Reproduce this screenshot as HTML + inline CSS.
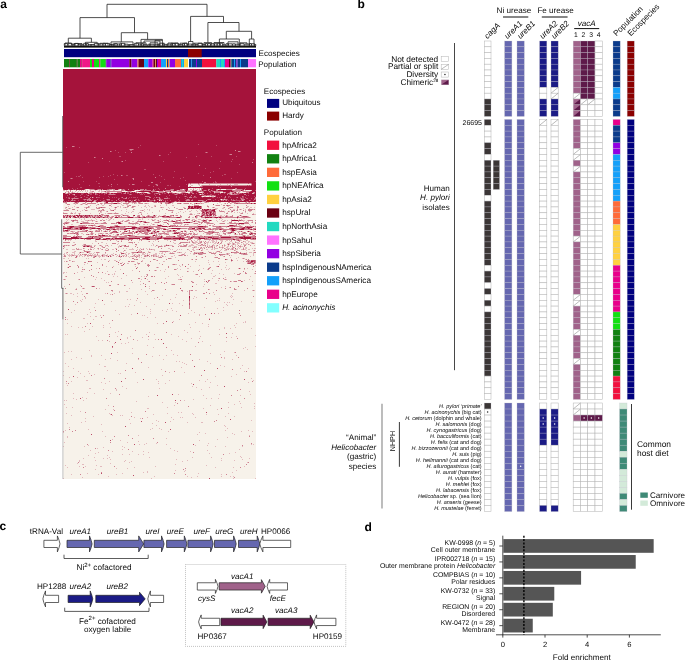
<!DOCTYPE html>
<html><head><meta charset="utf-8"><style>
html,body{margin:0;padding:0;background:#fff;}
svg{display:block;font-family:"Liberation Sans", sans-serif;will-change:transform;text-rendering:geometricPrecision;}
</style></head><body>
<svg width="685" height="661" viewBox="0 0 685 661">
<text x="0.3" y="8.2" font-size="12" text-anchor="start" font-style="normal" font-weight="bold" fill="#000" >a</text>
<rect x="63.30" y="69.00" width="192.70" height="410.00" fill="#f7f2ea" />
<g transform="translate(63.3,69.0)" shape-rendering="crispEdges" fill="none" stroke-width="1">
<path d="M125 115.5h1m1 0h1m7 0h2m9 0h1m10 0h1m6 0h1m2 0h1m3 0h4M128 116.5h2m6 0h1m1 0h1m14 0h1M126 117.5h1M130 119.5h1m1 0h1m3 0h1M22 120.5h1m3 0h1m22 0h1m6 0h1m62 0h1m7 0h2m5 0h1m1 0h1m17 0h1m1 0h1m12 0h1m2 0h1M0 121.5h2m1 0h1m12 0h1m3 0h1m1 0h1m1 0h1m2 0h1m4 0h1m3 0h1m1 0h1m4 0h4m3 0h2m9 0h1m15 0h1m36 0h2m9 0h2m4 0h1m4 0h1m45 0h1m5 0h1M3 122.5h2m4 0h1m2 0h1m2 0h1m1 0h1m1 0h1m2 0h1m1 0h1m2 0h2m6 0h2m1 0h3m2 0h1m20 0h1m3 0h1m24 0h1m6 0h1m9 0h2m1 0h2m9 0h1m26 0h1m23 0h1m1 0h1m1 0h1M6 123.5h1m1 0h1m1 0h2m2 0h1m8 0h1m2 0h4m1 0h1m6 0h1m3 0h2m2 0h1m31 0h1m2 0h1m3 0h1m18 0h1m1 0h1m2 0h1m8 0h1m3 0h1m16 0h1m11 0h1m9 0h1m5 0h2m4 0h1m2 0h1M3 124.5h1m21 0h1m59 0h2m29 0h1m50 0h2m20 0h2M11 125.5h1m84 0h1m71 0h1M141 127.5h2m3 0h1m1 0h3M29 128.5h1M161 130.5h1M71 131.5h1m19 0h1m6 0h1m80 0h1M31 132.5h1M11 133.5h1m11 0h1m9 0h1m7 0h1m6 0h2m4 0h2m2 0h1m3 0h2m3 0h2m4 0h1m3 0h1m12 0h1m5 0h1m2 0h3m8 0h1m26 0h1m3 0h1m2 0h2m10 0h2m10 0h1m4 0h4m5 0h1m2 0h1M2 134.5h1m7 0h1m1 0h1m6 0h1m2 0h1m16 0h1m17 0h1m11 0h1m2 0h2m1 0h1m5 0h1m2 0h2m11 0h1m9 0h1m1 0h1m8 0h1m1 0h1m7 0h1m8 0h1m1 0h2m13 0h1m6 0h1m6 0h1M12 135.5h1m4 0h1m1 0h1m2 0h1m1 0h1m9 0h1m3 0h1m2 0h1m6 0h1m9 0h1m4 0h2m38 0h1m25 0h1m1 0h1m26 0h1M27 136.5h1m5 0h1m5 0h2m18 0h2m3 0h2m9 0h1m6 0h1m2 0h1m5 0h2m4 0h1m5 0h1m5 0h2m15 0h1m17 0h1m7 0h1m14 0h1m3 0h1M5 137.5h1m5 0h1m14 0h1m21 0h1m5 0h2m1 0h1m14 0h1m8 0h2m3 0h1m4 0h1m72 0h2m9 0h1m8 0h2M2 138.5h1m6 0h1m3 0h1m7 0h2m3 0h1m8 0h1m6 0h1m8 0h1m5 0h1m2 0h2m1 0h2m3 0h1m1 0h1m7 0h1m4 0h1m4 0h2m7 0h1m1 0h2m4 0h1m14 0h2m23 0h1m3 0h1m1 0h1m8 0h1m5 0h1m17 0h1m2 0h2m2 0h1M2 139.5h1m2 0h1m1 0h1m25 0h1m12 0h1m5 0h1m53 0h1m6 0h2m9 0h1m27 0h3m4 0h2m5 0h1m7 0h1m5 0h1m5 0h1M3 140.5h2m16 0h1m6 0h4m15 0h1m3 0h2m10 0h1m7 0h1m9 0h1m2 0h1m1 0h1m12 0h1m4 0h1m10 0h1m20 0h1m11 0h1m4 0h1m8 0h1m7 0h2m4 0h1m1 0h1m3 0h1m7 0h1M0 141.5h1m18 0h1m4 0h1m10 0h1m1 0h1m1 0h1m1 0h1m5 0h1m10 0h1m18 0h2m1 0h1m5 0h1m9 0h1m13 0h1m17 0h1m4 0h1m3 0h1m20 0h1m9 0h2m3 0h1m8 0h1M17 142.5h1m17 0h1m2 0h1m4 0h1m19 0h1m5 0h2m10 0h1m14 0h1m12 0h1m7 0h1m4 0h1m3 0h2m6 0h1m21 0h1m4 0h1m4 0h1m19 0h2M0 143.5h1m7 0h1m3 0h1m24 0h2m13 0h1m12 0h1m2 0h1m7 0h1m1 0h1m10 0h1m18 0h1m6 0h1m4 0h1m21 0h1m6 0h1m11 0h1m2 0h1m3 0h1m2 0h1m2 0h1m1 0h1m2 0h1m2 0h1M4 144.5h1m2 0h1m3 0h2m2 0h1m1 0h1m9 0h1m14 0h1m1 0h1m4 0h2m4 0h1m6 0h1m12 0h1m2 0h1m5 0h1m17 0h1m10 0h1m13 0h2m5 0h2m2 0h1m38 0h1m6 0h1m5 0h1M40 145.5h1m17 0h2m66 0h1m2 0h1m1 0h1m6 0h1m3 0h1m2 0h1m45 0h2M1 146.5h1m6 0h1m1 0h1m19 0h1m4 0h1m2 0h1m1 0h1m10 0h1m5 0h1m1 0h1m5 0h1m8 0h1m4 0h1m4 0h1m1 0h1m5 0h2m2 0h1m3 0h1m11 0h1m23 0h1m14 0h1m1 0h1m3 0h2m2 0h1m2 0h1m11 0h1m1 0h1M2 147.5h1m2 0h1m3 0h1m6 0h1m3 0h1m7 0h1m1 0h1m2 0h1m2 0h1m2 0h1m1 0h1m1 0h1m2 0h1m1 0h1m3 0h1m17 0h1m8 0h1m16 0h1m11 0h1m1 0h1m23 0h1m1 0h1m4 0h1m1 0h1m1 0h1m1 0h6m2 0h2m1 0h3m4 0h2m11 0h1m6 0h1M2 148.5h1m2 0h1m3 0h1m6 0h1m9 0h1m1 0h1m3 0h1m12 0h2m4 0h1m19 0h1m20 0h4m3 0h1m18 0h1m10 0h2m3 0h1m52 0h1M16 149.5h1m4 0h1m10 0h1m12 0h1m1 0h1m31 0h1m53 0h1m8 0h1m10 0h1m3 0h2m15 0h1m5 0h2M3 150.5h1m1 0h1m6 0h1m5 0h1m2 0h1m6 0h1m4 0h1m5 0h1m3 0h1m2 0h2m2 0h1m14 0h1m9 0h3m1 0h1m5 0h1m2 0h2m1 0h2m4 0h1m5 0h1m2 0h1m5 0h1m4 0h1m11 0h3m3 0h3m2 0h1m2 0h2m11 0h1m2 0h1m8 0h1m2 0h1m4 0h1m1 0h1M4 151.5h1m17 0h3m1 0h3m1 0h2m13 0h2m12 0h2m2 0h1m2 0h1m8 0h1m15 0h1m2 0h1m5 0h1m7 0h1m10 0h1m1 0h1m1 0h1m4 0h1m2 0h1m1 0h1m4 0h1m6 0h1m7 0h1m4 0h1m2 0h2m1 0h1m15 0h2m2 0h1M3 152.5h1m10 0h1m3 0h3m3 0h1m4 0h1m2 0h1m1 0h1m20 0h1m1 0h2m2 0h1m2 0h1m4 0h2m24 0h2m2 0h1m6 0h2m6 0h1m2 0h1m11 0h1m2 0h3m1 0h1m2 0h1m6 0h1m7 0h1m4 0h1m1 0h1m18 0h1m2 0h1m1 0h1m3 0h1M1 153.5h1m4 0h1m6 0h1m1 0h1m3 0h1m5 0h1m14 0h1m24 0h1m6 0h1m1 0h1m2 0h1m2 0h1m5 0h1m4 0h1m4 0h1m3 0h1m18 0h1m9 0h1m5 0h1m1 0h1m8 0h1m24 0h2m8 0h1m3 0h1m2 0h1M5 154.5h1m21 0h1m7 0h3m14 0h1m6 0h1m5 0h1m9 0h1m12 0h1m16 0h1m13 0h1m10 0h1m12 0h1m6 0h1m5 0h1m7 0h3M8 155.5h2m21 0h1m37 0h2m1 0h1m7 0h2m2 0h1m4 0h1m1 0h1m2 0h1m2 0h1m2 0h1m10 0h1m6 0h1m2 0h1m1 0h1m1 0h1m9 0h1m1 0h1m6 0h1m31 0h1m1 0h3m5 0h1M15 156.5h1m6 0h1m9 0h1m3 0h1m3 0h1m10 0h1m35 0h1m11 0h1m17 0h1m3 0h1m12 0h1m7 0h1m6 0h2m25 0h2m9 0h1M29 157.5h1m2 0h1m39 0h1m3 0h1m72 0h1m29 0h1m11 0h1M3 158.5h1m28 0h1m4 0h1m24 0h1m5 0h1m21 0h1m1 0h1m4 0h1m6 0h1m24 0h2m12 0h2m13 0h1m4 0h1m4 0h2m6 0h1m15 0h1M10 159.5h1m32 0h1m9 0h1m2 0h1m45 0h1m2 0h1m18 0h1m8 0h1m11 0h1m3 0h1m10 0h1m26 0h2M19 160.5h1m6 0h1m1 0h1m12 0h2m4 0h1m8 0h1m15 0h2m14 0h1m1 0h1m7 0h1m6 0h1m34 0h1m10 0h1m3 0h1M19 161.5h3m10 0h1m1 0h2m6 0h1m1 0h1m1 0h1m4 0h2m2 0h1m5 0h2m1 0h2m8 0h1m1 0h1m13 0h2m12 0h2m2 0h2m11 0h2m8 0h1m1 0h1m1 0h2m12 0h1m2 0h1m10 0h1m3 0h1m5 0h1m16 0h1M2 162.5h1m2 0h1m1 0h1m2 0h2m2 0h1m1 0h1m8 0h1m12 0h1m1 0h1m3 0h1m4 0h1m14 0h1m7 0h1m10 0h1m3 0h1m1 0h1m2 0h2m2 0h1m4 0h3m4 0h2m7 0h1m5 0h1m4 0h1m4 0h1m5 0h1m1 0h1m9 0h1m5 0h1m16 0h2m1 0h1m1 0h1m7 0h1m3 0h1M9 163.5h2m4 0h1m8 0h1m4 0h1m17 0h1m7 0h1m3 0h1m1 0h1m3 0h1m3 0h1m6 0h1m8 0h1m4 0h1m3 0h2m4 0h1m3 0h2m11 0h1m1 0h1m3 0h1m6 0h1m10 0h1m18 0h1m2 0h2m6 0h1m7 0h1m9 0h1M6 164.5h1m8 0h1m2 0h2m7 0h1m2 0h1m4 0h2m2 0h2m1 0h1m3 0h1m11 0h1m16 0h2m1 0h1m11 0h1m1 0h2m1 0h1m8 0h2m3 0h1m7 0h1m5 0h1m1 0h1m4 0h1m3 0h1m5 0h1m2 0h1m10 0h1m1 0h1m7 0h1m6 0h1m6 0h1M20 165.5h1m5 0h2m7 0h1m9 0h1m4 0h1m2 0h1m6 0h1m8 0h1m4 0h2m9 0h1m5 0h1m3 0h2m1 0h1m2 0h2m15 0h1m9 0h1m5 0h1m8 0h3m1 0h1m4 0h2m1 0h2m4 0h1m9 0h1m1 0h2m2 0h1m13 0h1M11 166.5h1m40 0h2m1 0h1m5 0h1m8 0h2m17 0h1m4 0h1m1 0h1m1 0h1m7 0h1m10 0h1m11 0h1m1 0h1m5 0h2m10 0h1m5 0h1m10 0h1m12 0h1m2 0h1m1 0h2m3 0h1M12 167.5h1m41 0h2m32 0h1m5 0h1m17 0h1m1 0h1m8 0h1m4 0h1m11 0h1M3 168.5h1m14 0h1m4 0h1m6 0h1m18 0h1m6 0h1M131 169.5h1m14 0h1m24 0h2M12 170.5h1m10 0h1m50 0h1m59 0h1m41 0h2m2 0h1m3 0h1m2 0h1M5 171.5h1m1 0h1m24 0h1m11 0h1m8 0h1m4 0h1m17 0h1m15 0h1m11 0h1m5 0h1m20 0h1m2 0h1m1 0h1m9 0h1m1 0h3m2 0h1m3 0h3m3 0h2m1 0h1m4 0h1m1 0h1m3 0h2m4 0h2M32 172.5h2m20 0h1m30 0h1m4 0h1m35 0h1m1 0h1m3 0h2m2 0h2m2 0h1m4 0h1m3 0h3m1 0h1m4 0h2m2 0h1m4 0h2m3 0h1m8 0h2m2 0h2M10 173.5h2m26 0h2m25 0h1m9 0h1m34 0h1m14 0h1m5 0h4m1 0h1m6 0h3m1 0h1m1 0h2m1 0h2m12 0h1m2 0h1m3 0h3m3 0h1m2 0h1m2 0h1m1 0h3M29 174.5h1m13 0h1m11 0h1m13 0h1m19 0h1m21 0h2m17 0h3m3 0h2m3 0h1m2 0h1m6 0h2m2 0h1m2 0h1m5 0h4m1 0h1m1 0h1m2 0h3m3 0h1m2 0h2m3 0h1m2 0h1M11 175.5h1m8 0h1m33 0h1m35 0h1m12 0h1m11 0h1m4 0h1m3 0h1m3 0h2m3 0h2m6 0h1m2 0h1m5 0h1m5 0h1m4 0h1m2 0h1m1 0h1m2 0h1m1 0h2m1 0h1m3 0h1m1 0h4m2 0h1M0 176.5h1m1 0h1m1 0h1m1 0h1m4 0h1m7 0h2m6 0h2m2 0h2m3 0h1m1 0h1m3 0h2m4 0h1m7 0h1m1 0h3m4 0h1m7 0h1m14 0h1m1 0h1m3 0h1m3 0h1m2 0h2m3 0h4m6 0h3m1 0h1m5 0h5m4 0h2m1 0h2m1 0h1m2 0h1m1 0h1m3 0h2m1 0h1m8 0h1m2 0h1m2 0h2m2 0h1m4 0h1m13 0h1M1 177.5h1m36 0h1m3 0h1m2 0h1m9 0h2m35 0h1m6 0h1m2 0h1m20 0h1m1 0h3m3 0h3m8 0h1m3 0h2m3 0h1m1 0h1m2 0h1m2 0h1m1 0h1m2 0h2m6 0h1m1 0h1m3 0h2M1 178.5h1m25 0h1m2 0h1m8 0h1m15 0h1m73 0h2m1 0h2m1 0h1m1 0h1m2 0h2m4 0h3m8 0h2m1 0h1m2 0h2m4 0h1m1 0h1m3 0h1m1 0h1m2 0h1m1 0h2M15 179.5h1m5 0h1m5 0h1m3 0h1m2 0h1m2 0h1m5 0h2m7 0h2m6 0h1m2 0h1m5 0h1m7 0h1m2 0h1m2 0h1m2 0h1m18 0h2m23 0h1m7 0h2m9 0h1m1 0h4m4 0h1m2 0h1m1 0h3m1 0h1m1 0h1m3 0h1m1 0h1m5 0h2m5 0h1m1 0h2M3 180.5h2m4 0h3m1 0h1m2 0h3m11 0h1m4 0h1m2 0h1m3 0h1m6 0h2m15 0h5m3 0h1m1 0h1m2 0h1m4 0h1m2 0h1m1 0h3m15 0h1m1 0h1m4 0h1m1 0h1m1 0h1m6 0h1m3 0h2m2 0h3m3 0h1m3 0h2m3 0h2m1 0h1m6 0h1m3 0h1m1 0h1m2 0h2m1 0h1m1 0h3m3 0h2m1 0h2m2 0h2M20 181.5h1m21 0h1m2 0h1m16 0h1m13 0h2m13 0h1m21 0h1m12 0h1m3 0h2m7 0h1m17 0h1m3 0h3m8 0h1m10 0h1m6 0h1M11 182.5h2m14 0h1m32 0h1m15 0h2m7 0h1m10 0h1m8 0h2m3 0h1m16 0h1m17 0h1m7 0h1m20 0h1M3 183.5h1m5 0h3m4 0h1m1 0h3m2 0h1m2 0h1m4 0h1m4 0h1m20 0h2m4 0h1m4 0h1m10 0h1m5 0h1m1 0h1m11 0h1m2 0h1m4 0h1m1 0h1m4 0h2m1 0h2m3 0h1m9 0h5m3 0h1m7 0h1m1 0h1m1 0h2m2 0h2m25 0h1m2 0h3m1 0h1M1 184.5h1m1 0h1m7 0h1m4 0h1m9 0h3m1 0h1m3 0h1m7 0h1m7 0h1m10 0h2m2 0h2m2 0h2m8 0h2m1 0h1m1 0h1m7 0h2m2 0h1m1 0h2m6 0h1m4 0h1m9 0h1m5 0h1m2 0h1m3 0h1m28 0h1m1 0h2m4 0h3m16 0h1M0 185.5h2m2 0h1m1 0h1m1 0h2m1 0h1m3 0h1m4 0h1m4 0h1m1 0h1m1 0h1m1 0h2m6 0h3m2 0h1m3 0h2m3 0h1m2 0h1m1 0h1m3 0h2m1 0h1m3 0h1m1 0h2m2 0h2m2 0h3m2 0h1m1 0h1m3 0h4m24 0h1m2 0h1m8 0h2m3 0h1m3 0h1m11 0h1m10 0h2m1 0h1m12 0h2m4 0h1m5 0h1M2 186.5h1m2 0h4m2 0h4m1 0h3m2 0h1m3 0h1m3 0h8m1 0h1m1 0h3m1 0h1m1 0h1m2 0h1m4 0h1m4 0h3m8 0h1m2 0h3m2 0h1m2 0h1m1 0h1m5 0h1m1 0h3m1 0h1m2 0h2m11 0h1m3 0h1m3 0h1m4 0h1m27 0h1m5 0h2m8 0h1m21 0h1M0 187.5h1m5 0h1m1 0h1m5 0h1m1 0h1m2 0h1m1 0h1m2 0h2m2 0h1m1 0h1m2 0h1m1 0h3m2 0h2m1 0h2m3 0h1m4 0h1m1 0h1m1 0h1m4 0h2m1 0h1m1 0h2m1 0h2m1 0h1m1 0h2m6 0h2m3 0h1m2 0h2m1 0h2m1 0h1m2 0h1m1 0h1m5 0h2m50 0h1m26 0h1M36 188.5h1m20 0h1m8 0h1m9 0h1m1 0h1m16 0h1m16 0h1m25 0h1m12 0h1m15 0h1m7 0h1M0 189.5h2m3 0h1m17 0h1m1 0h1m54 0h2m26 0h1m64 0h1m5 0h1m1 0h1M38 190.5h1m2 0h2m14 0h1m14 0h1m19 0h1m35 0h1m3 0h1m31 0h1m17 0h1M7 191.5h1m38 0h1m4 0h2m3 0h1m22 0h1m13 0h1m51 0h1m28 0h1m12 0h1M1 192.5h1m2 0h1m5 0h2m42 0h1m16 0h1m7 0h1m20 0h2m30 0h1m17 0h1m4 0h1m12 0h1m11 0h1M34 193.5h1m24 0h1m14 0h1m70 0h1m16 0h1m21 0h1m5 0h1M24 194.5h1m39 0h2m8 0h1m7 0h1m13 0h1m91 0h1m3 0h1M21 195.5h1m33 0h1m15 0h1m3 0h1m8 0h1m24 0h1m2 0h2m32 0h1m9 0h1M116 196.5h1m2 0h1m16 0h1m26 0h1m28 0h1M43 197.5h1m6 0h1m21 0h1m44 0h1m9 0h1m25 0h1M4 198.5h1m14 0h1m73 0h1m1 0h1m50 0h1m15 0h1M33 199.5h1m80 0h1m9 0h2m14 0h1m25 0h1m8 0h1m1 0h1m6 0h1M20 200.5h1m36 0h1m44 0h1m10 0h1m3 0h1m18 0h1m7 0h1m13 0h1m4 0h1m1 0h1m15 0h1m7 0h1M69 201.5h1m21 0h1m1 0h1m3 0h1m51 0h1M18 202.5h2m24 0h1m7 0h1m48 0h1m23 0h1m4 0h1M0 203.5h2m1 0h1m10 0h1M0 204.5h1m41 0h1m8 0h1m96 0h1m7 0h1m14 0h1m4 0h1m14 0h1M46 205.5h1m2 0h1m1 0h1m31 0h1m30 0h1m17 0h1m27 0h1M63 206.5h1m51 0h1m36 0h1M2 207.5h1m47 0h1m3 0h1m23 0h1m2 0h1m23 0h1m13 0h1m16 0h1m13 0h2m35 0h1M21 208.5h1m11 0h1m83 0h1m44 0h1M38 209.5h1m19 0h1m22 0h1m20 0h1m46 0h1m5 0h1M0 210.5h1m1 0h1m12 0h1m16 0h1m45 0h1m5 0h1m30 0h2m24 0h1m19 0h1m1 0h1m22 0h1M41 211.5h1m113 0h1m25 0h1M77 212.5h1m7 0h1m32 0h1m10 0h1m11 0h1m26 0h1m1 0h1m18 0h1M43 213.5h1m1 0h1m23 0h1M152 214.5h2M54 215.5h1m22 0h1m30 0h1m24 0h1m7 0h1M17 216.5h1m44 0h1m126 0h1M1 217.5h1m26 0h1m57 0h1m53 0h1m21 0h1M158 218.5h1m7 0h1M13 219.5h1m5 0h1m1 0h1m14 0h1m29 0h1m19 0h1M12 220.5h1m65 0h1m67 0h1m26 0h1M91 221.5h1m35 0h1m4 0h2m47 0h1m7 0h1m1 0h1M18 222.5h1m30 0h1m6 0h1m6 0h2m17 0h1m5 0h1m30 0h1m4 0h1M56 223.5h1m93 0h1M2 224.5h1m1 0h1m2 0h2m5 0h1m27 0h1m8 0h1m117 0h1M10 225.5h1m8 0h1m27 0h1m26 0h1m9 0h1m28 0h1m37 0h1M99 226.5h1m26 0h1m41 0h1M14 227.5h1m116 0h1m35 0h1m1 0h1M22 228.5h1m89 0h1m20 0h1m34 0h1M22 229.5h1m68 0h1m38 0h1m25 0h1M19 230.5h1m15 0h1m28 0h1m2 0h1m28 0h1m10 0h1m62 0h1M17 231.5h1m55 0h1m46 0h1m33 0h1m1 0h1M2 232.5h1m15 0h1m29 0h1m103 0h1m25 0h1M77 233.5h1m83 0h1m2 0h1m1 0h1m21 0h1M32 234.5h1m76 0h1m6 0h1M12 235.5h1m28 0h1m24 0h1m24 0h1m71 0h1m5 0h1M71 236.5h1m47 0h1m44 0h1M62 237.5h1m2 0h1m17 0h1M31 238.5h1m109 0h1m18 0h1M108 239.5h1m45 0h1M26 240.5h1m60 0h1m16 0h1M11 241.5h1m40 0h1m46 0h1m9 0h1m18 0h1m31 0h1M87 242.5h1m15 0h1m9 0h1m76 0h1M8 243.5h1m18 0h1m103 0h1M87 244.5h1m37 0h1m29 0h1M24 245.5h1m31 0h1m11 0h1m67 0h1M37 246.5h1m41 0h1m1 0h1m54 0h1M27 247.5h1m4 0h2M84 248.5h1m7 0h1M20 249.5h2m124 0h1M4 250.5h1m25 0h1m85 0h1M110 252.5h1m71 0h1M132 253.5h1m47 0h1m1 0h1M4 254.5h1m19 0h1m21 0h1m47 0h1m44 0h1m33 0h1M126 255.5h1m18 0h1M40 256.5h1m130 0h1M8 257.5h1m20 0h1m115 0h1M15 258.5h1m3 0h1m20 0h1m6 0h1m79 0h1m33 0h1m10 0h1M161 259.5h1m5 0h1m20 0h1M26 260.5h1m129 0h1M121 261.5h1M21 262.5h1m33 0h1m80 0h1M52 263.5h1m33 0h1m37 0h1M169 264.5h1M2 265.5h1m1 0h1m78 0h1m7 0h1m16 0h1m47 0h1M192 266.5h1M33 267.5h1m20 0h1m12 0h1m47 0h1m21 0h1m35 0h1M64 268.5h1m14 0h1m88 0h1M64 269.5h1m63 0h1m7 0h1M85 270.5h1m6 0h1m26 0h1M35 271.5h1m3 0h1m34 0h1M46 272.5h1m76 0h1m15 0h1m23 0h1M65 273.5h1M51 274.5h1m6 0h1m3 0h1M84 276.5h1m62 0h1M132 277.5h1m59 0h1M90 278.5h1m91 0h1M69 279.5h1m110 0h1M184 280.5h1M26 281.5h1m81 0h1M5 282.5h1m2 0h1m152 0h1M1 283.5h1m52 0h1m116 0h1M69 284.5h1m77 0h1M110 285.5h1m46 0h1M28 286.5h1m9 0h1m57 0h1m6 0h1m10 0h1m58 0h1M28 287.5h1m60 0h1M13 288.5h1m147 0h1M18 289.5h1m28 0h1m113 0h1M8 290.5h1m33 0h1m32 0h1m24 0h1m35 0h1m32 0h1M54 291.5h1M113 292.5h1m2 0h1m27 0h1M119 293.5h1M2 294.5h1m60 0h1m57 0h1m25 0h1M36 295.5h1m86 0h1M157 296.5h1m21 0h1M5 297.5h1m35 0h2m118 0h1M85 298.5h1m32 0h1M10 299.5h1m166 0h1m7 0h1M98 300.5h1M44 301.5h1M0 302.5h1m14 0h1m9 0h1m155 0h1M72 303.5h1m33 0h1m14 0h1M17 304.5h1m8 0h1m28 0h1m1 0h1M31 305.5h1m141 0h1M0 306.5h1m98 0h1M21 307.5h1m130 0h1m15 0h1M6 308.5h1m7 0h1M188 309.5h1M93 310.5h1m50 0h1M23 311.5h2m81 0h1m29 0h1m53 0h1M8 312.5h1m37 0h1m48 0h1m46 0h1M38 313.5h1m35 0h1m72 0h1m37 0h1M3 314.5h1m38 0h1m52 0h1m6 0h1m25 0h1M4 316.5h1m149 0h1M59 317.5h1m69 0h1M133 318.5h1m12 0h1M26 319.5h2m35 0h1m32 0h1M40 320.5h1m12 0h1m84 0h1M53 321.5h1M186 322.5h1M24 323.5h1M10 324.5h1m20 0h1m15 0h1M115 325.5h1m40 0h1m30 0h1M140 326.5h1m36 0h1M85 327.5h1M19 328.5h1M10 329.5h1m12 0h1m119 0h1m4 0h1m6 0h1M13 330.5h1m116 0h1M1 331.5h1m1 0h1m16 0h1m100 0h1M73 332.5h1m102 0h1M99 333.5h1m12 0h1m52 0h1M177 334.5h1m13 0h1M1 335.5h1m169 0h1M45 336.5h1m65 0h1m35 0h1M191 337.5h1M3 338.5h1m5 0h1m94 0h1m60 0h1m12 0h1M84 339.5h2m54 0h1m50 0h1M42 340.5h1m7 0h1m103 0h1M17 342.5h1M68 343.5h1m46 0h1m2 0h1M3 344.5h1m42 0h1m57 0h1m24 0h1m35 0h1M47 345.5h1m42 0h1m39 0h1m12 0h1m11 0h1M8 346.5h1m40 0h1m7 0h1m1 0h1M30 347.5h1m131 0h1m8 0h1M71 348.5h1m12 0h1m23 0h1m8 0h1m1 0h1m12 0h1M22 349.5h1m54 0h1M66 350.5h1m43 0h1M93 351.5h1m94 0h1M22 352.5h1m72 0h1m11 0h1M18 353.5h1m105 0h1m13 0h2M4 354.5h1m62 0h1m21 0h1M38 355.5h1M93 356.5h1m67 0h1M162 357.5h1M6 358.5h1M89 359.5h1m6 0h1m67 0h1M25 360.5h1m61 0h1m10 0h1M2 361.5h1m159 0h1m22 0h1M39 362.5h1m65 0h1m72 0h1m10 0h1M0 363.5h1m135 0h1M142 364.5h1m26 0h1M134 365.5h1m36 0h1M75 366.5h1m110 0h1M4 367.5h1m37 0h1M4 368.5h1m159 0h1M103 369.5h1M49 370.5h1m104 0h1M57 371.5h1m78 0h1M75 372.5h1M1 373.5h1m62 0h1M83 374.5h1m9 0h1m51 0h1M76 375.5h1m4 0h1m21 0h1m84 0h1m1 0h1M25 376.5h1m106 0h1m11 0h1M0 377.5h1m20 0h1m37 0h1m92 0h1m9 0h1m16 0h1M40 378.5h1m20 0h1M34 379.5h1m72 0h1M59 380.5h1m116 0h1M27 381.5h1m83 0h1m32 0h1M49 382.5h1m19 0h1m10 0h1m33 0h1m12 0h1M35 383.5h1m49 0h1m86 0h1M32 384.5h1m113 0h1m19 0h1M59 385.5h1m6 0h1m8 0h1m4 0h1M25 386.5h1m18 0h1M177 387.5h1M31 388.5h1m14 0h1m39 0h1m42 0h1m18 0h1m29 0h1M20 389.5h1m19 0h1m3 0h1m113 0h1m27 0h1M47 390.5h1m65 0h1m65 0h1M16 391.5h1m15 0h1m29 0h1m61 0h1m33 0h1m12 0h1M16 392.5h1m44 0h1m6 0h1m50 0h1M66 393.5h1m117 0h1M14 394.5h1m32 0h1M19 395.5h2m91 0h1M2 396.5h1m30 0h1m109 0h1M16 397.5h1m5 0h1m14 0h2m53 0h1m88 0h1M4 398.5h1m66 0h1m80 0h1m17 0h1M53 399.5h1m10 0h1M32 400.5h1M112 401.5h1m9 0h1m50 0h1M84 402.5h1m36 0h1M80 403.5h1m3 0h1m84 0h1M24 404.5h1m34 0h1m75 0h1M8 405.5h1m26 0h1m17 0h1m104 0h1M45 407.5h1m45 0h1m32 0h1m9 0h1m23 0h1m8 0h1m2 0h1M19 408.5h1m108 0h1M0 409.5h1m87 0h1m81 0h1m21 0h1" stroke="#e2babe"/>
<path d="M9 77.5h2M67 80.5h3M172 81.5h1M47 82.5h1m127 0h2M68 83.5h1m74 0h1M167 85.5h2M96 86.5h1M31 88.5h1M39 89.5h1M59 92.5h1M189 93.5h1M136 96.5h1M58 106.5h1M92 108.5h1m54 0h1M8 109.5h1m61 0h1M70 110.5h1M5 112.5h1M88 113.5h2m51 0h2M126 114.5h1m1 0h7m1 0h3m1 0h45m1 0h2M48 115.5h1m20 0h2m22 0h1m94 0h1M94 116.5h1m44 0h14m1 0h12m1 0h17m1 0h1m1 0h1M127 117.5h1m9 0h2m29 0h1M102 119.5h1m35 0h2m32 0h2M5 120.5h1m21 0h4m4 0h3m1 0h1m6 0h3m1 0h2m3 0h1m2 0h1m1 0h1m4 0h1m11 0h4m1 0h1m7 0h1m17 0h3m6 0h2m2 0h1m8 0h1m7 0h1m6 0h2m6 0h1m3 0h1m5 0h6m4 0h6m2 0h1M7 121.5h1m5 0h1m4 0h1m39 0h3m10 0h1m6 0h2m1 0h7m2 0h1m9 0h1m2 0h7m6 0h6m7 0h2m1 0h2m3 0h2m2 0h2m2 0h1m2 0h1m4 0h2m14 0h9m2 0h1M5 122.5h1m1 0h1m21 0h2m10 0h1m2 0h15m6 0h3m5 0h2m13 0h5m3 0h4m2 0h5m8 0h8m2 0h4m5 0h3m1 0h2m6 0h1m3 0h1m1 0h8m11 0h4m1 0h1m3 0h7M2 123.5h1m2 0h1m3 0h1m34 0h2m8 0h4m4 0h1m4 0h1m4 0h2m5 0h2m14 0h5m7 0h2m10 0h3m6 0h1m6 0h1m4 0h1m11 0h5m3 0h1m1 0h1m6 0h2m4 0h1m7 0h3m4 0h2M2 124.5h1m1 0h1m21 0h1m5 0h1m10 0h1m3 0h1m13 0h2m21 0h1m8 0h2m10 0h1m8 0h2m1 0h1m7 0h2m2 0h2m8 0h1m17 0h1m7 0h2m4 0h1m2 0h1m1 0h1M6 125.5h1m3 0h1m21 0h1m13 0h6m15 0h1m44 0h2m22 0h1m1 0h3m23 0h1m2 0h1m1 0h5m7 0h2M25 126.5h1m102 0h1m12 0h2m1 0h4m1 0h2M82 127.5h4m36 0h1m8 0h1m6 0h1m13 0h1m9 0h1m16 0h1M18 128.5h1m8 0h1m5 0h1m25 0h1m3 0h1m22 0h2m5 0h1m2 0h1m29 0h3m33 0h1m11 0h1m17 0h1M6 129.5h1m2 0h6m11 0h1m35 0h2m32 0h1m4 0h4m73 0h1m13 0h1M0 130.5h1m8 0h1m11 0h2m1 0h4m16 0h3m8 0h1m29 0h2m7 0h1m1 0h2m26 0h2m19 0h3m9 0h1m1 0h2m1 0h2m4 0h1m9 0h4m9 0h1M0 131.5h1m7 0h2m1 0h1m12 0h1m1 0h3m2 0h2m20 0h1m12 0h2m4 0h1m24 0h1m25 0h4m1 0h2m5 0h5m3 0h1m14 0h1m1 0h1m2 0h1m6 0h2m8 0h1m5 0h1M30 132.5h1m1 0h1m6 0h2m17 0h4m6 0h1m33 0h1m9 0h1m26 0h4M0 133.5h4m10 0h2m6 0h1m5 0h1m5 0h1m7 0h1m22 0h2m2 0h4m2 0h2m14 0h3m1 0h1m1 0h2m3 0h3m4 0h1m32 0h2m21 0h2m2 0h4m10 0h1m2 0h1M3 134.5h1m7 0h1m1 0h2m5 0h2m2 0h9m4 0h2m2 0h9m4 0h3m3 0h6m5 0h1m4 0h4m2 0h2m18 0h3m1 0h1m7 0h3m4 0h5m1 0h1m3 0h2m1 0h3m1 0h1m23 0h1m1 0h1m2 0h1m3 0h2m2 0h9m1 0h3m1 0h2M4 135.5h3m11 0h1m4 0h1m11 0h1M46 136.5h2m18 0h2m63 0h5m17 0h4m3 0h2m1 0h1m1 0h2m16 0h1M25 137.5h1m38 0h2m3 0h3m20 0h1m37 0h1m7 0h1m5 0h2m28 0h1M3 138.5h1m10 0h2m7 0h3m7 0h1m2 0h2m1 0h3m11 0h1m8 0h1m6 0h1m28 0h1m12 0h1m15 0h1m2 0h1m7 0h1m11 0h1m10 0h1m5 0h3m4 0h2m7 0h1M6 139.5h1m16 0h1m10 0h3m84 0h2m13 0h1m1 0h1m26 0h1M9 140.5h3m27 0h2m29 0h1m32 0h1m12 0h4m4 0h1m15 0h1m5 0h1m2 0h1m2 0h1m14 0h1m6 0h1m2 0h1m7 0h5m1 0h1M1 141.5h5m8 0h1m7 0h2m12 0h1m1 0h1m1 0h1m7 0h2m29 0h1m25 0h5m28 0h1m6 0h3m8 0h1m13 0h2m2 0h1m5 0h1m4 0h4M37 142.5h1m6 0h1m93 0h1m2 0h1m2 0h2m3 0h1m2 0h1m4 0h4m4 0h1m2 0h1m13 0h1M77 143.5h1m31 0h1m36 0h1m4 0h2M0 144.5h4m4 0h2m6 0h1m19 0h1m8 0h4m2 0h4m81 0h1m3 0h1m1 0h1m1 0h1m1 0h1m1 0h1m2 0h2m10 0h2m13 0h2M16 145.5h1m21 0h2m38 0h1m48 0h2m10 0h1m9 0h1m2 0h1m36 0h2M3 146.5h1m1 0h2m2 0h1m2 0h1m2 0h1m3 0h1m1 0h1m5 0h1m1 0h1m1 0h1m1 0h1m5 0h1m1 0h2m9 0h5m4 0h4m10 0h2m8 0h1m4 0h1m10 0h2m4 0h3m3 0h2m2 0h1m15 0h3m2 0h1m2 0h2m20 0h1m5 0h1M3 147.5h1m4 0h1m3 0h1m12 0h1m1 0h1m3 0h2m1 0h1m7 0h1m2 0h1m3 0h2m2 0h1m1 0h2m1 0h1m5 0h3m7 0h3m3 0h2m1 0h2m1 0h7m2 0h1m1 0h2m3 0h1m3 0h2m9 0h2m7 0h1m6 0h1m3 0h1m1 0h1m2 0h1m1 0h1m1 0h1m10 0h1m4 0h1m1 0h1m2 0h3m4 0h2m3 0h1m4 0h1M4 148.5h1m1 0h1m3 0h1m3 0h1m4 0h1m1 0h2m2 0h1m3 0h1m3 0h1m3 0h3m2 0h2m3 0h3m5 0h10m5 0h1m1 0h3m3 0h2m3 0h6m2 0h1m8 0h6m1 0h6m4 0h1m7 0h2m5 0h2m4 0h4m7 0h2m4 0h1m2 0h16m1 0h12M48 149.5h1M122 150.5h1m1 0h3M8 151.5h2m1 0h4m10 0h1m3 0h1m7 0h2m1 0h2m22 0h2m23 0h2m4 0h1m5 0h3m1 0h1m3 0h1m3 0h3m1 0h1m2 0h1m3 0h1m4 0h1m2 0h1m6 0h1m3 0h1m4 0h1m19 0h1m6 0h1m2 0h2m5 0h5m2 0h1M9 152.5h2m22 0h1m25 0h1m2 0h2m10 0h3m2 0h4m14 0h1m7 0h1m2 0h1m3 0h2m16 0h1m4 0h1m5 0h3m16 0h1m7 0h1m6 0h1M2 153.5h4m8 0h1m5 0h5m16 0h2m10 0h1m3 0h1m8 0h1m6 0h1m10 0h2m6 0h3m6 0h3m8 0h7m1 0h1m6 0h2m7 0h1m1 0h2m1 0h5m20 0h3m13 0h3m4 0h1m2 0h1M0 154.5h3m1 0h1m14 0h8m1 0h3m1 0h3m3 0h6m4 0h4m1 0h1m4 0h1m7 0h9m35 0h9m12 0h4m3 0h1m5 0h6m7 0h5m5 0h9m5 0h5m6 0h1M1 155.5h1m74 0h1m13 0h1m14 0h1m16 0h1m1 0h1m11 0h1m14 0h1m21 0h1m1 0h1M16 156.5h6m1 0h1m1 0h3m2 0h2m5 0h3m12 0h3m39 0h1m12 0h6m1 0h1m31 0h2m23 0h3M1 157.5h1m2 0h2m5 0h8m1 0h3m10 0h2m2 0h6m4 0h5m5 0h4m1 0h3m1 0h6m5 0h9m1 0h12m5 0h2m2 0h1m1 0h3m1 0h21m8 0h2m5 0h6m2 0h6m2 0h5m1 0h7m4 0h1m1 0h5m2 0h1M0 158.5h3m1 0h2m4 0h6m9 0h2m1 0h4m6 0h6m8 0h10m12 0h7m4 0h5m3 0h4m29 0h3m2 0h12m10 0h5m19 0h3m2 0h1m6 0h1M8 159.5h2m1 0h1m3 0h2m7 0h4m9 0h6m3 0h6m2 0h2m1 0h5m10 0h3m3 0h2m2 0h3m4 0h2m3 0h8m4 0h2m10 0h6m1 0h4m5 0h1m3 0h1m7 0h2m2 0h10m6 0h1m6 0h5m4 0h3m5 0h3M0 160.5h1m3 0h13m3 0h2m5 0h1m7 0h3m2 0h1m7 0h2m3 0h3m1 0h4m2 0h1m5 0h3m2 0h9m2 0h2m4 0h6m6 0h2m9 0h3m8 0h9m1 0h2m1 0h1m4 0h4m1 0h3m1 0h3m4 0h9m3 0h5m5 0h6m2 0h2M1 161.5h1m3 0h2m15 0h1m10 0h1m2 0h1m1 0h1m8 0h1m27 0h1m1 0h7m8 0h1m13 0h1m5 0h2m18 0h1m6 0h1m20 0h3m5 0h1m3 0h1M0 162.5h2m1 0h2m3 0h2m5 0h1m1 0h6m3 0h1m1 0h2m2 0h5m4 0h1m1 0h1m2 0h1m10 0h1m8 0h1m2 0h1m5 0h1m2 0h1m2 0h2m1 0h1m1 0h1m3 0h1m8 0h2m3 0h4m2 0h3m8 0h1m7 0h1m7 0h2m1 0h1m4 0h1m1 0h4m8 0h2m1 0h1m5 0h3m5 0h1m7 0h1m1 0h1m5 0h1M12 163.5h3m13 0h1m19 0h1m1 0h3m7 0h1m5 0h3m2 0h2m1 0h1m2 0h2m2 0h4m3 0h2m1 0h1m1 0h1m7 0h1m9 0h2m1 0h1m1 0h1m25 0h7m2 0h5m9 0h2m2 0h2m4 0h1m4 0h1m1 0h1m4 0h2M4 164.5h2m1 0h4m1 0h2m14 0h2m7 0h2m4 0h2m2 0h2m10 0h11m1 0h1m7 0h6m1 0h2m3 0h1m4 0h8m6 0h1m4 0h2m1 0h5m3 0h3m2 0h1m12 0h6m10 0h3m2 0h3m8 0h1m2 0h5m2 0h2m2 0h1M13 165.5h3m7 0h2m3 0h2m2 0h1m6 0h1m17 0h2m23 0h3m8 0h1m3 0h1m5 0h3m10 0h2m4 0h4m1 0h1m2 0h4m12 0h1m7 0h1m7 0h1m9 0h1m3 0h1m1 0h2m6 0h1m1 0h2m2 0h1M0 166.5h4m10 0h1m20 0h1m2 0h1m3 0h3m1 0h2m6 0h1m7 0h3m3 0h2m22 0h2m20 0h3m1 0h4m34 0h3m21 0h2m8 0h2M0 167.5h8m2 0h2m2 0h1m1 0h3m6 0h2m1 0h1m2 0h1m2 0h3m1 0h16m2 0h8m2 0h6m2 0h14m1 0h2m1 0h2m1 0h3m1 0h1m3 0h7m5 0h6m4 0h2m2 0h1m1 0h9m2 0h14m1 0h15m2 0h6m2 0h10M0 168.5h3m12 0h3m6 0h5m2 0h9m10 0h4m3 0h25m5 0h10m2 0h17m2 0h10m2 0h5m2 0h8m4 0h1m1 0h7m10 0h8m12 0h5M16 169.5h1m14 0h5m4 0h3m4 0h2m1 0h2m10 0h3m21 0h8m5 0h1m21 0h1m3 0h2m2 0h1m2 0h4m6 0h1m1 0h2m1 0h2m7 0h15m2 0h4m11 0h1M0 170.5h1m2 0h6m12 0h1m2 0h4m4 0h1m4 0h2m5 0h4m1 0h1m1 0h7m2 0h6m1 0h3m6 0h7m4 0h7m1 0h1m5 0h15m1 0h2m1 0h1m1 0h6m7 0h3m3 0h7m1 0h7m1 0h13m2 0h4m5 0h1m6 0h5M2 171.5h1m44 0h1m17 0h1m2 0h1m9 0h1m32 0h2m11 0h1m3 0h1m39 0h1m5 0h1m1 0h1M55 172.5h1m2 0h1m27 0h1m8 0h1m11 0h1m21 0h1m8 0h1m3 0h1m33 0h1m3 0h1M0 173.5h7m59 0h4m1 0h1m45 0h8m1 0h1m2 0h2m6 0h2m2 0h1m16 0h1m13 0h1m5 0h1M35 174.5h1m13 0h4m63 0h2m17 0h1m6 0h1m11 0h1m2 0h1m12 0h1m18 0h2M12 175.5h1m8 0h2m49 0h2m49 0h1m14 0h2m30 0h1m14 0h1M1 176.5h1m1 0h1m1 0h1m3 0h2m10 0h6m10 0h1m6 0h1m16 0h1m31 0h1m10 0h1m16 0h3m13 0h1m2 0h1m1 0h1m6 0h1m4 0h1m4 0h1m1 0h1m13 0h1m5 0h2m4 0h1M22 177.5h2m2 0h3m2 0h1m7 0h1m18 0h1m2 0h5m6 0h1m22 0h4m2 0h1m7 0h2m4 0h1m1 0h6m21 0h1m3 0h2m17 0h1m1 0h1m6 0h2m3 0h1M28 178.5h2m10 0h2m32 0h1m20 0h1m35 0h1m6 0h1m4 0h1m1 0h1m3 0h1m1 0h1m4 0h1m2 0h1m10 0h1M0 179.5h1m12 0h1m6 0h1m14 0h1m62 0h1m38 0h1m3 0h1m19 0h1m7 0h1m10 0h1M14 180.5h2m9 0h1m1 0h2m10 0h1m5 0h1m32 0h1m1 0h1m5 0h1m1 0h1m35 0h1m38 0h1m1 0h1m3 0h1m10 0h1M21 181.5h1m21 0h2m10 0h1m5 0h1m11 0h1m64 0h1m32 0h1m19 0h1M21 182.5h6m26 0h1m21 0h1m2 0h1m18 0h8m6 0h2m15 0h1m25 0h3m16 0h1M4 183.5h1m20 0h1m7 0h3m6 0h1m26 0h5m1 0h4m1 0h2m4 0h1m29 0h1m14 0h1m5 0h2m7 0h2m10 0h1m10 0h7m1 0h1m13 0h2M107 184.5h4m20 0h2m3 0h7m5 0h5m11 0h1m11 0h1m1 0h3m1 0h2M17 185.5h1m1 0h1m1 0h3m10 0h1m17 0h1m48 0h1m17 0h2m15 0h3m18 0h5m2 0h1m15 0h4M1 186.5h1m7 0h2m11 0h1m1 0h1m1 0h3m14 0h1m3 0h1m2 0h1m5 0h1m6 0h1m7 0h1m4 0h1m5 0h1m2 0h1m2 0h1m1 0h1m25 0h3m2 0h2m34 0h1m8 0h1M1 187.5h2m28 0h1m7 0h1m20 0h1m8 0h1m2 0h1m1 0h1m6 0h2m3 0h1m3 0h1m2 0h1m5 0h1m33 0h1m8 0h1m18 0h1M12 188.5h2m16 0h2m41 0h1m22 0h3m40 0h1m12 0h3M69 189.5h2m34 0h3m47 0h2m23 0h1M71 190.5h1m1 0h2m15 0h2m11 0h1m25 0h1m3 0h1m29 0h1m4 0h1m14 0h1m1 0h1M6 191.5h1m87 0h1m20 0h1m53 0h1m14 0h3m5 0h1M3 192.5h1m5 0h1m16 0h3m16 0h1m7 0h1m11 0h2m1 0h3m7 0h1m8 0h1m95 0h2m1 0h2m4 0h1M21 193.5h2m162 0h2m2 0h1m2 0h1M57 194.5h2m2 0h1m13 0h2m107 0h1m4 0h1m1 0h1M5 195.5h1m33 0h1m32 0h1m12 0h1m13 0h1m10 0h2m7 0h1m5 0h1m62 0h3M14 196.5h1m24 0h1m18 0h2m24 0h3M6 197.5h2m7 0h1m69 0h1m19 0h1m48 0h1m35 0h1M15 198.5h1m33 0h1m24 0h1m19 0h1m10 0h1m41 0h1M36 199.5h1m108 0h2m34 0h1M19 200.5h1m1 0h1m6 0h1m82 0h2m32 0h1M26 201.5h1m59 0h1m5 0h1m42 0h1M76 202.5h1m47 0h1m55 0h1m11 0h1M35 203.5h1m3 0h1m142 0h1M11 204.5h1m165 0h1m4 0h2m8 0h1M45 205.5h1m38 0h1m48 0h2m39 0h3M28 206.5h1m55 0h1M3 207.5h1m26 0h1m52 0h1m4 0h2m1 0h1M75 209.5h2m79 0h1m3 0h1M1 210.5h1m14 0h1m100 0h2m43 0h1M68 211.5h1m76 0h2m28 0h3M48 212.5h1m37 0h1m41 0h1m16 0h1m21 0h1m3 0h3m5 0h1M98 213.5h1m4 0h1m25 0h2m13 0h1M80 214.5h1m11 0h1m8 0h1M6 215.5h1m48 0h1m26 0h1m26 0h3M46 216.5h2m13 0h1M18 217.5h1m12 0h1m143 0h1M167 218.5h1M2 219.5h1m17 0h1m12 0h1m128 0h1m8 0h1m12 0h1M13 220.5h1m88 0h1m42 0h1m25 0h2M48 221.5h2m39 0h2m27 0h2m6 0h1m1 0h2m23 0h1m36 0h1M126 222.5h1M126 223.5h1m16 0h1M3 224.5h1m19 0h2m19 0h1m81 0h1m13 0h2m4 0h1M49 225.5h1m76 0h1M21 227.5h1m168 0h1M94 228.5h1M74 229.5h1m68 0h1M10 232.5h1m115 0h1M14 233.5h1m111 0h1M126 236.5h1M126 237.5h1M126 238.5h1M126 239.5h1M32 241.5h1m143 0h1M151 244.5h1m24 0h1M142 245.5h1M40 246.5h1m136 0h1M2 248.5h1m35 0h1M2 250.5h1M49 251.5h1M109 253.5h1M100 254.5h1M22 257.5h1M72 261.5h1M103 263.5h1M46 265.5h1m11 0h1M46 267.5h1m38 0h1M163 268.5h1M174 269.5h1M70 270.5h1m24 0h1M44 271.5h1M135 273.5h1M49 278.5h1m53 0h1M172 283.5h1M83 285.5h1m43 0h1M158 288.5h1m16 0h1M75 289.5h1M129 291.5h1M78 293.5h1M169 300.5h1M62 301.5h1M102 302.5h1m8 0h1m71 0h1M28 306.5h1m109 0h1M41 309.5h1m20 0h1M3 312.5h1m185 0h1M5 314.5h1M52 319.5h1M177 320.5h1M174 321.5h1M56 325.5h1M168 326.5h1M43 329.5h1m137 0h1M117 331.5h1M114 334.5h1M50 337.5h1m74 0h1M51 341.5h1M82 342.5h1M22 343.5h1M68 347.5h1M79 349.5h1M153 351.5h1M151 352.5h1M6 360.5h1M12 361.5h1M0 362.5h1m8 0h1M65 366.5h1M51 367.5h1m134 0h1M69 369.5h1m20 0h1M47 373.5h1m46 0h1M188 374.5h1M24 375.5h1M179 376.5h1M32 379.5h1M65 380.5h1M45 381.5h1M130 383.5h1M160 385.5h1M15 393.5h1m169 0h1M183 395.5h1M51 397.5h1M20 398.5h1m156 0h1M122 399.5h1M120 400.5h1M38 403.5h1M111 404.5h1M17 405.5h1m104 0h1m40 0h1M171 408.5h1" stroke="#ce8292"/>
<path d="M135 75.5h1M77 76.5h1m75 0h1M11 77.5h1M3 78.5h1m12 0h1m58 0h1M66 80.5h1m3 0h1M52 81.5h1m14 0h2M48 82.5h1m128 0h1M55 83.5h1m6 0h1m44 0h1m34 0h1m1 0h1M105 85.5h1m60 0h1M97 86.5h1M56 87.5h2m75 0h1m14 0h1m24 0h1M32 88.5h1m90 0h1M169 90.5h1m20 0h1M62 91.5h1M46 92.5h1m11 0h1m41 0h1m56 0h1m10 0h1M25 93.5h1M6 94.5h1M176 95.5h1M142 99.5h1m13 0h1M81 100.5h2M111 102.5h1m38 0h1M1 103.5h1m145 0h1m26 0h1M135 104.5h1M50 105.5h1m39 0h1m70 0h2M17 106.5h1m29 0h1m6 0h1m4 0h1m3 0h2m31 0h1m43 0h1m18 0h1M13 107.5h1m1 0h2m23 0h1m4 0h1m52 0h1M19 108.5h1m16 0h1m73 0h1m9 0h1M7 109.5h1m1 0h1m59 0h1m47 0h1m50 0h1M51 110.5h1m49 0h1M122 111.5h1M20 112.5h1m12 0h1m44 0h1m60 0h1m12 0h1m39 0h1M97 113.5h1m52 0h1m1 0h2M35 114.5h2m88 0h1m1 0h1m7 0h1m3 0h1m45 0h1m2 0h1M16 115.5h1m37 0h1m11 0h1m4 0h1m20 0h1m1 0h1m28 0h1M26 116.5h1m18 0h1m39 0h2m6 0h1m10 0h2m1 0h1m58 0h1m17 0h1m1 0h1m1 0h1M36 117.5h1m11 0h1m41 0h1m25 0h1m22 0h1m15 0h1M17 118.5h2m138 0h1M9 119.5h1m4 0h1m80 0h1m53 0h1m32 0h1M0 120.5h1m5 0h1m3 0h1m1 0h1m8 0h1m9 0h1m2 0h1m9 0h2m13 0h1m1 0h1m8 0h1m3 0h1m8 0h1m8 0h1m3 0h1m10 0h1m14 0h1m56 0h1M62 121.5h1m17 0h1m8 0h1m1 0h1m10 0h1m7 0h1m2 0h1m10 0h1m15 0h1m2 0h1m5 0h1m29 0h1m12 0h1M42 122.5h1m32 0h1m53 0h1m3 0h1m3 0h1m2 0h1m6 0h1m1 0h1m17 0h1m2 0h1m16 0h1M58 123.5h1m5 0h2m2 0h1m1 0h1m15 0h1m2 0h1m10 0h2m1 0h1m23 0h1m1 0h1m17 0h1m18 0h1m4 0h1M5 124.5h4m9 0h3m6 0h2m1 0h1m2 0h1m2 0h1m1 0h2m1 0h2m3 0h1m3 0h1m7 0h1m1 0h1m3 0h2m8 0h1m1 0h1m1 0h1m1 0h1m6 0h1m3 0h2m2 0h2m2 0h1m1 0h2m6 0h3m1 0h1m4 0h2m13 0h1m7 0h1m2 0h1m6 0h1m9 0h1m2 0h1m4 0h1m2 0h2m1 0h1m1 0h2m1 0h1m4 0h1m5 0h1M9 125.5h1m8 0h2m3 0h1m3 0h2m4 0h2m6 0h1m3 0h1m6 0h1m13 0h1m1 0h1m8 0h3m1 0h1m9 0h1m5 0h1m13 0h1m2 0h1m4 0h1m1 0h1m1 0h1m23 0h2m6 0h1m10 0h1m7 0h2M4 126.5h1m6 0h1m5 0h1m6 0h1m11 0h1m55 0h1m13 0h1m32 0h2m2 0h1m4 0h1m2 0h2m30 0h1m1 0h1M12 127.5h2m7 0h1m23 0h1m40 0h1m16 0h1m9 0h1m7 0h1m1 0h1m3 0h1m4 0h1m25 0h1m6 0h2m13 0h1m10 0h1M3 128.5h1m1 0h2m4 0h1m5 0h1m5 0h2m5 0h1m3 0h3m9 0h1m2 0h1m1 0h1m1 0h1m4 0h1m7 0h1m1 0h1m1 0h3m1 0h1m16 0h1m2 0h2m8 0h1m8 0h1m2 0h1m7 0h1m5 0h4m5 0h1m9 0h2m3 0h1m1 0h1m4 0h1m3 0h1m1 0h1m5 0h1m3 0h1m1 0h2m1 0h1M5 129.5h1m2 0h1m6 0h1m9 0h1m14 0h1m14 0h2m3 0h2m3 0h1m16 0h1m7 0h1m6 0h1m7 0h2m15 0h1m38 0h1m15 0h1m1 0h2m2 0h2m3 0h1m2 0h1M20 130.5h1m2 0h1m5 0h1m4 0h1m8 0h1m28 0h2m1 0h1m6 0h1m1 0h1m6 0h1m3 0h1m2 0h2m15 0h1m7 0h1m2 0h1m2 0h1m14 0h1m7 0h1m11 0h1m5 0h1m2 0h1m18 0h1M5 131.5h1m4 0h1m1 0h1m2 0h1m5 0h1m3 0h1m7 0h1m3 0h1m2 0h2m2 0h3m1 0h2m6 0h2m1 0h1m9 0h1m5 0h2m9 0h5m1 0h1m7 0h1m1 0h1m1 0h1m2 0h1m8 0h1m5 0h1m17 0h1m9 0h1m4 0h1m3 0h1m2 0h1m2 0h1m2 0h2m2 0h7m8 0h1m2 0h1M1 132.5h1m1 0h1m3 0h1m14 0h1m15 0h1m2 0h2m8 0h1m5 0h1m6 0h1m4 0h1m3 0h1m5 0h1m3 0h1m2 0h3m2 0h1m19 0h1m1 0h1m1 0h2m6 0h1m24 0h1m27 0h1m6 0h2m7 0h1M12 133.5h2m91 0h1m2 0h1M50 134.5h1m47 0h1m6 0h1m11 0h1m55 0h2m9 0h1m7 0h1M150 135.5h1M164 136.5h1M127 137.5h2M38 138.5h1m13 0h1m72 0h1m7 0h1m3 0h1M126 139.5h2m3 0h3m1 0h1M142 140.5h2m3 0h1m2 0h1M50 141.5h1m88 0h3m2 0h1m3 0h1M139 142.5h2m1 0h2m2 0h3m1 0h1m18 0h1M139 143.5h1m1 0h1m3 0h1m2 0h1m1 0h1M139 144.5h1m1 0h1m3 0h1m3 0h2M140 145.5h2m1 0h2m1 0h1m3 0h2M0 146.5h1m1 0h1m4 0h1m3 0h1m5 0h2m1 0h1m2 0h3m2 0h1m3 0h1m1 0h1m2 0h1m5 0h3m14 0h1m9 0h1m39 0h1m29 0h1m2 0h1m1 0h2m1 0h1m1 0h1m1 0h1m24 0h1M0 147.5h2m2 0h1m2 0h1m6 0h1m2 0h1m1 0h1m1 0h4m1 0h1m2 0h1m5 0h1m1 0h2m5 0h1m40 0h1m15 0h1m1 0h1m59 0h1m16 0h4M0 148.5h2m9 0h1m1 0h1m1 0h1m1 0h2m1 0h1m3 0h1m2 0h1m2 0h1m3 0h2m5 0h1m2 0h1m30 0h1m1 0h1m2 0h1m1 0h1m7 0h1m15 0h1m6 0h1m32 0h1m4 0h1M123 150.5h1M10 151.5h1m93 0h1m11 0h1m23 0h1m1 0h1m3 0h1m29 0h2M77 152.5h1m31 0h1m30 0h1M54 153.5h1m26 0h1m1 0h1m11 0h1m26 0h1M3 154.5h1m13 0h1m37 0h1m48 0h1M28 156.5h2m68 0h1m67 0h1m3 0h1M0 157.5h1m5 0h1m12 0h1m32 0h1m3 0h1m4 0h1m3 0h1m20 0h1m20 0h1m1 0h1m3 0h1m26 0h3m13 0h2m6 0h1m6 0h1m10 0h1m1 0h1m5 0h1M6 158.5h1m2 0h1m6 0h1m10 0h1m21 0h3m128 0h1m2 0h1M12 159.5h1m15 0h1m3 0h2m28 0h1m12 0h1m1 0h1m2 0h2m3 0h1m2 0h1m19 0h1m8 0h1m17 0h1m3 0h1m1 0h1m25 0h1m4 0h1m5 0h1m2 0h1m4 0h1M43 160.5h1m2 0h1m5 0h1m30 0h1m16 0h1m33 0h1m2 0h1m3 0h2m4 0h1m8 0h1m1 0h1m9 0h1m7 0h1m10 0h1m3 0h1M0 161.5h1m22 0h2m41 0h1m19 0h2m19 0h1M23 162.5h1m3 0h1m14 0h1m7 0h4m7 0h2m7 0h1m2 0h2m2 0h1m1 0h2m4 0h1m32 0h2m2 0h1m4 0h1m8 0h1m9 0h1m14 0h1m16 0h1M49 163.5h1m3 0h2m37 0h1m20 0h1m1 0h1m33 0h2m16 0h1m13 0h1M11 164.5h1m2 0h1m74 0h1m23 0h1m75 0h1m1 0h2M25 165.5h1m28 0h2m65 0h1M37 166.5h1m29 0h1m54 0h1M13 167.5h1m1 0h1m11 0h1m1 0h2m1 0h2m3 0h1m34 0h2m36 0h1m13 0h1m5 0h1m10 0h1m30 0h2m6 0h1m11 0h1M14 168.5h1m82 0h1m18 0h1m12 0h1m5 0h1m14 0h1m29 0h1M17 169.5h1m2 0h2m8 0h1m6 0h1m23 0h1m3 0h1m13 0h1m5 0h1m12 0h1m1 0h1m7 0h2m17 0h2m14 0h1m11 0h1m21 0h1m11 0h1m1 0h1M2 170.5h1m33 0h1m2 0h1m3 0h1m4 0h1m1 0h1m7 0h2m6 0h1m16 0h1m10 0h1m26 0h1m34 0h1m25 0h1M175 171.5h1M155 173.5h1M165 175.5h1M62 176.5h1m40 0h1m1 0h1M0 177.5h1m19 0h1m36 0h1M172 179.5h1M53 180.5h1M17 183.5h1m121 0h1m28 0h1M58 184.5h3m72 0h1m1 0h1m41 0h1m3 0h1M156 185.5h1M39 186.5h1m44 0h1M13 187.5h1m18 0h1m14 0h1m8 0h1m1 0h1M162 190.5h1M168 191.5h1m19 0h4M25 192.5h1m159 0h1m4 0h2M55 193.5h1m131 0h2m2 0h1M185 194.5h3m2 0h1M60 195.5h1M28 196.5h1M122 197.5h1m32 0h1M5 198.5h1M73 199.5h1m102 0h1M60 204.5h1m77 0h1M82 209.5h1M143 212.5h1m34 0h1M29 217.5h2m51 0h1m46 0h1M117 219.5h1M126 229.5h1M126 230.5h1M39 231.5h1m86 0h1M106 234.5h1m19 0h1M126 235.5h1M5 240.5h1M74 244.5h1m73 0h1M117 246.5h1M146 250.5h1M103 252.5h1M27 254.5h1M163 264.5h1M57 270.5h1m40 0h1M52 273.5h1M100 274.5h1M49 277.5h1M48 284.5h1M131 297.5h1M69 299.5h1m84 0h1M141 301.5h1M10 307.5h1M80 310.5h1m100 0h1M58 312.5h1M130 315.5h1M161 317.5h1M109 325.5h1M94 326.5h1M17 329.5h1M112 331.5h1M158 339.5h1M143 343.5h1M48 345.5h1M167 350.5h1M78 352.5h1M102 353.5h1M62 357.5h1M107 360.5h1M28 365.5h1M47 371.5h1M71 375.5h1m58 0h1M38 404.5h1M70 406.5h1M146 409.5h1" stroke="#ba4b67"/>
<path d="M0 0.5h193M0 1.5h193M0 2.5h193M0 3.5h193M0 4.5h193M0 5.5h193M0 6.5h193M0 7.5h193M0 8.5h193M0 9.5h193M0 10.5h193M0 11.5h193M0 12.5h193M0 13.5h193M0 14.5h193M0 15.5h193M0 16.5h193M0 17.5h193M0 18.5h193M0 19.5h193M0 20.5h193M0 21.5h193M0 22.5h193M0 23.5h193M0 24.5h193M0 25.5h193M0 26.5h193M0 27.5h193M0 28.5h193M0 29.5h193M0 30.5h193M0 31.5h193M0 32.5h193M0 33.5h193M0 34.5h193M0 35.5h193M0 36.5h193M0 37.5h193M0 38.5h193M0 39.5h193M0 40.5h193M0 41.5h193M0 42.5h193M0 43.5h193M0 44.5h193M0 45.5h193M0 46.5h193M0 47.5h193M0 48.5h193M0 49.5h193M0 50.5h193M0 51.5h193M0 52.5h193M0 53.5h193M0 54.5h193M0 55.5h193M0 56.5h193M0 57.5h193M0 58.5h193M0 59.5h193M0 60.5h193M0 61.5h193M0 62.5h193M0 63.5h193M0 64.5h193M0 65.5h193M0 66.5h193M0 67.5h193M0 68.5h193M0 69.5h193M0 70.5h193M0 71.5h193M0 72.5h193M0 73.5h193M0 74.5h193M0 75.5h135m1 0h57M0 76.5h77m1 0h75m1 0h39M0 77.5h9m3 0h181M0 78.5h3m1 0h12m1 0h58m1 0h117M0 79.5h193M0 80.5h66m5 0h122M0 81.5h52m1 0h14m2 0h103m1 0h20M0 82.5h47m2 0h126m3 0h15M0 83.5h55m1 0h6m1 0h5m1 0h38m1 0h34m3 0h48M0 84.5h193M0 85.5h105m1 0h60m3 0h24M0 86.5h96m2 0h95M0 87.5h56m2 0h75m1 0h14m1 0h24m1 0h19M0 88.5h31m2 0h90m1 0h69M0 89.5h39m1 0h153M0 90.5h169m1 0h20m1 0h2M0 91.5h62m1 0h130M0 92.5h46m1 0h11m2 0h40m1 0h56m1 0h10m1 0h24M0 93.5h25m1 0h163m1 0h3M0 94.5h6m1 0h186M0 95.5h176m1 0h16M0 96.5h136m1 0h56M0 97.5h193M0 98.5h193M0 99.5h142m1 0h13m1 0h36M0 100.5h81m2 0h110M0 101.5h193M0 102.5h111m1 0h38m1 0h42M0 103.5h1m1 0h145m1 0h26m1 0h18M0 104.5h135m1 0h57M0 105.5h50m1 0h39m1 0h70m2 0h30M0 106.5h17m1 0h29m1 0h6m1 0h3m2 0h3m2 0h31m1 0h43m1 0h18m1 0h33M0 107.5h13m1 0h1m2 0h23m1 0h4m1 0h52m1 0h94M0 108.5h19m1 0h16m1 0h55m1 0h17m1 0h9m1 0h26m1 0h45M0 109.5h7m3 0h59m2 0h46m1 0h50m1 0h24M0 110.5h51m1 0h18m1 0h30m1 0h91M0 111.5h122m1 0h70M0 112.5h5m1 0h14m1 0h12m1 0h44m1 0h60m1 0h12m1 0h39M0 113.5h88m2 0h7m1 0h43m2 0h7m1 0h1m2 0h39M0 114.5h35m2 0h88m64 0h4M0 115.5h16m1 0h31m1 0h5m1 0h11m1 0h2m3 0h20m3 0h28m1 0h1m64 0h4M0 116.5h26m1 0h18m1 0h39m2 0h6m2 0h9m2 0h1m1 0h17m64 0h4M0 117.5h36m1 0h11m1 0h41m1 0h25m1 0h8m15 0h15m1 0h12m1 0h24M0 118.5h17m2 0h138m1 0h35M0 119.5h9m1 0h4m1 0h80m1 0h6m1 0h22m15 0h9m1 0h22m2 0h8m1 0h10M1 120.5h4m2 0h3m1 0h1m1 0h8m11 0h2m4 0h1m1 0h4m8 0h3m7 0h3m1 0h4m1 0h3m1 0h2m4 0h1m2 0h6m1 0h1m1 0h3m1 0h10m4 0h6m6 0h2m14 0h6m2 0h6m27 0h1m1 0h11M63 121.5h8m17 0h1m3 0h8m1 0h1m9 0h2m9 0h2m15 0h1m4 0h1m1 0h2m2 0h3m2 0h14m9 0h1m10 0h3M76 122.5h12m19 0h1m15 0h1m6 0h3m8 0h5m2 0h1m11 0h7m1 0h2m18 0h5M59 123.5h3m1 0h1m2 0h1m2 0h1m1 0h1m15 0h2m1 0h5m7 0h1m27 0h5m6 0h6m1 0h3m12 0h3m6 0h1m13 0h4m2 0h1M0 124.5h2m7 0h9m3 0h4m4 0h1m1 0h1m2 0h2m1 0h1m2 0h1m3 0h2m2 0h2m1 0h7m1 0h1m3 0h1m2 0h8m1 0h1m1 0h1m1 0h1m1 0h3m4 0h3m6 0h2m1 0h1m2 0h2m1 0h3m3 0h1m7 0h5m2 0h2m2 0h2m1 0h5m1 0h1m1 0h2m1 0h6m1 0h5m1 0h3m1 0h2m6 0h1m8 0h1m1 0h4m1 0h3m3 0h1M0 125.5h6m1 0h2m3 0h6m2 0h3m1 0h3m2 0h3m3 0h6m1 0h3m8 0h13m3 0h8m3 0h1m1 0h9m1 0h4m2 0h13m4 0h4m1 0h1m1 0h1m1 0h12m5 0h6m2 0h6m1 0h8m1 0h1m10 0h5m2 0h10M0 126.5h4m1 0h6m1 0h5m1 0h6m2 0h10m1 0h55m1 0h13m1 0h21m1 0h10m14 0h30m1 0h1m1 0h7M0 127.5h12m2 0h7m1 0h23m1 0h36m5 0h16m1 0h9m1 0h7m3 0h3m1 0h3m2 0h5m15 0h5m1 0h3m1 0h2m2 0h12m2 0h10m1 0h1M0 128.5h3m1 0h1m2 0h4m1 0h5m2 0h4m2 0h2m1 0h1m2 0h2m4 0h9m1 0h2m1 0h1m1 0h1m1 0h4m2 0h3m1 0h2m1 0h1m1 0h1m3 0h1m1 0h11m2 0h3m1 0h1m4 0h7m1 0h8m1 0h2m1 0h7m1 0h1m3 0h1m4 0h5m1 0h9m2 0h3m1 0h1m1 0h4m2 0h2m1 0h1m1 0h5m2 0h2m1 0h1m2 0h1m1 0h9M0 129.5h5m2 0h1m8 0h9m2 0h13m1 0h14m2 0h3m4 0h1m1 0h16m1 0h7m1 0h5m2 0h3m6 0h15m1 0h38m1 0h15m4 0h2m2 0h3m1 0h2M1 130.5h8m1 0h10m8 0h1m1 0h4m1 0h8m4 0h8m1 0h16m2 0h1m1 0h6m1 0h1m3 0h4m1 0h2m6 0h15m1 0h7m4 0h2m1 0h14m4 0h4m1 0h4m8 0h3m1 0h1m1 0h2m1 0h4m4 0h9M1 131.5h4m1 0h2m5 0h2m1 0h5m1 0h2m5 0h2m3 0h3m1 0h2m2 0h2m3 0h1m2 0h3m1 0h2m2 0h1m1 0h6m2 0h1m1 0h1m2 0h2m2 0h9m7 0h3m3 0h1m1 0h1m1 0h1m1 0h2m1 0h8m1 0h5m5 0h1m2 0h5m6 0h2m1 0h6m1 0h4m1 0h2m3 0h1m2 0h1m1 0h2m13 0h5m2 0h2m1 0h2M0 132.5h1m1 0h1m1 0h3m1 0h14m1 0h7m3 0h5m5 0h8m1 0h5m5 0h2m1 0h3m2 0h3m1 0h5m1 0h3m1 0h2m3 0h2m1 0h10m1 0h8m3 0h1m2 0h6m1 0h15m4 0h5m1 0h27m1 0h6m2 0h7M43 133.5h2m61 0h2M51 134.5h3m79 0h1m54 0h1m2 0h1M125 137.5h2m2 0h1m1 0h7M126 138.5h1m1 0h2m1 0h2m1 0h3M125 139.5h1m2 0h3m3 0h1m2 0h1M139 140.5h1m1 0h1m2 0h2m5 0h1M142 141.5h2m5 0h3M151 142.5h1M140 143.5h1m2 0h2m2 0h1M143 144.5h1m3 0h1M147 145.5h2M4 146.5h1m8 0h2m1 0h1m5 0h1m3 0h1m9 0h1m34 0h1m19 0h1m47 0h1m4 0h1m2 0h1M6 147.5h1m3 0h2m3 0h1m2 0h1m80 0h2m3 0h2m26 0h1m5 0h1M3 148.5h1m3 0h1m4 0h1m10 0h1m7 0h1m4 0h1m3 0h1m11 0h3m10 0h5m6 0h1m4 0h1m7 0h1m24 0h3m25 0h4m1 0h2m3 0h3m1 0h2m16 0h1M141 151.5h1m5 0h1m21 0h6M78 152.5h1m31 0h2m19 0h1M55 153.5h2m25 0h1m38 0h1m1 0h4M18 154.5h1m37 0h2m118 0h5M95 156.5h3m69 0h3M7 157.5h4m24 0h2m16 0h3m43 0h5m2 0h1m28 0h5m25 0h1M7 158.5h2m8 0h8m19 0h5m20 0h5m7 0h4m96 0h1m2 0h5M0 159.5h8m5 0h2m2 0h7m5 0h3m2 0h3m26 0h9m4 0h1m9 0h2m21 0h8m12 0h3m4 0h2m2 0h1m27 0h4m7 0h2m4 0h1M17 160.5h2m25 0h2m4 0h2m9 0h2m21 0h1m16 0h2m54 0h1m11 0h2m6 0h4m7 0h1m3 0h1M2 161.5h3m79 0h2m24 0h2m57 0h3M63 162.5h1m12 0h1m14 0h1m2 0h2m89 0h1M73 163.5h1m94 0h1M88 164.5h1m22 0h2m1 0h1m57 0h1m15 0h1M187 165.5h1M36 166.5h1m2 0h3m23 0h2m23 0h2M98 167.5h1m12 0h1m69 0h1M8 168.5h6m15 0h1m52 0h5m11 0h1m18 0h1m10 0h1m7 0h1m8 0h4m9 0h10m8 0h4m1 0h7M0 169.5h16m2 0h2m2 0h8m6 0h1m6 0h4m2 0h1m2 0h9m5 0h11m3 0h5m9 0h4m3 0h7m2 0h11m15 0h6m7 0h6m23 0h10m2 0h1m1 0h1M33 170.5h3m4 0h3m41 0h3m29 0h1m2 0h1m50 0h2M21 177.5h1m2 0h2M136 180.5h1M24 183.5h1m49 0h1M45 187.5h1M188 192.5h2M126 227.5h1M126 228.5h1" stroke="#a5133b"/>
</g>
<path d="M107 4.3L207 4.3M107 4.3L107 17.6M80 17.6L134.5 17.6M80 17.6L80 38.2M68.3 38.2L91.4 38.2M68.3 38.2L68.3 43M65 43L71.5 43M91.4 38.2L91.4 42.3M85.5 42.3L97.2 42.3M134.5 17.6L134.5 32.7M121.3 32.7L147.6 32.7M121.3 32.7L121.3 41.9M111 41.9L133 41.9M147.6 32.7L147.6 39.4M141 39.4L162.4 39.4M207 4.3L207 16.4M190.6 16.4L223.5 16.4M190.6 16.4L190.6 41.5M188.5 41.5L193 41.5M223.5 16.4L223.5 22.5M207.9 22.5L239 22.5M207.9 22.5L207.9 42.6M204 42.6L211.7 42.6M239 22.5L239 31.3M226.3 31.3L251.6 31.3M226.3 31.3L226.3 39M219.4 39L239.3 39M251.6 31.3L251.6 39M249.3 39L254 39M155 40.3L162.4 40.3M144 41L160 41M65 43L65 45.5M71.5 43L71.5 45.5M85.5 42.3L85.5 45.5M97.2 42.3L97.2 45.5M111 41.9L111 45.5M133 41.9L133 45.5M141 39.4L141 45.5M162.4 39.4L162.4 45.5M188.5 41.5L188.5 45.5M193 41.5L193 45.5M204 42.6L204 45.5M211.7 42.6L211.7 45.5M219.4 39L219.4 45.5M239.3 39L239.3 45.5M249.3 39L249.3 45.5M254 39L254 45.5M155 40.3L155 45.5M144 41L144 45.5M160 41L160 45.5M136 42.8L146 42.8M136 42.8L136 45.5M146 42.8L146 45.5M214 42.5L224 42.5M214 42.5L214 45.5M224 42.5L224 45.5M228 41.8L238 41.8M228 41.8L228 45.5M238 41.8L238 45.5M240 42.8L247 42.8M240 42.8L240 45.5M247 42.8L247 45.5M168 43L178 43M168 43L168 45.5M178 43L178 45.5M180 43.2L187 43.2M180 43.2L180 45.5M187 43.2L187 45.5M100 43.3L108 43.3M100 43.3L100 45.5M108 43.3L108 45.5M74 43.5L82 43.5M74 43.5L74 45.5M82 43.5L82 45.5M194 43.2L202 43.2M194 43.2L194 45.5M202 43.2L202 45.5M150 42.8L158 42.8M150 42.8L150 45.5M158 42.8L158 45.5M64.3 45.6V43.6H67.7V45.6M68.1 45.6V43.6H72.4V45.6M73.1 45.6V44.1H74.7V45.6M75.0 45.6V43.4H78.4V45.6M77.9 45.6V44.4H80.8V45.6M80.9 45.6V44.8H84.1V45.6M83.7 45.6V43.3H86.1V45.6M86.3 45.6V43.5H88.3V45.6M88.0 45.6V44.6H91.4V45.6M90.7 45.6V44.5H94.8V45.6M94.3 45.6V43.4H98.8V45.6M98.4 45.6V43.9H102.8V45.6M103.1 45.6V43.3H105.2V45.6M105.4 45.6V43.4H109.8V45.6M109.4 45.6V44.5H112.0V45.6M111.6 45.6V44.3H113.3V45.6M113.4 45.6V43.7H114.9V45.6M114.8 45.6V43.5H117.2V45.6M117.2 45.6V44.0H119.7V45.6M119.9 45.6V43.2H121.5V45.6M121.2 45.6V43.4H125.0V45.6M124.3 45.6V44.2H128.1V45.6M128.2 45.6V44.7H129.8V45.6M129.6 45.6V44.5H133.9V45.6M134.4 45.6V43.3H138.7V45.6M138.4 45.6V44.0H141.0V45.6M141.3 45.6V43.6H143.1V45.6M143.3 45.6V44.7H147.4V45.6M148.1 45.6V44.3H149.9V45.6M150.0 45.6V44.3H154.2V45.6M154.9 45.6V44.3H158.1V45.6M157.8 45.6V44.7H159.9V45.6M159.6 45.6V43.2H163.1V45.6M162.7 45.6V43.2H164.3V45.6M164.3 45.6V44.4H167.1V45.6M167.2 45.6V44.1H171.1V45.6M171.0 45.6V43.3H172.7V45.6M172.4 45.6V43.5H175.3V45.6M174.9 45.6V43.3H178.6V45.6M178.8 45.6V44.6H182.7V45.6M182.6 45.6V43.4H184.5V45.6M184.3 45.6V43.2H187.2V45.6M187.6 45.6V44.1H192.0V45.6M192.0 45.6V44.0H195.7V45.6M195.4 45.6V44.6H198.1V45.6M198.0 45.6V43.3H202.4V45.6M202.7 45.6V44.3H205.7V45.6M205.2 45.6V43.5H207.5V45.6M207.8 45.6V43.5H210.4V45.6M210.7 45.6V43.7H214.3V45.6M214.6 45.6V43.7H217.2V45.6M217.0 45.6V43.6H220.0V45.6M220.2 45.6V43.3H222.6V45.6M222.7 45.6V44.8H226.0V45.6M226.0 45.6V43.7H228.3V45.6M228.2 45.6V43.8H232.2V45.6M232.7 45.6V43.8H235.2V45.6M235.4 45.6V44.2H239.4V45.6M240.0 45.6V43.7H244.1V45.6M244.9 45.6V44.0H249.2V45.6M249.3 45.6V43.5H251.3V45.6M251.6 45.6V43.7H254.6V45.6M254.8 45.6V44.5H255.8V45.6" stroke="#222" stroke-width="0.8" fill="none"/>
<rect x="64.00" y="45.50" width="192.00" height="2.10" fill="#111" />
<rect x="64.00" y="49.00" width="192.00" height="8.20" fill="#00007f" />
<rect x="188.00" y="49.00" width="13.70" height="8.20" fill="#8b0000" />
<rect x="64.00" y="59.00" width="5.35" height="8.30" fill="#118111" />
<rect x="69.30" y="59.00" width="0.65" height="8.30" fill="#6b0012" />
<rect x="69.90" y="59.00" width="6.95" height="8.30" fill="#118111" />
<rect x="76.80" y="59.00" width="0.65" height="8.30" fill="#6b0012" />
<rect x="77.40" y="59.00" width="2.65" height="8.30" fill="#118111" />
<rect x="80.00" y="59.00" width="1.65" height="8.30" fill="#e9008b" />
<rect x="81.60" y="59.00" width="0.55" height="8.30" fill="#6b0012" />
<rect x="82.10" y="59.00" width="7.95" height="8.30" fill="#f01888" />
<rect x="90.00" y="59.00" width="2.05" height="8.30" fill="#12e012" />
<rect x="92.00" y="59.00" width="2.05" height="8.30" fill="#e9008b" />
<rect x="94.00" y="59.00" width="5.25" height="8.30" fill="#12e012" />
<rect x="99.20" y="59.00" width="1.15" height="8.30" fill="#e9008b" />
<rect x="100.30" y="59.00" width="5.25" height="8.30" fill="#12e012" />
<rect x="105.50" y="59.00" width="0.75" height="8.30" fill="#118111" />
<rect x="106.20" y="59.00" width="4.35" height="8.30" fill="#9200e2" />
<rect x="110.50" y="59.00" width="0.85" height="8.30" fill="#0b3b8b" />
<rect x="111.30" y="59.00" width="18.05" height="8.30" fill="#9200e2" />
<rect x="129.30" y="59.00" width="2.25" height="8.30" fill="#6b0012" />
<rect x="131.50" y="59.00" width="6.05" height="8.30" fill="#9200e2" />
<rect x="137.50" y="59.00" width="1.05" height="8.30" fill="#ff6b3a" />
<rect x="138.50" y="59.00" width="5.55" height="8.30" fill="#6b0012" />
<rect x="144.00" y="59.00" width="4.35" height="8.30" fill="#14a0fa" />
<rect x="148.30" y="59.00" width="4.25" height="8.30" fill="#9200e2" />
<rect x="152.50" y="59.00" width="1.05" height="8.30" fill="#e9008b" />
<rect x="153.50" y="59.00" width="1.55" height="8.30" fill="#6b0012" />
<rect x="155.00" y="59.00" width="0.75" height="8.30" fill="#ffd140" />
<rect x="155.70" y="59.00" width="1.35" height="8.30" fill="#6b0012" />
<rect x="157.00" y="59.00" width="1.05" height="8.30" fill="#9200e2" />
<rect x="158.00" y="59.00" width="3.05" height="8.30" fill="#e9008b" />
<rect x="161.00" y="59.00" width="5.05" height="8.30" fill="#14a0fa" />
<rect x="166.00" y="59.00" width="1.05" height="8.30" fill="#ffd140" />
<rect x="167.00" y="59.00" width="1.05" height="8.30" fill="#0b3b8b" />
<rect x="168.00" y="59.00" width="1.55" height="8.30" fill="#ff6b3a" />
<rect x="169.50" y="59.00" width="0.55" height="8.30" fill="#14a0fa" />
<rect x="170.00" y="59.00" width="5.05" height="8.30" fill="#9200e2" />
<rect x="175.00" y="59.00" width="6.05" height="8.30" fill="#ff6b3a" />
<rect x="181.00" y="59.00" width="1.05" height="8.30" fill="#14a0fa" />
<rect x="182.00" y="59.00" width="1.05" height="8.30" fill="#22d9c0" />
<rect x="183.00" y="59.00" width="1.05" height="8.30" fill="#14a0fa" />
<rect x="184.00" y="59.00" width="4.05" height="8.30" fill="#ffd140" />
<rect x="188.00" y="59.00" width="1.05" height="8.30" fill="#fff" />
<rect x="189.00" y="59.00" width="2.05" height="8.30" fill="#0b3b8b" />
<rect x="191.00" y="59.00" width="0.85" height="8.30" fill="#14a0fa" />
<rect x="191.80" y="59.00" width="4.25" height="8.30" fill="#0b3b8b" />
<rect x="196.00" y="59.00" width="1.05" height="8.30" fill="#9200e2" />
<rect x="197.00" y="59.00" width="5.05" height="8.30" fill="#0b3b8b" />
<rect x="202.00" y="59.00" width="14.35" height="8.30" fill="#f2103e" />
<rect x="216.30" y="59.00" width="3.75" height="8.30" fill="#22d9c0" />
<rect x="220.00" y="59.00" width="1.05" height="8.30" fill="#14a0fa" />
<rect x="221.00" y="59.00" width="3.05" height="8.30" fill="#22d9c0" />
<rect x="224.00" y="59.00" width="1.05" height="8.30" fill="#14a0fa" />
<rect x="225.00" y="59.00" width="4.05" height="8.30" fill="#e9008b" />
<rect x="229.00" y="59.00" width="1.05" height="8.30" fill="#6b0012" />
<rect x="230.00" y="59.00" width="0.75" height="8.30" fill="#e9008b" />
<rect x="230.70" y="59.00" width="0.85" height="8.30" fill="#118111" />
<rect x="231.50" y="59.00" width="2.55" height="8.30" fill="#0b3b8b" />
<rect x="234.00" y="59.00" width="1.05" height="8.30" fill="#14a0fa" />
<rect x="235.00" y="59.00" width="1.55" height="8.30" fill="#0b3b8b" />
<rect x="236.50" y="59.00" width="1.05" height="8.30" fill="#9200e2" />
<rect x="237.50" y="59.00" width="2.55" height="8.30" fill="#0b3b8b" />
<rect x="240.00" y="59.00" width="1.05" height="8.30" fill="#14a0fa" />
<rect x="241.00" y="59.00" width="7.05" height="8.30" fill="#0b3b8b" />
<rect x="248.00" y="59.00" width="8.05" height="8.30" fill="#ff72ff" />
<text x="258.5" y="56.2" font-size="8.1" text-anchor="start" font-style="normal" font-weight="normal" fill="#0a0a0a" >Ecospecies</text>
<text x="258.2" y="67.2" font-size="8.1" text-anchor="start" font-style="normal" font-weight="normal" fill="#0a0a0a" >Population</text>
<line x1="20.3" y1="152.3" x2="20.3" y2="254" stroke="#444" stroke-width="0.8" />
<line x1="20.3" y1="152.3" x2="62.7" y2="152.3" stroke="#444" stroke-width="0.8" />
<line x1="20.3" y1="254" x2="61.7" y2="254" stroke="#444" stroke-width="0.8" />
<line x1="62.7" y1="116" x2="62.7" y2="187.3" stroke="#444" stroke-width="0.8" />
<line x1="61.7" y1="219.3" x2="61.7" y2="288.3" stroke="#444" stroke-width="0.8" />
<line x1="61.7" y1="288.3" x2="63.3" y2="288.3" stroke="#444" stroke-width="0.8" />
<line x1="62.9" y1="288" x2="62.9" y2="319.5" stroke="#444" stroke-width="0.8" />
<line x1="62.9" y1="319.5" x2="62.9" y2="479" stroke="#b0b0b0" stroke-width="0.8" />
<text x="263.8" y="93.6" font-size="8.1" text-anchor="start" font-style="normal" font-weight="normal" fill="#0a0a0a" >Ecospecies</text>
<rect x="267.00" y="98.90" width="12.20" height="9.00" fill="#00007f" />
<text x="282.2" y="105.4" font-size="8.1" text-anchor="start" font-style="normal" font-weight="normal" fill="#0a0a0a" >Ubiquitous</text>
<rect x="267.00" y="111.60" width="12.20" height="9.00" fill="#8b0000" />
<text x="282.2" y="118.4" font-size="8.1" text-anchor="start" font-style="normal" font-weight="normal" fill="#0a0a0a" >Hardy</text>
<text x="263.8" y="135.4" font-size="8.1" text-anchor="start" font-style="normal" font-weight="normal" fill="#0a0a0a" >Population</text>
<rect x="267.00" y="140.60" width="12.20" height="9.30" fill="#f2103e" />
<text x="282.2" y="147.7" font-size="8.2" text-anchor="start" font-style="normal" font-weight="normal" fill="#0a0a0a" >hpAfrica2</text>
<rect x="267.00" y="154.15" width="12.20" height="9.30" fill="#118111" />
<text x="282.2" y="161.25" font-size="8.2" text-anchor="start" font-style="normal" font-weight="normal" fill="#0a0a0a" >hpAfrica1</text>
<rect x="267.00" y="167.70" width="12.20" height="9.30" fill="#ff6b3a" />
<text x="282.2" y="174.79999999999998" font-size="8.2" text-anchor="start" font-style="normal" font-weight="normal" fill="#0a0a0a" >hspEAsia</text>
<rect x="267.00" y="181.25" width="12.20" height="9.30" fill="#12e012" />
<text x="282.2" y="188.35" font-size="8.2" text-anchor="start" font-style="normal" font-weight="normal" fill="#0a0a0a" >hpNEAfrica</text>
<rect x="267.00" y="194.80" width="12.20" height="9.30" fill="#ffd140" />
<text x="282.2" y="201.9" font-size="8.2" text-anchor="start" font-style="normal" font-weight="normal" fill="#0a0a0a" >hpAsia2</text>
<rect x="267.00" y="208.35" width="12.20" height="9.30" fill="#6b0012" />
<text x="282.2" y="215.45" font-size="8.2" text-anchor="start" font-style="normal" font-weight="normal" fill="#0a0a0a" >hspUral</text>
<rect x="267.00" y="221.90" width="12.20" height="9.30" fill="#22d9c0" />
<text x="282.2" y="229.0" font-size="8.2" text-anchor="start" font-style="normal" font-weight="normal" fill="#0a0a0a" >hpNorthAsia</text>
<rect x="267.00" y="235.45" width="12.20" height="9.30" fill="#ff72ff" />
<text x="282.2" y="242.54999999999998" font-size="8.2" text-anchor="start" font-style="normal" font-weight="normal" fill="#0a0a0a" >hpSahul</text>
<rect x="267.00" y="249.00" width="12.20" height="9.30" fill="#9200e2" />
<text x="282.2" y="256.1" font-size="8.2" text-anchor="start" font-style="normal" font-weight="normal" fill="#0a0a0a" >hspSiberia</text>
<rect x="267.00" y="262.55" width="12.20" height="9.30" fill="#0b3b8b" />
<text x="282.2" y="269.65000000000003" font-size="8.2" text-anchor="start" font-style="normal" font-weight="normal" fill="#0a0a0a" >hspIndigenousNAmerica</text>
<rect x="267.00" y="276.10" width="12.20" height="9.30" fill="#14a0fa" />
<text x="282.2" y="283.20000000000005" font-size="8.2" text-anchor="start" font-style="normal" font-weight="normal" fill="#0a0a0a" >hspIndigenousSAmerica</text>
<rect x="267.00" y="289.65" width="12.20" height="9.30" fill="#e9008b" />
<text x="282.2" y="296.75" font-size="8.2" text-anchor="start" font-style="normal" font-weight="normal" fill="#0a0a0a" >hpEurope</text>
<rect x="267.00" y="303.20" width="12.20" height="9.30" fill="#82ffff" />
<text x="282.2" y="310.30000000000007" font-size="8.2" text-anchor="start" font-style="normal" font-weight="normal" fill="#0a0a0a" ><tspan font-style="italic">H. acinonychis</tspan></text>
<text x="357.5" y="8.2" font-size="12" text-anchor="start" font-style="normal" font-weight="bold" fill="#000" >b</text>
<text x="496.6" y="12.6" font-size="8.1" text-anchor="start" font-style="normal" font-weight="normal" fill="#0a0a0a" >Ni urease</text>
<line x1="503" y1="17" x2="528.3" y2="17" stroke="#000" stroke-width="0.95" />
<text x="537.4" y="12.6" font-size="8.1" text-anchor="start" font-style="normal" font-weight="normal" fill="#0a0a0a" >Fe urease</text>
<line x1="541.8" y1="17" x2="567.6" y2="17" stroke="#000" stroke-width="0.95" />
<text x="577.7" y="25.5" font-size="8.1" text-anchor="start" font-style="italic" font-weight="normal" fill="#0a0a0a" >vacA</text>
<line x1="574.2" y1="28.6" x2="599.2" y2="28.6" stroke="#000" stroke-width="0.95" />
<text x="575.9" y="37" font-size="6.8" text-anchor="middle" font-style="normal" font-weight="normal" fill="#0a0a0a" >1</text>
<text x="583.5" y="37" font-size="6.8" text-anchor="middle" font-style="normal" font-weight="normal" fill="#0a0a0a" >2</text>
<text x="591.1" y="37" font-size="6.8" text-anchor="middle" font-style="normal" font-weight="normal" fill="#0a0a0a" >3</text>
<text x="598.7" y="37" font-size="6.8" text-anchor="middle" font-style="normal" font-weight="normal" fill="#0a0a0a" >4</text>
<text x="0" y="0" font-size="8.1" font-style="italic" fill="#0a0a0a" transform="translate(487.5,39.3) rotate(-45)">cagA</text>
<text x="0" y="0" font-size="8.1" font-style="italic" fill="#0a0a0a" transform="translate(507.6,39.3) rotate(-45)">ureA1</text>
<text x="0" y="0" font-size="8.1" font-style="italic" fill="#0a0a0a" transform="translate(520.4,39.3) rotate(-45)">ureB1</text>
<text x="0" y="0" font-size="8.1" font-style="italic" fill="#0a0a0a" transform="translate(542.8,39.3) rotate(-45)">ureA2</text>
<text x="0" y="0" font-size="8.1" font-style="italic" fill="#0a0a0a" transform="translate(554.5,39.3) rotate(-45)">ureB2</text>
<text x="0" y="0" font-size="8.1" font-style="normal" fill="#0a0a0a" transform="translate(616.5,36.5) rotate(-45)">Population</text>
<text x="0" y="0" font-size="8.1" font-style="normal" fill="#0a0a0a" transform="translate(630.7,36.5) rotate(-45)">Ecospecies</text>
<text x="438.2" y="61.7" font-size="8.3" text-anchor="end" font-style="normal" font-weight="normal" fill="#0a0a0a" >Not detected</text>
<text x="438.2" y="69.1" font-size="8.3" text-anchor="end" font-style="normal" font-weight="normal" fill="#0a0a0a" >Partial or split</text>
<text x="438.2" y="76.7" font-size="8.3" text-anchor="end" font-style="normal" font-weight="normal" fill="#0a0a0a" >Diversity</text>
<text x="438.2" y="84.5" font-size="8.3" text-anchor="end" font-style="normal" font-weight="normal" fill="#0a0a0a" >Chimeric<tspan font-size="4.5" dy="-3">28</tspan></text>
<rect x="441.20" y="56.50" width="7.50" height="5.20" fill="#fff" stroke="#b8b8b8" stroke-width="0.55"/>
<rect x="441.20" y="64.30" width="7.50" height="5.00" fill="#fff" stroke="#b8b8b8" stroke-width="0.55"/>
<line x1="441.20" y1="69.30" x2="448.70" y2="64.30" stroke="#777" stroke-width="0.5"/>
<rect x="441.20" y="72.00" width="7.50" height="5.10" fill="#fff" stroke="#b8b8b8" stroke-width="0.55"/>
<circle cx="444.95" cy="74.55" r="0.75" fill="#222"/>
<rect x="441.20" y="79.80" width="7.50" height="5.00" fill="#a0628a"/>
<path d="M441.20 84.80L448.70 79.80L448.70 84.80Z" fill="#5e1a4a"/>
<rect x="441.20" y="79.80" width="7.50" height="5.00" fill="none" stroke="rgba(200,200,200,0.6)" stroke-width="0.5"/>
<line x1="454.5" y1="43" x2="454.5" y2="370.2" stroke="#333" stroke-width="0.9" />
<text x="449.8" y="190.7" font-size="8.1" text-anchor="end" font-style="normal" font-weight="normal" fill="#0a0a0a" >Human</text>
<text x="449.8" y="200.3" font-size="8.1" text-anchor="end" font-style="italic" font-weight="normal" fill="#0a0a0a" >H. pylori</text>
<text x="449.8" y="209.9" font-size="8.1" text-anchor="end" font-style="normal" font-weight="normal" fill="#0a0a0a" >isolates</text>
<text x="482" y="124.8" font-size="7.0" text-anchor="end" font-style="normal" font-weight="normal" fill="#0a0a0a" >26695</text>
<rect x="484.30" y="41.00" width="6.70" height="5.80" fill="#fff" stroke="#b8b8b8" stroke-width="0.55"/>
<rect x="484.30" y="46.80" width="6.70" height="5.80" fill="#fff" stroke="#b8b8b8" stroke-width="0.55"/>
<rect x="484.30" y="52.60" width="6.70" height="5.80" fill="#fff" stroke="#b8b8b8" stroke-width="0.55"/>
<rect x="484.30" y="58.40" width="6.70" height="5.80" fill="#fff" stroke="#b8b8b8" stroke-width="0.55"/>
<rect x="484.30" y="64.20" width="6.70" height="5.80" fill="#fff" stroke="#b8b8b8" stroke-width="0.55"/>
<rect x="484.30" y="70.00" width="6.70" height="5.80" fill="#fff" stroke="#b8b8b8" stroke-width="0.55"/>
<rect x="484.30" y="75.80" width="6.70" height="5.80" fill="#fff" stroke="#b8b8b8" stroke-width="0.55"/>
<rect x="484.30" y="81.60" width="6.70" height="5.80" fill="#fff" stroke="#b8b8b8" stroke-width="0.55"/>
<rect x="484.30" y="87.40" width="6.70" height="5.80" fill="#fff" stroke="#b8b8b8" stroke-width="0.55"/>
<rect x="484.30" y="93.20" width="6.70" height="5.80" fill="#fff" stroke="#b8b8b8" stroke-width="0.55"/>
<rect x="484.30" y="99.00" width="6.70" height="5.80" fill="#3b3636" stroke="rgba(190,190,200,0.55)" stroke-width="0.5"/>
<rect x="484.30" y="104.80" width="6.70" height="5.80" fill="#3b3636" stroke="rgba(190,190,200,0.55)" stroke-width="0.5"/>
<rect x="484.30" y="110.60" width="6.70" height="5.80" fill="#3b3636" stroke="rgba(190,190,200,0.55)" stroke-width="0.5"/>
<rect x="504.60" y="41.00" width="7.30" height="5.80" fill="#6567b0" stroke="rgba(190,190,200,0.55)" stroke-width="0.5"/>
<rect x="504.60" y="46.80" width="7.30" height="5.80" fill="#6567b0" stroke="rgba(190,190,200,0.55)" stroke-width="0.5"/>
<rect x="504.60" y="52.60" width="7.30" height="5.80" fill="#6567b0" stroke="rgba(190,190,200,0.55)" stroke-width="0.5"/>
<rect x="504.60" y="58.40" width="7.30" height="5.80" fill="#6567b0" stroke="rgba(190,190,200,0.55)" stroke-width="0.5"/>
<rect x="504.60" y="64.20" width="7.30" height="5.80" fill="#6567b0" stroke="rgba(190,190,200,0.55)" stroke-width="0.5"/>
<rect x="504.60" y="70.00" width="7.30" height="5.80" fill="#6567b0" stroke="rgba(190,190,200,0.55)" stroke-width="0.5"/>
<rect x="504.60" y="75.80" width="7.30" height="5.80" fill="#6567b0" stroke="rgba(190,190,200,0.55)" stroke-width="0.5"/>
<rect x="504.60" y="81.60" width="7.30" height="5.80" fill="#6567b0" stroke="rgba(190,190,200,0.55)" stroke-width="0.5"/>
<rect x="504.60" y="87.40" width="7.30" height="5.80" fill="#6567b0" stroke="rgba(190,190,200,0.55)" stroke-width="0.5"/>
<rect x="504.60" y="93.20" width="7.30" height="5.80" fill="#6567b0" stroke="rgba(190,190,200,0.55)" stroke-width="0.5"/>
<rect x="504.60" y="99.00" width="7.30" height="5.80" fill="#6567b0" stroke="rgba(190,190,200,0.55)" stroke-width="0.5"/>
<rect x="504.60" y="104.80" width="7.30" height="5.80" fill="#6567b0" stroke="rgba(190,190,200,0.55)" stroke-width="0.5"/>
<rect x="504.60" y="110.60" width="7.30" height="5.80" fill="#6567b0" stroke="rgba(190,190,200,0.55)" stroke-width="0.5"/>
<rect x="517.00" y="41.00" width="7.30" height="5.80" fill="#6567b0" stroke="rgba(190,190,200,0.55)" stroke-width="0.5"/>
<rect x="517.00" y="46.80" width="7.30" height="5.80" fill="#6567b0" stroke="rgba(190,190,200,0.55)" stroke-width="0.5"/>
<rect x="517.00" y="52.60" width="7.30" height="5.80" fill="#6567b0" stroke="rgba(190,190,200,0.55)" stroke-width="0.5"/>
<rect x="517.00" y="58.40" width="7.30" height="5.80" fill="#6567b0" stroke="rgba(190,190,200,0.55)" stroke-width="0.5"/>
<rect x="517.00" y="64.20" width="7.30" height="5.80" fill="#6567b0" stroke="rgba(190,190,200,0.55)" stroke-width="0.5"/>
<rect x="517.00" y="70.00" width="7.30" height="5.80" fill="#6567b0" stroke="rgba(190,190,200,0.55)" stroke-width="0.5"/>
<rect x="517.00" y="75.80" width="7.30" height="5.80" fill="#6567b0" stroke="rgba(190,190,200,0.55)" stroke-width="0.5"/>
<rect x="517.00" y="81.60" width="7.30" height="5.80" fill="#6567b0" stroke="rgba(190,190,200,0.55)" stroke-width="0.5"/>
<rect x="517.00" y="87.40" width="7.30" height="5.80" fill="#6567b0" stroke="rgba(190,190,200,0.55)" stroke-width="0.5"/>
<rect x="517.00" y="93.20" width="7.30" height="5.80" fill="#6567b0" stroke="rgba(190,190,200,0.55)" stroke-width="0.5"/>
<rect x="517.00" y="99.00" width="7.30" height="5.80" fill="#6567b0" stroke="rgba(190,190,200,0.55)" stroke-width="0.5"/>
<rect x="517.00" y="104.80" width="7.30" height="5.80" fill="#6567b0" stroke="rgba(190,190,200,0.55)" stroke-width="0.5"/>
<rect x="517.00" y="110.60" width="7.30" height="5.80" fill="#6567b0" stroke="rgba(190,190,200,0.55)" stroke-width="0.5"/>
<rect x="539.60" y="41.00" width="7.20" height="5.80" fill="#1b1b86" stroke="rgba(190,190,200,0.55)" stroke-width="0.5"/>
<rect x="539.60" y="46.80" width="7.20" height="5.80" fill="#1b1b86" stroke="rgba(190,190,200,0.55)" stroke-width="0.5"/>
<rect x="539.60" y="52.60" width="7.20" height="5.80" fill="#1b1b86" stroke="rgba(190,190,200,0.55)" stroke-width="0.5"/>
<rect x="539.60" y="58.40" width="7.20" height="5.80" fill="#1b1b86" stroke="rgba(190,190,200,0.55)" stroke-width="0.5"/>
<rect x="539.60" y="64.20" width="7.20" height="5.80" fill="#1b1b86" stroke="rgba(190,190,200,0.55)" stroke-width="0.5"/>
<rect x="539.60" y="70.00" width="7.20" height="5.80" fill="#1b1b86" stroke="rgba(190,190,200,0.55)" stroke-width="0.5"/>
<rect x="539.60" y="75.80" width="7.20" height="5.80" fill="#1b1b86" stroke="rgba(190,190,200,0.55)" stroke-width="0.5"/>
<rect x="539.60" y="81.60" width="7.20" height="5.80" fill="#1b1b86" stroke="rgba(190,190,200,0.55)" stroke-width="0.5"/>
<rect x="539.60" y="87.40" width="7.20" height="5.80" fill="#fff" stroke="#b8b8b8" stroke-width="0.55"/>
<rect x="539.60" y="93.20" width="7.20" height="5.80" fill="#fff" stroke="#b8b8b8" stroke-width="0.55"/>
<rect x="539.60" y="99.00" width="7.20" height="5.80" fill="#1b1b86" stroke="rgba(190,190,200,0.55)" stroke-width="0.5"/>
<rect x="539.60" y="104.80" width="7.20" height="5.80" fill="#1b1b86" stroke="rgba(190,190,200,0.55)" stroke-width="0.5"/>
<rect x="539.60" y="110.60" width="7.20" height="5.80" fill="#1b1b86" stroke="rgba(190,190,200,0.55)" stroke-width="0.5"/>
<rect x="551.00" y="41.00" width="7.20" height="5.80" fill="#1b1b86" stroke="rgba(190,190,200,0.55)" stroke-width="0.5"/>
<rect x="551.00" y="46.80" width="7.20" height="5.80" fill="#1b1b86" stroke="rgba(190,190,200,0.55)" stroke-width="0.5"/>
<rect x="551.00" y="52.60" width="7.20" height="5.80" fill="#1b1b86" stroke="rgba(190,190,200,0.55)" stroke-width="0.5"/>
<rect x="551.00" y="58.40" width="7.20" height="5.80" fill="#1b1b86" stroke="rgba(190,190,200,0.55)" stroke-width="0.5"/>
<rect x="551.00" y="64.20" width="7.20" height="5.80" fill="#1b1b86" stroke="rgba(190,190,200,0.55)" stroke-width="0.5"/>
<rect x="551.00" y="70.00" width="7.20" height="5.80" fill="#1b1b86" stroke="rgba(190,190,200,0.55)" stroke-width="0.5"/>
<rect x="551.00" y="75.80" width="7.20" height="5.80" fill="#1b1b86" stroke="rgba(190,190,200,0.55)" stroke-width="0.5"/>
<rect x="551.00" y="81.60" width="7.20" height="5.80" fill="#1b1b86" stroke="rgba(190,190,200,0.55)" stroke-width="0.5"/>
<rect x="551.00" y="87.40" width="7.20" height="5.80" fill="#fff" stroke="#b8b8b8" stroke-width="0.55"/>
<line x1="551.00" y1="93.20" x2="558.20" y2="87.40" stroke="#777" stroke-width="0.5"/>
<rect x="551.00" y="93.20" width="7.20" height="5.80" fill="#fff" stroke="#b8b8b8" stroke-width="0.55"/>
<line x1="551.00" y1="99.00" x2="558.20" y2="93.20" stroke="#777" stroke-width="0.5"/>
<rect x="551.00" y="99.00" width="7.20" height="5.80" fill="#1b1b86" stroke="rgba(190,190,200,0.55)" stroke-width="0.5"/>
<rect x="551.00" y="104.80" width="7.20" height="5.80" fill="#1b1b86" stroke="rgba(190,190,200,0.55)" stroke-width="0.5"/>
<rect x="551.00" y="110.60" width="7.20" height="5.80" fill="#1b1b86" stroke="rgba(190,190,200,0.55)" stroke-width="0.5"/>
<rect x="573.20" y="41.00" width="7.30" height="5.80" fill="#a0628a" stroke="rgba(190,190,200,0.55)" stroke-width="0.5"/>
<rect x="573.20" y="46.80" width="7.30" height="5.80" fill="#a0628a" stroke="rgba(190,190,200,0.55)" stroke-width="0.5"/>
<rect x="573.20" y="52.60" width="7.30" height="5.80" fill="#a0628a" stroke="rgba(190,190,200,0.55)" stroke-width="0.5"/>
<rect x="573.20" y="58.40" width="7.30" height="5.80" fill="#a0628a" stroke="rgba(190,190,200,0.55)" stroke-width="0.5"/>
<rect x="573.20" y="64.20" width="7.30" height="5.80" fill="#a0628a" stroke="rgba(190,190,200,0.55)" stroke-width="0.5"/>
<rect x="573.20" y="70.00" width="7.30" height="5.80" fill="#a0628a" stroke="rgba(190,190,200,0.55)" stroke-width="0.5"/>
<rect x="573.20" y="75.80" width="7.30" height="5.80" fill="#a0628a" stroke="rgba(190,190,200,0.55)" stroke-width="0.5"/>
<rect x="573.20" y="81.60" width="7.30" height="5.80" fill="#a0628a" stroke="rgba(190,190,200,0.55)" stroke-width="0.5"/>
<rect x="573.20" y="87.40" width="7.30" height="5.80" fill="#a0628a" stroke="rgba(190,190,200,0.55)" stroke-width="0.5"/>
<rect x="573.20" y="93.20" width="7.30" height="5.80" fill="#fff" stroke="#b8b8b8" stroke-width="0.55"/>
<line x1="573.20" y1="99.00" x2="580.50" y2="93.20" stroke="#777" stroke-width="0.5"/>
<rect x="573.20" y="99.00" width="7.30" height="5.80" fill="#a0628a"/>
<path d="M573.20 104.80L580.50 99.00L580.50 104.80Z" fill="#5e1a4a"/>
<rect x="573.20" y="99.00" width="7.30" height="5.80" fill="none" stroke="rgba(200,200,200,0.6)" stroke-width="0.5"/>
<rect x="573.20" y="104.80" width="7.30" height="5.80" fill="#a0628a"/>
<path d="M573.20 110.60L580.50 104.80L580.50 110.60Z" fill="#5e1a4a"/>
<rect x="573.20" y="104.80" width="7.30" height="5.80" fill="none" stroke="rgba(200,200,200,0.6)" stroke-width="0.5"/>
<rect x="573.20" y="110.60" width="7.30" height="5.80" fill="#a0628a"/>
<path d="M573.20 116.40L580.50 110.60L580.50 116.40Z" fill="#5e1a4a"/>
<rect x="573.20" y="110.60" width="7.30" height="5.80" fill="none" stroke="rgba(200,200,200,0.6)" stroke-width="0.5"/>
<rect x="580.50" y="41.00" width="7.20" height="5.80" fill="#5e1a4a" stroke="rgba(190,190,200,0.55)" stroke-width="0.5"/>
<rect x="580.50" y="46.80" width="7.20" height="5.80" fill="#5e1a4a" stroke="rgba(190,190,200,0.55)" stroke-width="0.5"/>
<rect x="580.50" y="52.60" width="7.20" height="5.80" fill="#5e1a4a" stroke="rgba(190,190,200,0.55)" stroke-width="0.5"/>
<rect x="580.50" y="58.40" width="7.20" height="5.80" fill="#5e1a4a" stroke="rgba(190,190,200,0.55)" stroke-width="0.5"/>
<rect x="580.50" y="64.20" width="7.20" height="5.80" fill="#5e1a4a" stroke="rgba(190,190,200,0.55)" stroke-width="0.5"/>
<rect x="580.50" y="70.00" width="7.20" height="5.80" fill="#5e1a4a" stroke="rgba(190,190,200,0.55)" stroke-width="0.5"/>
<rect x="580.50" y="75.80" width="7.20" height="5.80" fill="#5e1a4a" stroke="rgba(190,190,200,0.55)" stroke-width="0.5"/>
<rect x="580.50" y="81.60" width="7.20" height="5.80" fill="#5e1a4a" stroke="rgba(190,190,200,0.55)" stroke-width="0.5"/>
<rect x="580.50" y="87.40" width="7.20" height="5.80" fill="#5e1a4a" stroke="rgba(190,190,200,0.55)" stroke-width="0.5"/>
<rect x="580.50" y="93.20" width="7.20" height="5.80" fill="#5e1a4a" stroke="rgba(190,190,200,0.55)" stroke-width="0.5"/>
<rect x="580.50" y="99.00" width="7.20" height="5.80" fill="#fff" stroke="#b8b8b8" stroke-width="0.55"/>
<line x1="580.50" y1="104.80" x2="587.70" y2="99.00" stroke="#777" stroke-width="0.5"/>
<rect x="580.50" y="104.80" width="7.20" height="5.80" fill="#fff" stroke="#b8b8b8" stroke-width="0.55"/>
<rect x="580.50" y="110.60" width="7.20" height="5.80" fill="#fff" stroke="#b8b8b8" stroke-width="0.55"/>
<rect x="587.70" y="41.00" width="7.30" height="5.80" fill="#5e1a4a" stroke="rgba(190,190,200,0.55)" stroke-width="0.5"/>
<rect x="587.70" y="46.80" width="7.30" height="5.80" fill="#5e1a4a" stroke="rgba(190,190,200,0.55)" stroke-width="0.5"/>
<rect x="587.70" y="52.60" width="7.30" height="5.80" fill="#5e1a4a" stroke="rgba(190,190,200,0.55)" stroke-width="0.5"/>
<rect x="587.70" y="58.40" width="7.30" height="5.80" fill="#5e1a4a" stroke="rgba(190,190,200,0.55)" stroke-width="0.5"/>
<rect x="587.70" y="64.20" width="7.30" height="5.80" fill="#5e1a4a" stroke="rgba(190,190,200,0.55)" stroke-width="0.5"/>
<rect x="587.70" y="70.00" width="7.30" height="5.80" fill="#5e1a4a" stroke="rgba(190,190,200,0.55)" stroke-width="0.5"/>
<rect x="587.70" y="75.80" width="7.30" height="5.80" fill="#5e1a4a" stroke="rgba(190,190,200,0.55)" stroke-width="0.5"/>
<rect x="587.70" y="81.60" width="7.30" height="5.80" fill="#5e1a4a" stroke="rgba(190,190,200,0.55)" stroke-width="0.5"/>
<rect x="587.70" y="87.40" width="7.30" height="5.80" fill="#5e1a4a" stroke="rgba(190,190,200,0.55)" stroke-width="0.5"/>
<rect x="587.70" y="93.20" width="7.30" height="5.80" fill="#5e1a4a" stroke="rgba(190,190,200,0.55)" stroke-width="0.5"/>
<rect x="587.70" y="99.00" width="7.30" height="5.80" fill="#fff" stroke="#b8b8b8" stroke-width="0.55"/>
<line x1="587.70" y1="104.80" x2="595.00" y2="99.00" stroke="#777" stroke-width="0.5"/>
<rect x="587.70" y="104.80" width="7.30" height="5.80" fill="#fff" stroke="#b8b8b8" stroke-width="0.55"/>
<rect x="587.70" y="110.60" width="7.30" height="5.80" fill="#fff" stroke="#b8b8b8" stroke-width="0.55"/>
<rect x="595.00" y="41.00" width="7.40" height="5.80" fill="#fff" stroke="#b8b8b8" stroke-width="0.55"/>
<rect x="595.00" y="46.80" width="7.40" height="5.80" fill="#fff" stroke="#b8b8b8" stroke-width="0.55"/>
<rect x="595.00" y="52.60" width="7.40" height="5.80" fill="#fff" stroke="#b8b8b8" stroke-width="0.55"/>
<rect x="595.00" y="58.40" width="7.40" height="5.80" fill="#fff" stroke="#b8b8b8" stroke-width="0.55"/>
<rect x="595.00" y="64.20" width="7.40" height="5.80" fill="#fff" stroke="#b8b8b8" stroke-width="0.55"/>
<rect x="595.00" y="70.00" width="7.40" height="5.80" fill="#fff" stroke="#b8b8b8" stroke-width="0.55"/>
<rect x="595.00" y="75.80" width="7.40" height="5.80" fill="#fff" stroke="#b8b8b8" stroke-width="0.55"/>
<rect x="595.00" y="81.60" width="7.40" height="5.80" fill="#fff" stroke="#b8b8b8" stroke-width="0.55"/>
<rect x="595.00" y="87.40" width="7.40" height="5.80" fill="#fff" stroke="#b8b8b8" stroke-width="0.55"/>
<rect x="595.00" y="93.20" width="7.40" height="5.80" fill="#fff" stroke="#b8b8b8" stroke-width="0.55"/>
<rect x="595.00" y="99.00" width="7.40" height="5.80" fill="#fff" stroke="#b8b8b8" stroke-width="0.55"/>
<rect x="595.00" y="104.80" width="7.40" height="5.80" fill="#fff" stroke="#b8b8b8" stroke-width="0.55"/>
<rect x="595.00" y="110.60" width="7.40" height="5.80" fill="#fff" stroke="#b8b8b8" stroke-width="0.55"/>
<rect x="613.00" y="41.00" width="7.20" height="5.80" fill="#0b3b8b" stroke="rgba(190,190,200,0.55)" stroke-width="0.5"/>
<rect x="613.00" y="46.80" width="7.20" height="5.80" fill="#0b3b8b" stroke="rgba(190,190,200,0.55)" stroke-width="0.5"/>
<rect x="613.00" y="52.60" width="7.20" height="5.80" fill="#0b3b8b" stroke="rgba(190,190,200,0.55)" stroke-width="0.5"/>
<rect x="613.00" y="58.40" width="7.20" height="5.80" fill="#0b3b8b" stroke="rgba(190,190,200,0.55)" stroke-width="0.5"/>
<rect x="613.00" y="64.20" width="7.20" height="5.80" fill="#0b3b8b" stroke="rgba(190,190,200,0.55)" stroke-width="0.5"/>
<rect x="613.00" y="70.00" width="7.20" height="5.80" fill="#0b3b8b" stroke="rgba(190,190,200,0.55)" stroke-width="0.5"/>
<rect x="613.00" y="75.80" width="7.20" height="5.80" fill="#0b3b8b" stroke="rgba(190,190,200,0.55)" stroke-width="0.5"/>
<rect x="613.00" y="81.60" width="7.20" height="5.80" fill="#0b3b8b" stroke="rgba(190,190,200,0.55)" stroke-width="0.5"/>
<rect x="613.00" y="87.40" width="7.20" height="5.80" fill="#14a0fa" stroke="rgba(190,190,200,0.55)" stroke-width="0.5"/>
<rect x="613.00" y="93.20" width="7.20" height="5.80" fill="#14a0fa" stroke="rgba(190,190,200,0.55)" stroke-width="0.5"/>
<rect x="613.00" y="99.00" width="7.20" height="5.80" fill="#0b3b8b" stroke="rgba(190,190,200,0.55)" stroke-width="0.5"/>
<rect x="613.00" y="104.80" width="7.20" height="5.80" fill="#0b3b8b" stroke="rgba(190,190,200,0.55)" stroke-width="0.5"/>
<rect x="613.00" y="110.60" width="7.20" height="5.80" fill="#0b3b8b" stroke="rgba(190,190,200,0.55)" stroke-width="0.5"/>
<rect x="627.20" y="41.00" width="7.10" height="5.80" fill="#8b0000" stroke="rgba(190,190,200,0.55)" stroke-width="0.5"/>
<rect x="627.20" y="46.80" width="7.10" height="5.80" fill="#8b0000" stroke="rgba(190,190,200,0.55)" stroke-width="0.5"/>
<rect x="627.20" y="52.60" width="7.10" height="5.80" fill="#8b0000" stroke="rgba(190,190,200,0.55)" stroke-width="0.5"/>
<rect x="627.20" y="58.40" width="7.10" height="5.80" fill="#8b0000" stroke="rgba(190,190,200,0.55)" stroke-width="0.5"/>
<rect x="627.20" y="64.20" width="7.10" height="5.80" fill="#8b0000" stroke="rgba(190,190,200,0.55)" stroke-width="0.5"/>
<rect x="627.20" y="70.00" width="7.10" height="5.80" fill="#8b0000" stroke="rgba(190,190,200,0.55)" stroke-width="0.5"/>
<rect x="627.20" y="75.80" width="7.10" height="5.80" fill="#8b0000" stroke="rgba(190,190,200,0.55)" stroke-width="0.5"/>
<rect x="627.20" y="81.60" width="7.10" height="5.80" fill="#8b0000" stroke="rgba(190,190,200,0.55)" stroke-width="0.5"/>
<rect x="627.20" y="87.40" width="7.10" height="5.80" fill="#8b0000" stroke="rgba(190,190,200,0.55)" stroke-width="0.5"/>
<rect x="627.20" y="93.20" width="7.10" height="5.80" fill="#8b0000" stroke="rgba(190,190,200,0.55)" stroke-width="0.5"/>
<rect x="627.20" y="99.00" width="7.10" height="5.80" fill="#8b0000" stroke="rgba(190,190,200,0.55)" stroke-width="0.5"/>
<rect x="627.20" y="104.80" width="7.10" height="5.80" fill="#8b0000" stroke="rgba(190,190,200,0.55)" stroke-width="0.5"/>
<rect x="627.20" y="110.60" width="7.10" height="5.80" fill="#8b0000" stroke="rgba(190,190,200,0.55)" stroke-width="0.5"/>
<rect x="484.30" y="119.45" width="6.70" height="5.83" fill="#3b3636" stroke="rgba(190,190,200,0.55)" stroke-width="0.5"/>
<rect x="484.30" y="125.28" width="6.70" height="5.83" fill="#fff" stroke="#b8b8b8" stroke-width="0.55"/>
<rect x="484.30" y="131.12" width="6.70" height="5.83" fill="#fff" stroke="#b8b8b8" stroke-width="0.55"/>
<rect x="484.30" y="136.95" width="6.70" height="5.83" fill="#fff" stroke="#b8b8b8" stroke-width="0.55"/>
<rect x="484.30" y="142.78" width="6.70" height="5.83" fill="#3b3636" stroke="rgba(190,190,200,0.55)" stroke-width="0.5"/>
<rect x="484.30" y="148.62" width="6.70" height="5.83" fill="#3b3636" stroke="rgba(190,190,200,0.55)" stroke-width="0.5"/>
<rect x="484.30" y="154.45" width="6.70" height="5.83" fill="#fff" stroke="#b8b8b8" stroke-width="0.55"/>
<rect x="484.30" y="160.28" width="6.70" height="5.83" fill="#3b3636" stroke="rgba(190,190,200,0.55)" stroke-width="0.5"/>
<rect x="484.30" y="166.11" width="6.70" height="5.83" fill="#3b3636" stroke="rgba(190,190,200,0.55)" stroke-width="0.5"/>
<rect x="484.30" y="171.95" width="6.70" height="5.83" fill="#3b3636" stroke="rgba(190,190,200,0.55)" stroke-width="0.5"/>
<rect x="484.30" y="177.78" width="6.70" height="5.83" fill="#3b3636" stroke="rgba(190,190,200,0.55)" stroke-width="0.5"/>
<rect x="484.30" y="183.61" width="6.70" height="5.83" fill="#3b3636" stroke="rgba(190,190,200,0.55)" stroke-width="0.5"/>
<rect x="484.30" y="189.45" width="6.70" height="5.83" fill="#3b3636" stroke="rgba(190,190,200,0.55)" stroke-width="0.5"/>
<rect x="484.30" y="195.28" width="6.70" height="5.83" fill="#fff" stroke="#b8b8b8" stroke-width="0.55"/>
<rect x="484.30" y="201.11" width="6.70" height="5.83" fill="#3b3636" stroke="rgba(190,190,200,0.55)" stroke-width="0.5"/>
<rect x="484.30" y="206.94" width="6.70" height="5.83" fill="#3b3636" stroke="rgba(190,190,200,0.55)" stroke-width="0.5"/>
<rect x="484.30" y="212.78" width="6.70" height="5.83" fill="#3b3636" stroke="rgba(190,190,200,0.55)" stroke-width="0.5"/>
<rect x="484.30" y="218.61" width="6.70" height="5.83" fill="#3b3636" stroke="rgba(190,190,200,0.55)" stroke-width="0.5"/>
<rect x="484.30" y="224.44" width="6.70" height="5.83" fill="#3b3636" stroke="rgba(190,190,200,0.55)" stroke-width="0.5"/>
<rect x="484.30" y="230.28" width="6.70" height="5.83" fill="#3b3636" stroke="rgba(190,190,200,0.55)" stroke-width="0.5"/>
<rect x="484.30" y="236.11" width="6.70" height="5.83" fill="#3b3636" stroke="rgba(190,190,200,0.55)" stroke-width="0.5"/>
<rect x="484.30" y="241.94" width="6.70" height="5.83" fill="#3b3636" stroke="rgba(190,190,200,0.55)" stroke-width="0.5"/>
<rect x="484.30" y="247.78" width="6.70" height="5.83" fill="#3b3636" stroke="rgba(190,190,200,0.55)" stroke-width="0.5"/>
<rect x="484.30" y="253.61" width="6.70" height="5.83" fill="#3b3636" stroke="rgba(190,190,200,0.55)" stroke-width="0.5"/>
<rect x="484.30" y="259.44" width="6.70" height="5.83" fill="#3b3636" stroke="rgba(190,190,200,0.55)" stroke-width="0.5"/>
<rect x="484.30" y="265.28" width="6.70" height="5.83" fill="#fff" stroke="#b8b8b8" stroke-width="0.55"/>
<rect x="484.30" y="271.11" width="6.70" height="5.83" fill="#3b3636" stroke="rgba(190,190,200,0.55)" stroke-width="0.5"/>
<rect x="484.30" y="276.94" width="6.70" height="5.83" fill="#3b3636" stroke="rgba(190,190,200,0.55)" stroke-width="0.5"/>
<rect x="484.30" y="282.77" width="6.70" height="5.83" fill="#fff" stroke="#b8b8b8" stroke-width="0.55"/>
<rect x="484.30" y="288.61" width="6.70" height="5.83" fill="#3b3636" stroke="rgba(190,190,200,0.55)" stroke-width="0.5"/>
<rect x="484.30" y="294.44" width="6.70" height="5.83" fill="#fff" stroke="#b8b8b8" stroke-width="0.55"/>
<rect x="484.30" y="300.27" width="6.70" height="5.83" fill="#3b3636" stroke="rgba(190,190,200,0.55)" stroke-width="0.5"/>
<rect x="484.30" y="306.11" width="6.70" height="5.83" fill="#fff" stroke="#b8b8b8" stroke-width="0.55"/>
<rect x="484.30" y="311.94" width="6.70" height="5.83" fill="#3b3636" stroke="rgba(190,190,200,0.55)" stroke-width="0.5"/>
<rect x="484.30" y="317.77" width="6.70" height="5.83" fill="#3b3636" stroke="rgba(190,190,200,0.55)" stroke-width="0.5"/>
<rect x="484.30" y="323.61" width="6.70" height="5.83" fill="#3b3636" stroke="rgba(190,190,200,0.55)" stroke-width="0.5"/>
<rect x="484.30" y="329.44" width="6.70" height="5.83" fill="#3b3636" stroke="rgba(190,190,200,0.55)" stroke-width="0.5"/>
<rect x="484.30" y="335.27" width="6.70" height="5.83" fill="#3b3636" stroke="rgba(190,190,200,0.55)" stroke-width="0.5"/>
<rect x="484.30" y="341.10" width="6.70" height="5.83" fill="#3b3636" stroke="rgba(190,190,200,0.55)" stroke-width="0.5"/>
<rect x="484.30" y="346.94" width="6.70" height="5.83" fill="#3b3636" stroke="rgba(190,190,200,0.55)" stroke-width="0.5"/>
<rect x="484.30" y="352.77" width="6.70" height="5.83" fill="#3b3636" stroke="rgba(190,190,200,0.55)" stroke-width="0.5"/>
<rect x="484.30" y="358.60" width="6.70" height="5.83" fill="#3b3636" stroke="rgba(190,190,200,0.55)" stroke-width="0.5"/>
<rect x="484.30" y="364.44" width="6.70" height="5.83" fill="#3b3636" stroke="rgba(190,190,200,0.55)" stroke-width="0.5"/>
<rect x="484.30" y="370.27" width="6.70" height="5.83" fill="#3b3636" stroke="rgba(190,190,200,0.55)" stroke-width="0.5"/>
<rect x="484.30" y="376.10" width="6.70" height="5.83" fill="#fff" stroke="#b8b8b8" stroke-width="0.55"/>
<rect x="484.30" y="381.94" width="6.70" height="5.83" fill="#fff" stroke="#b8b8b8" stroke-width="0.55"/>
<rect x="484.30" y="387.77" width="6.70" height="5.83" fill="#fff" stroke="#b8b8b8" stroke-width="0.55"/>
<rect x="484.30" y="393.60" width="6.70" height="5.83" fill="#fff" stroke="#b8b8b8" stroke-width="0.55"/>
<rect x="493.20" y="160.28" width="6.30" height="5.83" fill="#3b3636" stroke="rgba(190,190,200,0.55)" stroke-width="0.5"/>
<rect x="493.20" y="166.11" width="6.30" height="5.83" fill="#3b3636" stroke="rgba(190,190,200,0.55)" stroke-width="0.5"/>
<rect x="493.20" y="171.95" width="6.30" height="5.83" fill="#3b3636" stroke="rgba(190,190,200,0.55)" stroke-width="0.5"/>
<rect x="493.20" y="177.78" width="6.30" height="5.83" fill="#3b3636" stroke="rgba(190,190,200,0.55)" stroke-width="0.5"/>
<rect x="493.20" y="183.61" width="6.30" height="5.83" fill="#3b3636" stroke="rgba(190,190,200,0.55)" stroke-width="0.5"/>
<rect x="504.60" y="119.45" width="7.30" height="5.83" fill="#6567b0" stroke="rgba(190,190,200,0.55)" stroke-width="0.5"/>
<rect x="504.60" y="125.28" width="7.30" height="5.83" fill="#6567b0" stroke="rgba(190,190,200,0.55)" stroke-width="0.5"/>
<rect x="504.60" y="131.12" width="7.30" height="5.83" fill="#6567b0" stroke="rgba(190,190,200,0.55)" stroke-width="0.5"/>
<rect x="504.60" y="136.95" width="7.30" height="5.83" fill="#6567b0" stroke="rgba(190,190,200,0.55)" stroke-width="0.5"/>
<rect x="504.60" y="142.78" width="7.30" height="5.83" fill="#6567b0" stroke="rgba(190,190,200,0.55)" stroke-width="0.5"/>
<rect x="504.60" y="148.62" width="7.30" height="5.83" fill="#6567b0" stroke="rgba(190,190,200,0.55)" stroke-width="0.5"/>
<rect x="504.60" y="154.45" width="7.30" height="5.83" fill="#6567b0" stroke="rgba(190,190,200,0.55)" stroke-width="0.5"/>
<rect x="504.60" y="160.28" width="7.30" height="5.83" fill="#6567b0" stroke="rgba(190,190,200,0.55)" stroke-width="0.5"/>
<rect x="504.60" y="166.11" width="7.30" height="5.83" fill="#6567b0" stroke="rgba(190,190,200,0.55)" stroke-width="0.5"/>
<rect x="504.60" y="171.95" width="7.30" height="5.83" fill="#6567b0" stroke="rgba(190,190,200,0.55)" stroke-width="0.5"/>
<rect x="504.60" y="177.78" width="7.30" height="5.83" fill="#6567b0" stroke="rgba(190,190,200,0.55)" stroke-width="0.5"/>
<rect x="504.60" y="183.61" width="7.30" height="5.83" fill="#6567b0" stroke="rgba(190,190,200,0.55)" stroke-width="0.5"/>
<rect x="504.60" y="189.45" width="7.30" height="5.83" fill="#6567b0" stroke="rgba(190,190,200,0.55)" stroke-width="0.5"/>
<rect x="504.60" y="195.28" width="7.30" height="5.83" fill="#6567b0" stroke="rgba(190,190,200,0.55)" stroke-width="0.5"/>
<rect x="504.60" y="201.11" width="7.30" height="5.83" fill="#6567b0" stroke="rgba(190,190,200,0.55)" stroke-width="0.5"/>
<rect x="504.60" y="206.94" width="7.30" height="5.83" fill="#6567b0" stroke="rgba(190,190,200,0.55)" stroke-width="0.5"/>
<rect x="504.60" y="212.78" width="7.30" height="5.83" fill="#6567b0" stroke="rgba(190,190,200,0.55)" stroke-width="0.5"/>
<rect x="504.60" y="218.61" width="7.30" height="5.83" fill="#6567b0" stroke="rgba(190,190,200,0.55)" stroke-width="0.5"/>
<rect x="504.60" y="224.44" width="7.30" height="5.83" fill="#6567b0" stroke="rgba(190,190,200,0.55)" stroke-width="0.5"/>
<rect x="504.60" y="230.28" width="7.30" height="5.83" fill="#6567b0" stroke="rgba(190,190,200,0.55)" stroke-width="0.5"/>
<rect x="504.60" y="236.11" width="7.30" height="5.83" fill="#6567b0" stroke="rgba(190,190,200,0.55)" stroke-width="0.5"/>
<rect x="504.60" y="241.94" width="7.30" height="5.83" fill="#6567b0" stroke="rgba(190,190,200,0.55)" stroke-width="0.5"/>
<rect x="504.60" y="247.78" width="7.30" height="5.83" fill="#6567b0" stroke="rgba(190,190,200,0.55)" stroke-width="0.5"/>
<rect x="504.60" y="253.61" width="7.30" height="5.83" fill="#6567b0" stroke="rgba(190,190,200,0.55)" stroke-width="0.5"/>
<rect x="504.60" y="259.44" width="7.30" height="5.83" fill="#6567b0" stroke="rgba(190,190,200,0.55)" stroke-width="0.5"/>
<rect x="504.60" y="265.28" width="7.30" height="5.83" fill="#6567b0" stroke="rgba(190,190,200,0.55)" stroke-width="0.5"/>
<rect x="504.60" y="271.11" width="7.30" height="5.83" fill="#6567b0" stroke="rgba(190,190,200,0.55)" stroke-width="0.5"/>
<rect x="504.60" y="276.94" width="7.30" height="5.83" fill="#6567b0" stroke="rgba(190,190,200,0.55)" stroke-width="0.5"/>
<rect x="504.60" y="282.77" width="7.30" height="5.83" fill="#6567b0" stroke="rgba(190,190,200,0.55)" stroke-width="0.5"/>
<rect x="504.60" y="288.61" width="7.30" height="5.83" fill="#6567b0" stroke="rgba(190,190,200,0.55)" stroke-width="0.5"/>
<rect x="504.60" y="294.44" width="7.30" height="5.83" fill="#6567b0" stroke="rgba(190,190,200,0.55)" stroke-width="0.5"/>
<rect x="504.60" y="300.27" width="7.30" height="5.83" fill="#6567b0" stroke="rgba(190,190,200,0.55)" stroke-width="0.5"/>
<rect x="504.60" y="306.11" width="7.30" height="5.83" fill="#6567b0" stroke="rgba(190,190,200,0.55)" stroke-width="0.5"/>
<rect x="504.60" y="311.94" width="7.30" height="5.83" fill="#6567b0" stroke="rgba(190,190,200,0.55)" stroke-width="0.5"/>
<rect x="504.60" y="317.77" width="7.30" height="5.83" fill="#6567b0" stroke="rgba(190,190,200,0.55)" stroke-width="0.5"/>
<rect x="504.60" y="323.61" width="7.30" height="5.83" fill="#6567b0" stroke="rgba(190,190,200,0.55)" stroke-width="0.5"/>
<rect x="504.60" y="329.44" width="7.30" height="5.83" fill="#6567b0" stroke="rgba(190,190,200,0.55)" stroke-width="0.5"/>
<rect x="504.60" y="335.27" width="7.30" height="5.83" fill="#6567b0" stroke="rgba(190,190,200,0.55)" stroke-width="0.5"/>
<rect x="504.60" y="341.10" width="7.30" height="5.83" fill="#6567b0" stroke="rgba(190,190,200,0.55)" stroke-width="0.5"/>
<rect x="504.60" y="346.94" width="7.30" height="5.83" fill="#6567b0" stroke="rgba(190,190,200,0.55)" stroke-width="0.5"/>
<rect x="504.60" y="352.77" width="7.30" height="5.83" fill="#6567b0" stroke="rgba(190,190,200,0.55)" stroke-width="0.5"/>
<rect x="504.60" y="358.60" width="7.30" height="5.83" fill="#6567b0" stroke="rgba(190,190,200,0.55)" stroke-width="0.5"/>
<rect x="504.60" y="364.44" width="7.30" height="5.83" fill="#6567b0" stroke="rgba(190,190,200,0.55)" stroke-width="0.5"/>
<rect x="504.60" y="370.27" width="7.30" height="5.83" fill="#6567b0" stroke="rgba(190,190,200,0.55)" stroke-width="0.5"/>
<rect x="504.60" y="376.10" width="7.30" height="5.83" fill="#6567b0" stroke="rgba(190,190,200,0.55)" stroke-width="0.5"/>
<rect x="504.60" y="381.94" width="7.30" height="5.83" fill="#6567b0" stroke="rgba(190,190,200,0.55)" stroke-width="0.5"/>
<rect x="504.60" y="387.77" width="7.30" height="5.83" fill="#6567b0" stroke="rgba(190,190,200,0.55)" stroke-width="0.5"/>
<rect x="504.60" y="393.60" width="7.30" height="5.83" fill="#6567b0" stroke="rgba(190,190,200,0.55)" stroke-width="0.5"/>
<rect x="517.00" y="119.45" width="7.30" height="5.83" fill="#6567b0" stroke="rgba(190,190,200,0.55)" stroke-width="0.5"/>
<rect x="517.00" y="125.28" width="7.30" height="5.83" fill="#6567b0" stroke="rgba(190,190,200,0.55)" stroke-width="0.5"/>
<rect x="517.00" y="131.12" width="7.30" height="5.83" fill="#6567b0" stroke="rgba(190,190,200,0.55)" stroke-width="0.5"/>
<rect x="517.00" y="136.95" width="7.30" height="5.83" fill="#6567b0" stroke="rgba(190,190,200,0.55)" stroke-width="0.5"/>
<rect x="517.00" y="142.78" width="7.30" height="5.83" fill="#6567b0" stroke="rgba(190,190,200,0.55)" stroke-width="0.5"/>
<rect x="517.00" y="148.62" width="7.30" height="5.83" fill="#6567b0" stroke="rgba(190,190,200,0.55)" stroke-width="0.5"/>
<rect x="517.00" y="154.45" width="7.30" height="5.83" fill="#6567b0" stroke="rgba(190,190,200,0.55)" stroke-width="0.5"/>
<rect x="517.00" y="160.28" width="7.30" height="5.83" fill="#6567b0" stroke="rgba(190,190,200,0.55)" stroke-width="0.5"/>
<rect x="517.00" y="166.11" width="7.30" height="5.83" fill="#6567b0" stroke="rgba(190,190,200,0.55)" stroke-width="0.5"/>
<rect x="517.00" y="171.95" width="7.30" height="5.83" fill="#6567b0" stroke="rgba(190,190,200,0.55)" stroke-width="0.5"/>
<rect x="517.00" y="177.78" width="7.30" height="5.83" fill="#6567b0" stroke="rgba(190,190,200,0.55)" stroke-width="0.5"/>
<rect x="517.00" y="183.61" width="7.30" height="5.83" fill="#6567b0" stroke="rgba(190,190,200,0.55)" stroke-width="0.5"/>
<rect x="517.00" y="189.45" width="7.30" height="5.83" fill="#6567b0" stroke="rgba(190,190,200,0.55)" stroke-width="0.5"/>
<rect x="517.00" y="195.28" width="7.30" height="5.83" fill="#6567b0" stroke="rgba(190,190,200,0.55)" stroke-width="0.5"/>
<rect x="517.00" y="201.11" width="7.30" height="5.83" fill="#6567b0" stroke="rgba(190,190,200,0.55)" stroke-width="0.5"/>
<rect x="517.00" y="206.94" width="7.30" height="5.83" fill="#6567b0" stroke="rgba(190,190,200,0.55)" stroke-width="0.5"/>
<rect x="517.00" y="212.78" width="7.30" height="5.83" fill="#6567b0" stroke="rgba(190,190,200,0.55)" stroke-width="0.5"/>
<rect x="517.00" y="218.61" width="7.30" height="5.83" fill="#6567b0" stroke="rgba(190,190,200,0.55)" stroke-width="0.5"/>
<rect x="517.00" y="224.44" width="7.30" height="5.83" fill="#6567b0" stroke="rgba(190,190,200,0.55)" stroke-width="0.5"/>
<rect x="517.00" y="230.28" width="7.30" height="5.83" fill="#6567b0" stroke="rgba(190,190,200,0.55)" stroke-width="0.5"/>
<rect x="517.00" y="236.11" width="7.30" height="5.83" fill="#6567b0" stroke="rgba(190,190,200,0.55)" stroke-width="0.5"/>
<rect x="517.00" y="241.94" width="7.30" height="5.83" fill="#6567b0" stroke="rgba(190,190,200,0.55)" stroke-width="0.5"/>
<rect x="517.00" y="247.78" width="7.30" height="5.83" fill="#6567b0" stroke="rgba(190,190,200,0.55)" stroke-width="0.5"/>
<rect x="517.00" y="253.61" width="7.30" height="5.83" fill="#6567b0" stroke="rgba(190,190,200,0.55)" stroke-width="0.5"/>
<rect x="517.00" y="259.44" width="7.30" height="5.83" fill="#6567b0" stroke="rgba(190,190,200,0.55)" stroke-width="0.5"/>
<rect x="517.00" y="265.28" width="7.30" height="5.83" fill="#6567b0" stroke="rgba(190,190,200,0.55)" stroke-width="0.5"/>
<rect x="517.00" y="271.11" width="7.30" height="5.83" fill="#6567b0" stroke="rgba(190,190,200,0.55)" stroke-width="0.5"/>
<rect x="517.00" y="276.94" width="7.30" height="5.83" fill="#6567b0" stroke="rgba(190,190,200,0.55)" stroke-width="0.5"/>
<rect x="517.00" y="282.77" width="7.30" height="5.83" fill="#6567b0" stroke="rgba(190,190,200,0.55)" stroke-width="0.5"/>
<rect x="517.00" y="288.61" width="7.30" height="5.83" fill="#6567b0" stroke="rgba(190,190,200,0.55)" stroke-width="0.5"/>
<rect x="517.00" y="294.44" width="7.30" height="5.83" fill="#6567b0" stroke="rgba(190,190,200,0.55)" stroke-width="0.5"/>
<rect x="517.00" y="300.27" width="7.30" height="5.83" fill="#6567b0" stroke="rgba(190,190,200,0.55)" stroke-width="0.5"/>
<rect x="517.00" y="306.11" width="7.30" height="5.83" fill="#6567b0" stroke="rgba(190,190,200,0.55)" stroke-width="0.5"/>
<rect x="517.00" y="311.94" width="7.30" height="5.83" fill="#6567b0" stroke="rgba(190,190,200,0.55)" stroke-width="0.5"/>
<rect x="517.00" y="317.77" width="7.30" height="5.83" fill="#6567b0" stroke="rgba(190,190,200,0.55)" stroke-width="0.5"/>
<rect x="517.00" y="323.61" width="7.30" height="5.83" fill="#6567b0" stroke="rgba(190,190,200,0.55)" stroke-width="0.5"/>
<rect x="517.00" y="329.44" width="7.30" height="5.83" fill="#6567b0" stroke="rgba(190,190,200,0.55)" stroke-width="0.5"/>
<rect x="517.00" y="335.27" width="7.30" height="5.83" fill="#6567b0" stroke="rgba(190,190,200,0.55)" stroke-width="0.5"/>
<rect x="517.00" y="341.10" width="7.30" height="5.83" fill="#6567b0" stroke="rgba(190,190,200,0.55)" stroke-width="0.5"/>
<rect x="517.00" y="346.94" width="7.30" height="5.83" fill="#6567b0" stroke="rgba(190,190,200,0.55)" stroke-width="0.5"/>
<rect x="517.00" y="352.77" width="7.30" height="5.83" fill="#6567b0" stroke="rgba(190,190,200,0.55)" stroke-width="0.5"/>
<rect x="517.00" y="358.60" width="7.30" height="5.83" fill="#6567b0" stroke="rgba(190,190,200,0.55)" stroke-width="0.5"/>
<rect x="517.00" y="364.44" width="7.30" height="5.83" fill="#6567b0" stroke="rgba(190,190,200,0.55)" stroke-width="0.5"/>
<rect x="517.00" y="370.27" width="7.30" height="5.83" fill="#6567b0" stroke="rgba(190,190,200,0.55)" stroke-width="0.5"/>
<rect x="517.00" y="376.10" width="7.30" height="5.83" fill="#6567b0" stroke="rgba(190,190,200,0.55)" stroke-width="0.5"/>
<rect x="517.00" y="381.94" width="7.30" height="5.83" fill="#6567b0" stroke="rgba(190,190,200,0.55)" stroke-width="0.5"/>
<rect x="517.00" y="387.77" width="7.30" height="5.83" fill="#6567b0" stroke="rgba(190,190,200,0.55)" stroke-width="0.5"/>
<rect x="517.00" y="393.60" width="7.30" height="5.83" fill="#6567b0" stroke="rgba(190,190,200,0.55)" stroke-width="0.5"/>
<rect x="539.60" y="119.45" width="7.20" height="5.83" fill="#fff" stroke="#b8b8b8" stroke-width="0.55"/>
<line x1="539.60" y1="125.28" x2="546.80" y2="119.45" stroke="#777" stroke-width="0.5"/>
<rect x="539.60" y="125.28" width="7.20" height="5.83" fill="#fff" stroke="#b8b8b8" stroke-width="0.55"/>
<rect x="539.60" y="131.12" width="7.20" height="5.83" fill="#fff" stroke="#b8b8b8" stroke-width="0.55"/>
<rect x="539.60" y="136.95" width="7.20" height="5.83" fill="#fff" stroke="#b8b8b8" stroke-width="0.55"/>
<rect x="539.60" y="142.78" width="7.20" height="5.83" fill="#fff" stroke="#b8b8b8" stroke-width="0.55"/>
<rect x="539.60" y="148.62" width="7.20" height="5.83" fill="#fff" stroke="#b8b8b8" stroke-width="0.55"/>
<rect x="539.60" y="154.45" width="7.20" height="5.83" fill="#fff" stroke="#b8b8b8" stroke-width="0.55"/>
<rect x="539.60" y="160.28" width="7.20" height="5.83" fill="#fff" stroke="#b8b8b8" stroke-width="0.55"/>
<rect x="539.60" y="166.11" width="7.20" height="5.83" fill="#fff" stroke="#b8b8b8" stroke-width="0.55"/>
<rect x="539.60" y="171.95" width="7.20" height="5.83" fill="#fff" stroke="#b8b8b8" stroke-width="0.55"/>
<rect x="539.60" y="177.78" width="7.20" height="5.83" fill="#fff" stroke="#b8b8b8" stroke-width="0.55"/>
<rect x="539.60" y="183.61" width="7.20" height="5.83" fill="#fff" stroke="#b8b8b8" stroke-width="0.55"/>
<rect x="539.60" y="189.45" width="7.20" height="5.83" fill="#fff" stroke="#b8b8b8" stroke-width="0.55"/>
<rect x="539.60" y="195.28" width="7.20" height="5.83" fill="#fff" stroke="#b8b8b8" stroke-width="0.55"/>
<rect x="539.60" y="201.11" width="7.20" height="5.83" fill="#fff" stroke="#b8b8b8" stroke-width="0.55"/>
<rect x="539.60" y="206.94" width="7.20" height="5.83" fill="#fff" stroke="#b8b8b8" stroke-width="0.55"/>
<rect x="539.60" y="212.78" width="7.20" height="5.83" fill="#fff" stroke="#b8b8b8" stroke-width="0.55"/>
<rect x="539.60" y="218.61" width="7.20" height="5.83" fill="#fff" stroke="#b8b8b8" stroke-width="0.55"/>
<rect x="539.60" y="224.44" width="7.20" height="5.83" fill="#fff" stroke="#b8b8b8" stroke-width="0.55"/>
<rect x="539.60" y="230.28" width="7.20" height="5.83" fill="#fff" stroke="#b8b8b8" stroke-width="0.55"/>
<rect x="539.60" y="236.11" width="7.20" height="5.83" fill="#fff" stroke="#b8b8b8" stroke-width="0.55"/>
<rect x="539.60" y="241.94" width="7.20" height="5.83" fill="#fff" stroke="#b8b8b8" stroke-width="0.55"/>
<rect x="539.60" y="247.78" width="7.20" height="5.83" fill="#fff" stroke="#b8b8b8" stroke-width="0.55"/>
<rect x="539.60" y="253.61" width="7.20" height="5.83" fill="#fff" stroke="#b8b8b8" stroke-width="0.55"/>
<rect x="539.60" y="259.44" width="7.20" height="5.83" fill="#fff" stroke="#b8b8b8" stroke-width="0.55"/>
<rect x="539.60" y="265.28" width="7.20" height="5.83" fill="#fff" stroke="#b8b8b8" stroke-width="0.55"/>
<rect x="539.60" y="271.11" width="7.20" height="5.83" fill="#fff" stroke="#b8b8b8" stroke-width="0.55"/>
<rect x="539.60" y="276.94" width="7.20" height="5.83" fill="#fff" stroke="#b8b8b8" stroke-width="0.55"/>
<rect x="539.60" y="282.77" width="7.20" height="5.83" fill="#fff" stroke="#b8b8b8" stroke-width="0.55"/>
<rect x="539.60" y="288.61" width="7.20" height="5.83" fill="#fff" stroke="#b8b8b8" stroke-width="0.55"/>
<rect x="539.60" y="294.44" width="7.20" height="5.83" fill="#fff" stroke="#b8b8b8" stroke-width="0.55"/>
<rect x="539.60" y="300.27" width="7.20" height="5.83" fill="#fff" stroke="#b8b8b8" stroke-width="0.55"/>
<rect x="539.60" y="306.11" width="7.20" height="5.83" fill="#fff" stroke="#b8b8b8" stroke-width="0.55"/>
<rect x="539.60" y="311.94" width="7.20" height="5.83" fill="#fff" stroke="#b8b8b8" stroke-width="0.55"/>
<rect x="539.60" y="317.77" width="7.20" height="5.83" fill="#fff" stroke="#b8b8b8" stroke-width="0.55"/>
<rect x="539.60" y="323.61" width="7.20" height="5.83" fill="#fff" stroke="#b8b8b8" stroke-width="0.55"/>
<rect x="539.60" y="329.44" width="7.20" height="5.83" fill="#fff" stroke="#b8b8b8" stroke-width="0.55"/>
<rect x="539.60" y="335.27" width="7.20" height="5.83" fill="#fff" stroke="#b8b8b8" stroke-width="0.55"/>
<rect x="539.60" y="341.10" width="7.20" height="5.83" fill="#fff" stroke="#b8b8b8" stroke-width="0.55"/>
<rect x="539.60" y="346.94" width="7.20" height="5.83" fill="#fff" stroke="#b8b8b8" stroke-width="0.55"/>
<rect x="539.60" y="352.77" width="7.20" height="5.83" fill="#fff" stroke="#b8b8b8" stroke-width="0.55"/>
<rect x="539.60" y="358.60" width="7.20" height="5.83" fill="#fff" stroke="#b8b8b8" stroke-width="0.55"/>
<rect x="539.60" y="364.44" width="7.20" height="5.83" fill="#fff" stroke="#b8b8b8" stroke-width="0.55"/>
<rect x="539.60" y="370.27" width="7.20" height="5.83" fill="#fff" stroke="#b8b8b8" stroke-width="0.55"/>
<rect x="539.60" y="376.10" width="7.20" height="5.83" fill="#fff" stroke="#b8b8b8" stroke-width="0.55"/>
<rect x="539.60" y="381.94" width="7.20" height="5.83" fill="#fff" stroke="#b8b8b8" stroke-width="0.55"/>
<rect x="539.60" y="387.77" width="7.20" height="5.83" fill="#fff" stroke="#b8b8b8" stroke-width="0.55"/>
<rect x="539.60" y="393.60" width="7.20" height="5.83" fill="#fff" stroke="#b8b8b8" stroke-width="0.55"/>
<rect x="551.00" y="119.45" width="7.20" height="5.83" fill="#fff" stroke="#b8b8b8" stroke-width="0.55"/>
<line x1="551.00" y1="125.28" x2="558.20" y2="119.45" stroke="#777" stroke-width="0.5"/>
<rect x="551.00" y="125.28" width="7.20" height="5.83" fill="#fff" stroke="#b8b8b8" stroke-width="0.55"/>
<rect x="551.00" y="131.12" width="7.20" height="5.83" fill="#fff" stroke="#b8b8b8" stroke-width="0.55"/>
<rect x="551.00" y="136.95" width="7.20" height="5.83" fill="#fff" stroke="#b8b8b8" stroke-width="0.55"/>
<rect x="551.00" y="142.78" width="7.20" height="5.83" fill="#fff" stroke="#b8b8b8" stroke-width="0.55"/>
<rect x="551.00" y="148.62" width="7.20" height="5.83" fill="#fff" stroke="#b8b8b8" stroke-width="0.55"/>
<rect x="551.00" y="154.45" width="7.20" height="5.83" fill="#fff" stroke="#b8b8b8" stroke-width="0.55"/>
<rect x="551.00" y="160.28" width="7.20" height="5.83" fill="#fff" stroke="#b8b8b8" stroke-width="0.55"/>
<rect x="551.00" y="166.11" width="7.20" height="5.83" fill="#fff" stroke="#b8b8b8" stroke-width="0.55"/>
<rect x="551.00" y="171.95" width="7.20" height="5.83" fill="#fff" stroke="#b8b8b8" stroke-width="0.55"/>
<rect x="551.00" y="177.78" width="7.20" height="5.83" fill="#fff" stroke="#b8b8b8" stroke-width="0.55"/>
<rect x="551.00" y="183.61" width="7.20" height="5.83" fill="#fff" stroke="#b8b8b8" stroke-width="0.55"/>
<rect x="551.00" y="189.45" width="7.20" height="5.83" fill="#fff" stroke="#b8b8b8" stroke-width="0.55"/>
<rect x="551.00" y="195.28" width="7.20" height="5.83" fill="#fff" stroke="#b8b8b8" stroke-width="0.55"/>
<rect x="551.00" y="201.11" width="7.20" height="5.83" fill="#fff" stroke="#b8b8b8" stroke-width="0.55"/>
<rect x="551.00" y="206.94" width="7.20" height="5.83" fill="#fff" stroke="#b8b8b8" stroke-width="0.55"/>
<rect x="551.00" y="212.78" width="7.20" height="5.83" fill="#fff" stroke="#b8b8b8" stroke-width="0.55"/>
<rect x="551.00" y="218.61" width="7.20" height="5.83" fill="#fff" stroke="#b8b8b8" stroke-width="0.55"/>
<rect x="551.00" y="224.44" width="7.20" height="5.83" fill="#fff" stroke="#b8b8b8" stroke-width="0.55"/>
<rect x="551.00" y="230.28" width="7.20" height="5.83" fill="#fff" stroke="#b8b8b8" stroke-width="0.55"/>
<rect x="551.00" y="236.11" width="7.20" height="5.83" fill="#fff" stroke="#b8b8b8" stroke-width="0.55"/>
<rect x="551.00" y="241.94" width="7.20" height="5.83" fill="#fff" stroke="#b8b8b8" stroke-width="0.55"/>
<rect x="551.00" y="247.78" width="7.20" height="5.83" fill="#fff" stroke="#b8b8b8" stroke-width="0.55"/>
<rect x="551.00" y="253.61" width="7.20" height="5.83" fill="#fff" stroke="#b8b8b8" stroke-width="0.55"/>
<rect x="551.00" y="259.44" width="7.20" height="5.83" fill="#fff" stroke="#b8b8b8" stroke-width="0.55"/>
<rect x="551.00" y="265.28" width="7.20" height="5.83" fill="#fff" stroke="#b8b8b8" stroke-width="0.55"/>
<rect x="551.00" y="271.11" width="7.20" height="5.83" fill="#fff" stroke="#b8b8b8" stroke-width="0.55"/>
<rect x="551.00" y="276.94" width="7.20" height="5.83" fill="#fff" stroke="#b8b8b8" stroke-width="0.55"/>
<rect x="551.00" y="282.77" width="7.20" height="5.83" fill="#fff" stroke="#b8b8b8" stroke-width="0.55"/>
<rect x="551.00" y="288.61" width="7.20" height="5.83" fill="#fff" stroke="#b8b8b8" stroke-width="0.55"/>
<rect x="551.00" y="294.44" width="7.20" height="5.83" fill="#fff" stroke="#b8b8b8" stroke-width="0.55"/>
<rect x="551.00" y="300.27" width="7.20" height="5.83" fill="#fff" stroke="#b8b8b8" stroke-width="0.55"/>
<rect x="551.00" y="306.11" width="7.20" height="5.83" fill="#fff" stroke="#b8b8b8" stroke-width="0.55"/>
<rect x="551.00" y="311.94" width="7.20" height="5.83" fill="#fff" stroke="#b8b8b8" stroke-width="0.55"/>
<rect x="551.00" y="317.77" width="7.20" height="5.83" fill="#fff" stroke="#b8b8b8" stroke-width="0.55"/>
<rect x="551.00" y="323.61" width="7.20" height="5.83" fill="#fff" stroke="#b8b8b8" stroke-width="0.55"/>
<rect x="551.00" y="329.44" width="7.20" height="5.83" fill="#fff" stroke="#b8b8b8" stroke-width="0.55"/>
<rect x="551.00" y="335.27" width="7.20" height="5.83" fill="#fff" stroke="#b8b8b8" stroke-width="0.55"/>
<rect x="551.00" y="341.10" width="7.20" height="5.83" fill="#fff" stroke="#b8b8b8" stroke-width="0.55"/>
<rect x="551.00" y="346.94" width="7.20" height="5.83" fill="#fff" stroke="#b8b8b8" stroke-width="0.55"/>
<rect x="551.00" y="352.77" width="7.20" height="5.83" fill="#fff" stroke="#b8b8b8" stroke-width="0.55"/>
<rect x="551.00" y="358.60" width="7.20" height="5.83" fill="#fff" stroke="#b8b8b8" stroke-width="0.55"/>
<rect x="551.00" y="364.44" width="7.20" height="5.83" fill="#fff" stroke="#b8b8b8" stroke-width="0.55"/>
<rect x="551.00" y="370.27" width="7.20" height="5.83" fill="#fff" stroke="#b8b8b8" stroke-width="0.55"/>
<rect x="551.00" y="376.10" width="7.20" height="5.83" fill="#fff" stroke="#b8b8b8" stroke-width="0.55"/>
<rect x="551.00" y="381.94" width="7.20" height="5.83" fill="#fff" stroke="#b8b8b8" stroke-width="0.55"/>
<rect x="551.00" y="387.77" width="7.20" height="5.83" fill="#fff" stroke="#b8b8b8" stroke-width="0.55"/>
<rect x="551.00" y="393.60" width="7.20" height="5.83" fill="#fff" stroke="#b8b8b8" stroke-width="0.55"/>
<rect x="573.20" y="119.45" width="7.30" height="5.83" fill="#a0628a" stroke="rgba(190,190,200,0.55)" stroke-width="0.5"/>
<rect x="573.20" y="125.28" width="7.30" height="5.83" fill="#a0628a" stroke="rgba(190,190,200,0.55)" stroke-width="0.5"/>
<rect x="573.20" y="131.12" width="7.30" height="5.83" fill="#a0628a" stroke="rgba(190,190,200,0.55)" stroke-width="0.5"/>
<rect x="573.20" y="136.95" width="7.30" height="5.83" fill="#a0628a" stroke="rgba(190,190,200,0.55)" stroke-width="0.5"/>
<rect x="573.20" y="142.78" width="7.30" height="5.83" fill="#a0628a" stroke="rgba(190,190,200,0.55)" stroke-width="0.5"/>
<rect x="573.20" y="148.62" width="7.30" height="5.83" fill="#fff" stroke="#b8b8b8" stroke-width="0.55"/>
<line x1="573.20" y1="154.45" x2="580.50" y2="148.62" stroke="#777" stroke-width="0.5"/>
<rect x="573.20" y="154.45" width="7.30" height="5.83" fill="#fff" stroke="#b8b8b8" stroke-width="0.55"/>
<line x1="573.20" y1="160.28" x2="580.50" y2="154.45" stroke="#777" stroke-width="0.5"/>
<rect x="573.20" y="160.28" width="7.30" height="5.83" fill="#a0628a" stroke="rgba(190,190,200,0.55)" stroke-width="0.5"/>
<rect x="573.20" y="166.11" width="7.30" height="5.83" fill="#fff" stroke="#b8b8b8" stroke-width="0.55"/>
<line x1="573.20" y1="171.95" x2="580.50" y2="166.11" stroke="#777" stroke-width="0.5"/>
<rect x="573.20" y="171.95" width="7.30" height="5.83" fill="#a0628a" stroke="rgba(190,190,200,0.55)" stroke-width="0.5"/>
<rect x="573.20" y="177.78" width="7.30" height="5.83" fill="#a0628a" stroke="rgba(190,190,200,0.55)" stroke-width="0.5"/>
<rect x="573.20" y="183.61" width="7.30" height="5.83" fill="#a0628a" stroke="rgba(190,190,200,0.55)" stroke-width="0.5"/>
<rect x="573.20" y="189.45" width="7.30" height="5.83" fill="#a0628a" stroke="rgba(190,190,200,0.55)" stroke-width="0.5"/>
<rect x="573.20" y="195.28" width="7.30" height="5.83" fill="#a0628a" stroke="rgba(190,190,200,0.55)" stroke-width="0.5"/>
<rect x="573.20" y="201.11" width="7.30" height="5.83" fill="#a0628a" stroke="rgba(190,190,200,0.55)" stroke-width="0.5"/>
<rect x="573.20" y="206.94" width="7.30" height="5.83" fill="#a0628a" stroke="rgba(190,190,200,0.55)" stroke-width="0.5"/>
<rect x="573.20" y="212.78" width="7.30" height="5.83" fill="#a0628a" stroke="rgba(190,190,200,0.55)" stroke-width="0.5"/>
<rect x="573.20" y="218.61" width="7.30" height="5.83" fill="#a0628a" stroke="rgba(190,190,200,0.55)" stroke-width="0.5"/>
<rect x="573.20" y="224.44" width="7.30" height="5.83" fill="#a0628a" stroke="rgba(190,190,200,0.55)" stroke-width="0.5"/>
<rect x="573.20" y="230.28" width="7.30" height="5.83" fill="#a0628a" stroke="rgba(190,190,200,0.55)" stroke-width="0.5"/>
<rect x="573.20" y="236.11" width="7.30" height="5.83" fill="#fff" stroke="#b8b8b8" stroke-width="0.55"/>
<line x1="573.20" y1="241.94" x2="580.50" y2="236.11" stroke="#777" stroke-width="0.5"/>
<rect x="573.20" y="241.94" width="7.30" height="5.83" fill="#a0628a" stroke="rgba(190,190,200,0.55)" stroke-width="0.5"/>
<rect x="573.20" y="247.78" width="7.30" height="5.83" fill="#a0628a" stroke="rgba(190,190,200,0.55)" stroke-width="0.5"/>
<rect x="573.20" y="253.61" width="7.30" height="5.83" fill="#a0628a" stroke="rgba(190,190,200,0.55)" stroke-width="0.5"/>
<rect x="573.20" y="259.44" width="7.30" height="5.83" fill="#a0628a" stroke="rgba(190,190,200,0.55)" stroke-width="0.5"/>
<rect x="573.20" y="265.28" width="7.30" height="5.83" fill="#a0628a" stroke="rgba(190,190,200,0.55)" stroke-width="0.5"/>
<rect x="573.20" y="271.11" width="7.30" height="5.83" fill="#a0628a" stroke="rgba(190,190,200,0.55)" stroke-width="0.5"/>
<rect x="573.20" y="276.94" width="7.30" height="5.83" fill="#a0628a" stroke="rgba(190,190,200,0.55)" stroke-width="0.5"/>
<rect x="573.20" y="282.77" width="7.30" height="5.83" fill="#a0628a" stroke="rgba(190,190,200,0.55)" stroke-width="0.5"/>
<rect x="573.20" y="288.61" width="7.30" height="5.83" fill="#a0628a" stroke="rgba(190,190,200,0.55)" stroke-width="0.5"/>
<rect x="573.20" y="294.44" width="7.30" height="5.83" fill="#fff" stroke="#b8b8b8" stroke-width="0.55"/>
<line x1="573.20" y1="300.27" x2="580.50" y2="294.44" stroke="#777" stroke-width="0.5"/>
<rect x="573.20" y="300.27" width="7.30" height="5.83" fill="#fff" stroke="#b8b8b8" stroke-width="0.55"/>
<line x1="573.20" y1="306.11" x2="580.50" y2="300.27" stroke="#777" stroke-width="0.5"/>
<rect x="573.20" y="306.11" width="7.30" height="5.83" fill="#a0628a" stroke="rgba(190,190,200,0.55)" stroke-width="0.5"/>
<rect x="573.20" y="311.94" width="7.30" height="5.83" fill="#a0628a" stroke="rgba(190,190,200,0.55)" stroke-width="0.5"/>
<rect x="573.20" y="317.77" width="7.30" height="5.83" fill="#a0628a" stroke="rgba(190,190,200,0.55)" stroke-width="0.5"/>
<rect x="573.20" y="323.61" width="7.30" height="5.83" fill="#a0628a" stroke="rgba(190,190,200,0.55)" stroke-width="0.5"/>
<rect x="573.20" y="329.44" width="7.30" height="5.83" fill="#fff" stroke="#b8b8b8" stroke-width="0.55"/>
<line x1="573.20" y1="335.27" x2="580.50" y2="329.44" stroke="#777" stroke-width="0.5"/>
<rect x="573.20" y="335.27" width="7.30" height="5.83" fill="#a0628a" stroke="rgba(190,190,200,0.55)" stroke-width="0.5"/>
<rect x="573.20" y="341.10" width="7.30" height="5.83" fill="#a0628a" stroke="rgba(190,190,200,0.55)" stroke-width="0.5"/>
<rect x="573.20" y="346.94" width="7.30" height="5.83" fill="#a0628a" stroke="rgba(190,190,200,0.55)" stroke-width="0.5"/>
<rect x="573.20" y="352.77" width="7.30" height="5.83" fill="#a0628a" stroke="rgba(190,190,200,0.55)" stroke-width="0.5"/>
<rect x="573.20" y="358.60" width="7.30" height="5.83" fill="#fff" stroke="#b8b8b8" stroke-width="0.55"/>
<line x1="573.20" y1="364.44" x2="580.50" y2="358.60" stroke="#777" stroke-width="0.5"/>
<rect x="573.20" y="364.44" width="7.30" height="5.83" fill="#a0628a" stroke="rgba(190,190,200,0.55)" stroke-width="0.5"/>
<rect x="573.20" y="370.27" width="7.30" height="5.83" fill="#a0628a" stroke="rgba(190,190,200,0.55)" stroke-width="0.5"/>
<rect x="573.20" y="376.10" width="7.30" height="5.83" fill="#a0628a" stroke="rgba(190,190,200,0.55)" stroke-width="0.5"/>
<rect x="573.20" y="381.94" width="7.30" height="5.83" fill="#a0628a" stroke="rgba(190,190,200,0.55)" stroke-width="0.5"/>
<rect x="573.20" y="387.77" width="7.30" height="5.83" fill="#a0628a" stroke="rgba(190,190,200,0.55)" stroke-width="0.5"/>
<rect x="573.20" y="393.60" width="7.30" height="5.83" fill="#a0628a" stroke="rgba(190,190,200,0.55)" stroke-width="0.5"/>
<rect x="580.50" y="119.45" width="7.20" height="5.83" fill="#fff" stroke="#b8b8b8" stroke-width="0.55"/>
<rect x="580.50" y="125.28" width="7.20" height="5.83" fill="#fff" stroke="#b8b8b8" stroke-width="0.55"/>
<rect x="580.50" y="131.12" width="7.20" height="5.83" fill="#fff" stroke="#b8b8b8" stroke-width="0.55"/>
<rect x="580.50" y="136.95" width="7.20" height="5.83" fill="#fff" stroke="#b8b8b8" stroke-width="0.55"/>
<rect x="580.50" y="142.78" width="7.20" height="5.83" fill="#fff" stroke="#b8b8b8" stroke-width="0.55"/>
<rect x="580.50" y="148.62" width="7.20" height="5.83" fill="#fff" stroke="#b8b8b8" stroke-width="0.55"/>
<rect x="580.50" y="154.45" width="7.20" height="5.83" fill="#fff" stroke="#b8b8b8" stroke-width="0.55"/>
<rect x="580.50" y="160.28" width="7.20" height="5.83" fill="#fff" stroke="#b8b8b8" stroke-width="0.55"/>
<rect x="580.50" y="166.11" width="7.20" height="5.83" fill="#fff" stroke="#b8b8b8" stroke-width="0.55"/>
<rect x="580.50" y="171.95" width="7.20" height="5.83" fill="#fff" stroke="#b8b8b8" stroke-width="0.55"/>
<rect x="580.50" y="177.78" width="7.20" height="5.83" fill="#fff" stroke="#b8b8b8" stroke-width="0.55"/>
<rect x="580.50" y="183.61" width="7.20" height="5.83" fill="#fff" stroke="#b8b8b8" stroke-width="0.55"/>
<rect x="580.50" y="189.45" width="7.20" height="5.83" fill="#fff" stroke="#b8b8b8" stroke-width="0.55"/>
<rect x="580.50" y="195.28" width="7.20" height="5.83" fill="#fff" stroke="#b8b8b8" stroke-width="0.55"/>
<rect x="580.50" y="201.11" width="7.20" height="5.83" fill="#fff" stroke="#b8b8b8" stroke-width="0.55"/>
<rect x="580.50" y="206.94" width="7.20" height="5.83" fill="#fff" stroke="#b8b8b8" stroke-width="0.55"/>
<rect x="580.50" y="212.78" width="7.20" height="5.83" fill="#fff" stroke="#b8b8b8" stroke-width="0.55"/>
<rect x="580.50" y="218.61" width="7.20" height="5.83" fill="#fff" stroke="#b8b8b8" stroke-width="0.55"/>
<rect x="580.50" y="224.44" width="7.20" height="5.83" fill="#fff" stroke="#b8b8b8" stroke-width="0.55"/>
<rect x="580.50" y="230.28" width="7.20" height="5.83" fill="#fff" stroke="#b8b8b8" stroke-width="0.55"/>
<rect x="580.50" y="236.11" width="7.20" height="5.83" fill="#fff" stroke="#b8b8b8" stroke-width="0.55"/>
<rect x="580.50" y="241.94" width="7.20" height="5.83" fill="#fff" stroke="#b8b8b8" stroke-width="0.55"/>
<rect x="580.50" y="247.78" width="7.20" height="5.83" fill="#fff" stroke="#b8b8b8" stroke-width="0.55"/>
<rect x="580.50" y="253.61" width="7.20" height="5.83" fill="#fff" stroke="#b8b8b8" stroke-width="0.55"/>
<rect x="580.50" y="259.44" width="7.20" height="5.83" fill="#fff" stroke="#b8b8b8" stroke-width="0.55"/>
<rect x="580.50" y="265.28" width="7.20" height="5.83" fill="#fff" stroke="#b8b8b8" stroke-width="0.55"/>
<rect x="580.50" y="271.11" width="7.20" height="5.83" fill="#fff" stroke="#b8b8b8" stroke-width="0.55"/>
<rect x="580.50" y="276.94" width="7.20" height="5.83" fill="#fff" stroke="#b8b8b8" stroke-width="0.55"/>
<rect x="580.50" y="282.77" width="7.20" height="5.83" fill="#fff" stroke="#b8b8b8" stroke-width="0.55"/>
<rect x="580.50" y="288.61" width="7.20" height="5.83" fill="#fff" stroke="#b8b8b8" stroke-width="0.55"/>
<rect x="580.50" y="294.44" width="7.20" height="5.83" fill="#fff" stroke="#b8b8b8" stroke-width="0.55"/>
<rect x="580.50" y="300.27" width="7.20" height="5.83" fill="#fff" stroke="#b8b8b8" stroke-width="0.55"/>
<rect x="580.50" y="306.11" width="7.20" height="5.83" fill="#fff" stroke="#b8b8b8" stroke-width="0.55"/>
<rect x="580.50" y="311.94" width="7.20" height="5.83" fill="#fff" stroke="#b8b8b8" stroke-width="0.55"/>
<rect x="580.50" y="317.77" width="7.20" height="5.83" fill="#fff" stroke="#b8b8b8" stroke-width="0.55"/>
<rect x="580.50" y="323.61" width="7.20" height="5.83" fill="#fff" stroke="#b8b8b8" stroke-width="0.55"/>
<rect x="580.50" y="329.44" width="7.20" height="5.83" fill="#fff" stroke="#b8b8b8" stroke-width="0.55"/>
<rect x="580.50" y="335.27" width="7.20" height="5.83" fill="#fff" stroke="#b8b8b8" stroke-width="0.55"/>
<rect x="580.50" y="341.10" width="7.20" height="5.83" fill="#fff" stroke="#b8b8b8" stroke-width="0.55"/>
<rect x="580.50" y="346.94" width="7.20" height="5.83" fill="#fff" stroke="#b8b8b8" stroke-width="0.55"/>
<rect x="580.50" y="352.77" width="7.20" height="5.83" fill="#fff" stroke="#b8b8b8" stroke-width="0.55"/>
<rect x="580.50" y="358.60" width="7.20" height="5.83" fill="#fff" stroke="#b8b8b8" stroke-width="0.55"/>
<rect x="580.50" y="364.44" width="7.20" height="5.83" fill="#fff" stroke="#b8b8b8" stroke-width="0.55"/>
<rect x="580.50" y="370.27" width="7.20" height="5.83" fill="#fff" stroke="#b8b8b8" stroke-width="0.55"/>
<rect x="580.50" y="376.10" width="7.20" height="5.83" fill="#fff" stroke="#b8b8b8" stroke-width="0.55"/>
<rect x="580.50" y="381.94" width="7.20" height="5.83" fill="#fff" stroke="#b8b8b8" stroke-width="0.55"/>
<rect x="580.50" y="387.77" width="7.20" height="5.83" fill="#fff" stroke="#b8b8b8" stroke-width="0.55"/>
<rect x="580.50" y="393.60" width="7.20" height="5.83" fill="#fff" stroke="#b8b8b8" stroke-width="0.55"/>
<rect x="587.70" y="119.45" width="7.30" height="5.83" fill="#fff" stroke="#b8b8b8" stroke-width="0.55"/>
<rect x="587.70" y="125.28" width="7.30" height="5.83" fill="#fff" stroke="#b8b8b8" stroke-width="0.55"/>
<rect x="587.70" y="131.12" width="7.30" height="5.83" fill="#fff" stroke="#b8b8b8" stroke-width="0.55"/>
<rect x="587.70" y="136.95" width="7.30" height="5.83" fill="#fff" stroke="#b8b8b8" stroke-width="0.55"/>
<rect x="587.70" y="142.78" width="7.30" height="5.83" fill="#fff" stroke="#b8b8b8" stroke-width="0.55"/>
<rect x="587.70" y="148.62" width="7.30" height="5.83" fill="#fff" stroke="#b8b8b8" stroke-width="0.55"/>
<rect x="587.70" y="154.45" width="7.30" height="5.83" fill="#fff" stroke="#b8b8b8" stroke-width="0.55"/>
<rect x="587.70" y="160.28" width="7.30" height="5.83" fill="#fff" stroke="#b8b8b8" stroke-width="0.55"/>
<rect x="587.70" y="166.11" width="7.30" height="5.83" fill="#fff" stroke="#b8b8b8" stroke-width="0.55"/>
<rect x="587.70" y="171.95" width="7.30" height="5.83" fill="#fff" stroke="#b8b8b8" stroke-width="0.55"/>
<rect x="587.70" y="177.78" width="7.30" height="5.83" fill="#fff" stroke="#b8b8b8" stroke-width="0.55"/>
<rect x="587.70" y="183.61" width="7.30" height="5.83" fill="#fff" stroke="#b8b8b8" stroke-width="0.55"/>
<rect x="587.70" y="189.45" width="7.30" height="5.83" fill="#fff" stroke="#b8b8b8" stroke-width="0.55"/>
<rect x="587.70" y="195.28" width="7.30" height="5.83" fill="#fff" stroke="#b8b8b8" stroke-width="0.55"/>
<rect x="587.70" y="201.11" width="7.30" height="5.83" fill="#fff" stroke="#b8b8b8" stroke-width="0.55"/>
<rect x="587.70" y="206.94" width="7.30" height="5.83" fill="#fff" stroke="#b8b8b8" stroke-width="0.55"/>
<rect x="587.70" y="212.78" width="7.30" height="5.83" fill="#fff" stroke="#b8b8b8" stroke-width="0.55"/>
<rect x="587.70" y="218.61" width="7.30" height="5.83" fill="#fff" stroke="#b8b8b8" stroke-width="0.55"/>
<rect x="587.70" y="224.44" width="7.30" height="5.83" fill="#fff" stroke="#b8b8b8" stroke-width="0.55"/>
<rect x="587.70" y="230.28" width="7.30" height="5.83" fill="#fff" stroke="#b8b8b8" stroke-width="0.55"/>
<rect x="587.70" y="236.11" width="7.30" height="5.83" fill="#fff" stroke="#b8b8b8" stroke-width="0.55"/>
<rect x="587.70" y="241.94" width="7.30" height="5.83" fill="#fff" stroke="#b8b8b8" stroke-width="0.55"/>
<rect x="587.70" y="247.78" width="7.30" height="5.83" fill="#fff" stroke="#b8b8b8" stroke-width="0.55"/>
<rect x="587.70" y="253.61" width="7.30" height="5.83" fill="#fff" stroke="#b8b8b8" stroke-width="0.55"/>
<rect x="587.70" y="259.44" width="7.30" height="5.83" fill="#fff" stroke="#b8b8b8" stroke-width="0.55"/>
<rect x="587.70" y="265.28" width="7.30" height="5.83" fill="#fff" stroke="#b8b8b8" stroke-width="0.55"/>
<rect x="587.70" y="271.11" width="7.30" height="5.83" fill="#fff" stroke="#b8b8b8" stroke-width="0.55"/>
<rect x="587.70" y="276.94" width="7.30" height="5.83" fill="#fff" stroke="#b8b8b8" stroke-width="0.55"/>
<rect x="587.70" y="282.77" width="7.30" height="5.83" fill="#fff" stroke="#b8b8b8" stroke-width="0.55"/>
<rect x="587.70" y="288.61" width="7.30" height="5.83" fill="#fff" stroke="#b8b8b8" stroke-width="0.55"/>
<rect x="587.70" y="294.44" width="7.30" height="5.83" fill="#fff" stroke="#b8b8b8" stroke-width="0.55"/>
<rect x="587.70" y="300.27" width="7.30" height="5.83" fill="#fff" stroke="#b8b8b8" stroke-width="0.55"/>
<rect x="587.70" y="306.11" width="7.30" height="5.83" fill="#fff" stroke="#b8b8b8" stroke-width="0.55"/>
<rect x="587.70" y="311.94" width="7.30" height="5.83" fill="#fff" stroke="#b8b8b8" stroke-width="0.55"/>
<rect x="587.70" y="317.77" width="7.30" height="5.83" fill="#fff" stroke="#b8b8b8" stroke-width="0.55"/>
<rect x="587.70" y="323.61" width="7.30" height="5.83" fill="#fff" stroke="#b8b8b8" stroke-width="0.55"/>
<rect x="587.70" y="329.44" width="7.30" height="5.83" fill="#fff" stroke="#b8b8b8" stroke-width="0.55"/>
<rect x="587.70" y="335.27" width="7.30" height="5.83" fill="#fff" stroke="#b8b8b8" stroke-width="0.55"/>
<rect x="587.70" y="341.10" width="7.30" height="5.83" fill="#fff" stroke="#b8b8b8" stroke-width="0.55"/>
<rect x="587.70" y="346.94" width="7.30" height="5.83" fill="#fff" stroke="#b8b8b8" stroke-width="0.55"/>
<rect x="587.70" y="352.77" width="7.30" height="5.83" fill="#fff" stroke="#b8b8b8" stroke-width="0.55"/>
<rect x="587.70" y="358.60" width="7.30" height="5.83" fill="#fff" stroke="#b8b8b8" stroke-width="0.55"/>
<rect x="587.70" y="364.44" width="7.30" height="5.83" fill="#fff" stroke="#b8b8b8" stroke-width="0.55"/>
<rect x="587.70" y="370.27" width="7.30" height="5.83" fill="#fff" stroke="#b8b8b8" stroke-width="0.55"/>
<rect x="587.70" y="376.10" width="7.30" height="5.83" fill="#fff" stroke="#b8b8b8" stroke-width="0.55"/>
<rect x="587.70" y="381.94" width="7.30" height="5.83" fill="#fff" stroke="#b8b8b8" stroke-width="0.55"/>
<rect x="587.70" y="387.77" width="7.30" height="5.83" fill="#fff" stroke="#b8b8b8" stroke-width="0.55"/>
<rect x="587.70" y="393.60" width="7.30" height="5.83" fill="#fff" stroke="#b8b8b8" stroke-width="0.55"/>
<rect x="595.00" y="119.45" width="7.40" height="5.83" fill="#fff" stroke="#b8b8b8" stroke-width="0.55"/>
<rect x="595.00" y="125.28" width="7.40" height="5.83" fill="#fff" stroke="#b8b8b8" stroke-width="0.55"/>
<rect x="595.00" y="131.12" width="7.40" height="5.83" fill="#fff" stroke="#b8b8b8" stroke-width="0.55"/>
<rect x="595.00" y="136.95" width="7.40" height="5.83" fill="#fff" stroke="#b8b8b8" stroke-width="0.55"/>
<rect x="595.00" y="142.78" width="7.40" height="5.83" fill="#fff" stroke="#b8b8b8" stroke-width="0.55"/>
<rect x="595.00" y="148.62" width="7.40" height="5.83" fill="#fff" stroke="#b8b8b8" stroke-width="0.55"/>
<rect x="595.00" y="154.45" width="7.40" height="5.83" fill="#fff" stroke="#b8b8b8" stroke-width="0.55"/>
<rect x="595.00" y="160.28" width="7.40" height="5.83" fill="#fff" stroke="#b8b8b8" stroke-width="0.55"/>
<rect x="595.00" y="166.11" width="7.40" height="5.83" fill="#fff" stroke="#b8b8b8" stroke-width="0.55"/>
<rect x="595.00" y="171.95" width="7.40" height="5.83" fill="#fff" stroke="#b8b8b8" stroke-width="0.55"/>
<rect x="595.00" y="177.78" width="7.40" height="5.83" fill="#fff" stroke="#b8b8b8" stroke-width="0.55"/>
<rect x="595.00" y="183.61" width="7.40" height="5.83" fill="#fff" stroke="#b8b8b8" stroke-width="0.55"/>
<rect x="595.00" y="189.45" width="7.40" height="5.83" fill="#fff" stroke="#b8b8b8" stroke-width="0.55"/>
<rect x="595.00" y="195.28" width="7.40" height="5.83" fill="#fff" stroke="#b8b8b8" stroke-width="0.55"/>
<rect x="595.00" y="201.11" width="7.40" height="5.83" fill="#fff" stroke="#b8b8b8" stroke-width="0.55"/>
<rect x="595.00" y="206.94" width="7.40" height="5.83" fill="#fff" stroke="#b8b8b8" stroke-width="0.55"/>
<rect x="595.00" y="212.78" width="7.40" height="5.83" fill="#fff" stroke="#b8b8b8" stroke-width="0.55"/>
<rect x="595.00" y="218.61" width="7.40" height="5.83" fill="#fff" stroke="#b8b8b8" stroke-width="0.55"/>
<rect x="595.00" y="224.44" width="7.40" height="5.83" fill="#fff" stroke="#b8b8b8" stroke-width="0.55"/>
<rect x="595.00" y="230.28" width="7.40" height="5.83" fill="#fff" stroke="#b8b8b8" stroke-width="0.55"/>
<rect x="595.00" y="236.11" width="7.40" height="5.83" fill="#fff" stroke="#b8b8b8" stroke-width="0.55"/>
<rect x="595.00" y="241.94" width="7.40" height="5.83" fill="#fff" stroke="#b8b8b8" stroke-width="0.55"/>
<rect x="595.00" y="247.78" width="7.40" height="5.83" fill="#fff" stroke="#b8b8b8" stroke-width="0.55"/>
<rect x="595.00" y="253.61" width="7.40" height="5.83" fill="#fff" stroke="#b8b8b8" stroke-width="0.55"/>
<rect x="595.00" y="259.44" width="7.40" height="5.83" fill="#fff" stroke="#b8b8b8" stroke-width="0.55"/>
<rect x="595.00" y="265.28" width="7.40" height="5.83" fill="#fff" stroke="#b8b8b8" stroke-width="0.55"/>
<rect x="595.00" y="271.11" width="7.40" height="5.83" fill="#fff" stroke="#b8b8b8" stroke-width="0.55"/>
<rect x="595.00" y="276.94" width="7.40" height="5.83" fill="#fff" stroke="#b8b8b8" stroke-width="0.55"/>
<rect x="595.00" y="282.77" width="7.40" height="5.83" fill="#fff" stroke="#b8b8b8" stroke-width="0.55"/>
<rect x="595.00" y="288.61" width="7.40" height="5.83" fill="#fff" stroke="#b8b8b8" stroke-width="0.55"/>
<rect x="595.00" y="294.44" width="7.40" height="5.83" fill="#fff" stroke="#b8b8b8" stroke-width="0.55"/>
<rect x="595.00" y="300.27" width="7.40" height="5.83" fill="#fff" stroke="#b8b8b8" stroke-width="0.55"/>
<rect x="595.00" y="306.11" width="7.40" height="5.83" fill="#fff" stroke="#b8b8b8" stroke-width="0.55"/>
<rect x="595.00" y="311.94" width="7.40" height="5.83" fill="#fff" stroke="#b8b8b8" stroke-width="0.55"/>
<rect x="595.00" y="317.77" width="7.40" height="5.83" fill="#fff" stroke="#b8b8b8" stroke-width="0.55"/>
<rect x="595.00" y="323.61" width="7.40" height="5.83" fill="#fff" stroke="#b8b8b8" stroke-width="0.55"/>
<rect x="595.00" y="329.44" width="7.40" height="5.83" fill="#fff" stroke="#b8b8b8" stroke-width="0.55"/>
<rect x="595.00" y="335.27" width="7.40" height="5.83" fill="#fff" stroke="#b8b8b8" stroke-width="0.55"/>
<rect x="595.00" y="341.10" width="7.40" height="5.83" fill="#fff" stroke="#b8b8b8" stroke-width="0.55"/>
<rect x="595.00" y="346.94" width="7.40" height="5.83" fill="#fff" stroke="#b8b8b8" stroke-width="0.55"/>
<rect x="595.00" y="352.77" width="7.40" height="5.83" fill="#fff" stroke="#b8b8b8" stroke-width="0.55"/>
<rect x="595.00" y="358.60" width="7.40" height="5.83" fill="#fff" stroke="#b8b8b8" stroke-width="0.55"/>
<rect x="595.00" y="364.44" width="7.40" height="5.83" fill="#fff" stroke="#b8b8b8" stroke-width="0.55"/>
<rect x="595.00" y="370.27" width="7.40" height="5.83" fill="#fff" stroke="#b8b8b8" stroke-width="0.55"/>
<rect x="595.00" y="376.10" width="7.40" height="5.83" fill="#fff" stroke="#b8b8b8" stroke-width="0.55"/>
<rect x="595.00" y="381.94" width="7.40" height="5.83" fill="#fff" stroke="#b8b8b8" stroke-width="0.55"/>
<rect x="595.00" y="387.77" width="7.40" height="5.83" fill="#fff" stroke="#b8b8b8" stroke-width="0.55"/>
<rect x="595.00" y="393.60" width="7.40" height="5.83" fill="#fff" stroke="#b8b8b8" stroke-width="0.55"/>
<rect x="613.00" y="119.45" width="7.20" height="5.83" fill="#e9008b" stroke="rgba(190,190,200,0.55)" stroke-width="0.5"/>
<rect x="613.00" y="125.28" width="7.20" height="5.83" fill="#0b3b8b" stroke="rgba(190,190,200,0.55)" stroke-width="0.5"/>
<rect x="613.00" y="131.12" width="7.20" height="5.83" fill="#0b3b8b" stroke="rgba(190,190,200,0.55)" stroke-width="0.5"/>
<rect x="613.00" y="136.95" width="7.20" height="5.83" fill="#0b3b8b" stroke="rgba(190,190,200,0.55)" stroke-width="0.5"/>
<rect x="613.00" y="142.78" width="7.20" height="5.83" fill="#9200e2" stroke="rgba(190,190,200,0.55)" stroke-width="0.5"/>
<rect x="613.00" y="148.62" width="7.20" height="5.83" fill="#9200e2" stroke="rgba(190,190,200,0.55)" stroke-width="0.5"/>
<rect x="613.00" y="154.45" width="7.20" height="5.83" fill="#14a0fa" stroke="rgba(190,190,200,0.55)" stroke-width="0.5"/>
<rect x="613.00" y="160.28" width="7.20" height="5.83" fill="#14a0fa" stroke="rgba(190,190,200,0.55)" stroke-width="0.5"/>
<rect x="613.00" y="166.11" width="7.20" height="5.83" fill="#14a0fa" stroke="rgba(190,190,200,0.55)" stroke-width="0.5"/>
<rect x="613.00" y="171.95" width="7.20" height="5.83" fill="#14a0fa" stroke="rgba(190,190,200,0.55)" stroke-width="0.5"/>
<rect x="613.00" y="177.78" width="7.20" height="5.83" fill="#14a0fa" stroke="rgba(190,190,200,0.55)" stroke-width="0.5"/>
<rect x="613.00" y="183.61" width="7.20" height="5.83" fill="#14a0fa" stroke="rgba(190,190,200,0.55)" stroke-width="0.5"/>
<rect x="613.00" y="189.45" width="7.20" height="5.83" fill="#14a0fa" stroke="rgba(190,190,200,0.55)" stroke-width="0.5"/>
<rect x="613.00" y="195.28" width="7.20" height="5.83" fill="#14a0fa" stroke="rgba(190,190,200,0.55)" stroke-width="0.5"/>
<rect x="613.00" y="201.11" width="7.20" height="5.83" fill="#ff6b3a" stroke="rgba(190,190,200,0.55)" stroke-width="0.5"/>
<rect x="613.00" y="206.94" width="7.20" height="5.83" fill="#ff6b3a" stroke="rgba(190,190,200,0.55)" stroke-width="0.5"/>
<rect x="613.00" y="212.78" width="7.20" height="5.83" fill="#ff6b3a" stroke="rgba(190,190,200,0.55)" stroke-width="0.5"/>
<rect x="613.00" y="218.61" width="7.20" height="5.83" fill="#ff6b3a" stroke="rgba(190,190,200,0.55)" stroke-width="0.5"/>
<rect x="613.00" y="224.44" width="7.20" height="5.83" fill="#ffd140" stroke="rgba(190,190,200,0.55)" stroke-width="0.5"/>
<rect x="613.00" y="230.28" width="7.20" height="5.83" fill="#ffd140" stroke="rgba(190,190,200,0.55)" stroke-width="0.5"/>
<rect x="613.00" y="236.11" width="7.20" height="5.83" fill="#ffd140" stroke="rgba(190,190,200,0.55)" stroke-width="0.5"/>
<rect x="613.00" y="241.94" width="7.20" height="5.83" fill="#ffd140" stroke="rgba(190,190,200,0.55)" stroke-width="0.5"/>
<rect x="613.00" y="247.78" width="7.20" height="5.83" fill="#ffd140" stroke="rgba(190,190,200,0.55)" stroke-width="0.5"/>
<rect x="613.00" y="253.61" width="7.20" height="5.83" fill="#ffd140" stroke="rgba(190,190,200,0.55)" stroke-width="0.5"/>
<rect x="613.00" y="259.44" width="7.20" height="5.83" fill="#ffd140" stroke="rgba(190,190,200,0.55)" stroke-width="0.5"/>
<rect x="613.00" y="265.28" width="7.20" height="5.83" fill="#e9008b" stroke="rgba(190,190,200,0.55)" stroke-width="0.5"/>
<rect x="613.00" y="271.11" width="7.20" height="5.83" fill="#e9008b" stroke="rgba(190,190,200,0.55)" stroke-width="0.5"/>
<rect x="613.00" y="276.94" width="7.20" height="5.83" fill="#e9008b" stroke="rgba(190,190,200,0.55)" stroke-width="0.5"/>
<rect x="613.00" y="282.77" width="7.20" height="5.83" fill="#e9008b" stroke="rgba(190,190,200,0.55)" stroke-width="0.5"/>
<rect x="613.00" y="288.61" width="7.20" height="5.83" fill="#e9008b" stroke="rgba(190,190,200,0.55)" stroke-width="0.5"/>
<rect x="613.00" y="294.44" width="7.20" height="5.83" fill="#e9008b" stroke="rgba(190,190,200,0.55)" stroke-width="0.5"/>
<rect x="613.00" y="300.27" width="7.20" height="5.83" fill="#e9008b" stroke="rgba(190,190,200,0.55)" stroke-width="0.5"/>
<rect x="613.00" y="306.11" width="7.20" height="5.83" fill="#e9008b" stroke="rgba(190,190,200,0.55)" stroke-width="0.5"/>
<rect x="613.00" y="311.94" width="7.20" height="5.83" fill="#12e012" stroke="rgba(190,190,200,0.55)" stroke-width="0.5"/>
<rect x="613.00" y="317.77" width="7.20" height="5.83" fill="#12e012" stroke="rgba(190,190,200,0.55)" stroke-width="0.5"/>
<rect x="613.00" y="323.61" width="7.20" height="5.83" fill="#12e012" stroke="rgba(190,190,200,0.55)" stroke-width="0.5"/>
<rect x="613.00" y="329.44" width="7.20" height="5.83" fill="#118111" stroke="rgba(190,190,200,0.55)" stroke-width="0.5"/>
<rect x="613.00" y="335.27" width="7.20" height="5.83" fill="#118111" stroke="rgba(190,190,200,0.55)" stroke-width="0.5"/>
<rect x="613.00" y="341.10" width="7.20" height="5.83" fill="#118111" stroke="rgba(190,190,200,0.55)" stroke-width="0.5"/>
<rect x="613.00" y="346.94" width="7.20" height="5.83" fill="#118111" stroke="rgba(190,190,200,0.55)" stroke-width="0.5"/>
<rect x="613.00" y="352.77" width="7.20" height="5.83" fill="#118111" stroke="rgba(190,190,200,0.55)" stroke-width="0.5"/>
<rect x="613.00" y="358.60" width="7.20" height="5.83" fill="#118111" stroke="rgba(190,190,200,0.55)" stroke-width="0.5"/>
<rect x="613.00" y="364.44" width="7.20" height="5.83" fill="#118111" stroke="rgba(190,190,200,0.55)" stroke-width="0.5"/>
<rect x="613.00" y="370.27" width="7.20" height="5.83" fill="#118111" stroke="rgba(190,190,200,0.55)" stroke-width="0.5"/>
<rect x="613.00" y="376.10" width="7.20" height="5.83" fill="#f2103e" stroke="rgba(190,190,200,0.55)" stroke-width="0.5"/>
<rect x="613.00" y="381.94" width="7.20" height="5.83" fill="#f2103e" stroke="rgba(190,190,200,0.55)" stroke-width="0.5"/>
<rect x="613.00" y="387.77" width="7.20" height="5.83" fill="#f2103e" stroke="rgba(190,190,200,0.55)" stroke-width="0.5"/>
<rect x="613.00" y="393.60" width="7.20" height="5.83" fill="#f2103e" stroke="rgba(190,190,200,0.55)" stroke-width="0.5"/>
<rect x="627.20" y="119.45" width="7.10" height="5.83" fill="#00007f" stroke="rgba(190,190,200,0.55)" stroke-width="0.5"/>
<rect x="627.20" y="125.28" width="7.10" height="5.83" fill="#00007f" stroke="rgba(190,190,200,0.55)" stroke-width="0.5"/>
<rect x="627.20" y="131.12" width="7.10" height="5.83" fill="#00007f" stroke="rgba(190,190,200,0.55)" stroke-width="0.5"/>
<rect x="627.20" y="136.95" width="7.10" height="5.83" fill="#00007f" stroke="rgba(190,190,200,0.55)" stroke-width="0.5"/>
<rect x="627.20" y="142.78" width="7.10" height="5.83" fill="#00007f" stroke="rgba(190,190,200,0.55)" stroke-width="0.5"/>
<rect x="627.20" y="148.62" width="7.10" height="5.83" fill="#00007f" stroke="rgba(190,190,200,0.55)" stroke-width="0.5"/>
<rect x="627.20" y="154.45" width="7.10" height="5.83" fill="#00007f" stroke="rgba(190,190,200,0.55)" stroke-width="0.5"/>
<rect x="627.20" y="160.28" width="7.10" height="5.83" fill="#00007f" stroke="rgba(190,190,200,0.55)" stroke-width="0.5"/>
<rect x="627.20" y="166.11" width="7.10" height="5.83" fill="#00007f" stroke="rgba(190,190,200,0.55)" stroke-width="0.5"/>
<rect x="627.20" y="171.95" width="7.10" height="5.83" fill="#00007f" stroke="rgba(190,190,200,0.55)" stroke-width="0.5"/>
<rect x="627.20" y="177.78" width="7.10" height="5.83" fill="#00007f" stroke="rgba(190,190,200,0.55)" stroke-width="0.5"/>
<rect x="627.20" y="183.61" width="7.10" height="5.83" fill="#00007f" stroke="rgba(190,190,200,0.55)" stroke-width="0.5"/>
<rect x="627.20" y="189.45" width="7.10" height="5.83" fill="#00007f" stroke="rgba(190,190,200,0.55)" stroke-width="0.5"/>
<rect x="627.20" y="195.28" width="7.10" height="5.83" fill="#00007f" stroke="rgba(190,190,200,0.55)" stroke-width="0.5"/>
<rect x="627.20" y="201.11" width="7.10" height="5.83" fill="#00007f" stroke="rgba(190,190,200,0.55)" stroke-width="0.5"/>
<rect x="627.20" y="206.94" width="7.10" height="5.83" fill="#00007f" stroke="rgba(190,190,200,0.55)" stroke-width="0.5"/>
<rect x="627.20" y="212.78" width="7.10" height="5.83" fill="#00007f" stroke="rgba(190,190,200,0.55)" stroke-width="0.5"/>
<rect x="627.20" y="218.61" width="7.10" height="5.83" fill="#00007f" stroke="rgba(190,190,200,0.55)" stroke-width="0.5"/>
<rect x="627.20" y="224.44" width="7.10" height="5.83" fill="#00007f" stroke="rgba(190,190,200,0.55)" stroke-width="0.5"/>
<rect x="627.20" y="230.28" width="7.10" height="5.83" fill="#00007f" stroke="rgba(190,190,200,0.55)" stroke-width="0.5"/>
<rect x="627.20" y="236.11" width="7.10" height="5.83" fill="#00007f" stroke="rgba(190,190,200,0.55)" stroke-width="0.5"/>
<rect x="627.20" y="241.94" width="7.10" height="5.83" fill="#00007f" stroke="rgba(190,190,200,0.55)" stroke-width="0.5"/>
<rect x="627.20" y="247.78" width="7.10" height="5.83" fill="#00007f" stroke="rgba(190,190,200,0.55)" stroke-width="0.5"/>
<rect x="627.20" y="253.61" width="7.10" height="5.83" fill="#00007f" stroke="rgba(190,190,200,0.55)" stroke-width="0.5"/>
<rect x="627.20" y="259.44" width="7.10" height="5.83" fill="#00007f" stroke="rgba(190,190,200,0.55)" stroke-width="0.5"/>
<rect x="627.20" y="265.28" width="7.10" height="5.83" fill="#00007f" stroke="rgba(190,190,200,0.55)" stroke-width="0.5"/>
<rect x="627.20" y="271.11" width="7.10" height="5.83" fill="#00007f" stroke="rgba(190,190,200,0.55)" stroke-width="0.5"/>
<rect x="627.20" y="276.94" width="7.10" height="5.83" fill="#00007f" stroke="rgba(190,190,200,0.55)" stroke-width="0.5"/>
<rect x="627.20" y="282.77" width="7.10" height="5.83" fill="#00007f" stroke="rgba(190,190,200,0.55)" stroke-width="0.5"/>
<rect x="627.20" y="288.61" width="7.10" height="5.83" fill="#00007f" stroke="rgba(190,190,200,0.55)" stroke-width="0.5"/>
<rect x="627.20" y="294.44" width="7.10" height="5.83" fill="#00007f" stroke="rgba(190,190,200,0.55)" stroke-width="0.5"/>
<rect x="627.20" y="300.27" width="7.10" height="5.83" fill="#00007f" stroke="rgba(190,190,200,0.55)" stroke-width="0.5"/>
<rect x="627.20" y="306.11" width="7.10" height="5.83" fill="#00007f" stroke="rgba(190,190,200,0.55)" stroke-width="0.5"/>
<rect x="627.20" y="311.94" width="7.10" height="5.83" fill="#00007f" stroke="rgba(190,190,200,0.55)" stroke-width="0.5"/>
<rect x="627.20" y="317.77" width="7.10" height="5.83" fill="#00007f" stroke="rgba(190,190,200,0.55)" stroke-width="0.5"/>
<rect x="627.20" y="323.61" width="7.10" height="5.83" fill="#00007f" stroke="rgba(190,190,200,0.55)" stroke-width="0.5"/>
<rect x="627.20" y="329.44" width="7.10" height="5.83" fill="#00007f" stroke="rgba(190,190,200,0.55)" stroke-width="0.5"/>
<rect x="627.20" y="335.27" width="7.10" height="5.83" fill="#00007f" stroke="rgba(190,190,200,0.55)" stroke-width="0.5"/>
<rect x="627.20" y="341.10" width="7.10" height="5.83" fill="#00007f" stroke="rgba(190,190,200,0.55)" stroke-width="0.5"/>
<rect x="627.20" y="346.94" width="7.10" height="5.83" fill="#00007f" stroke="rgba(190,190,200,0.55)" stroke-width="0.5"/>
<rect x="627.20" y="352.77" width="7.10" height="5.83" fill="#00007f" stroke="rgba(190,190,200,0.55)" stroke-width="0.5"/>
<rect x="627.20" y="358.60" width="7.10" height="5.83" fill="#00007f" stroke="rgba(190,190,200,0.55)" stroke-width="0.5"/>
<rect x="627.20" y="364.44" width="7.10" height="5.83" fill="#00007f" stroke="rgba(190,190,200,0.55)" stroke-width="0.5"/>
<rect x="627.20" y="370.27" width="7.10" height="5.83" fill="#00007f" stroke="rgba(190,190,200,0.55)" stroke-width="0.5"/>
<rect x="627.20" y="376.10" width="7.10" height="5.83" fill="#00007f" stroke="rgba(190,190,200,0.55)" stroke-width="0.5"/>
<rect x="627.20" y="381.94" width="7.10" height="5.83" fill="#00007f" stroke="rgba(190,190,200,0.55)" stroke-width="0.5"/>
<rect x="627.20" y="387.77" width="7.10" height="5.83" fill="#00007f" stroke="rgba(190,190,200,0.55)" stroke-width="0.5"/>
<rect x="627.20" y="393.60" width="7.10" height="5.83" fill="#00007f" stroke="rgba(190,190,200,0.55)" stroke-width="0.5"/>
<rect x="484.30" y="403.00" width="6.70" height="6.03" fill="#3b3636" stroke="rgba(190,190,200,0.55)" stroke-width="0.5"/>
<rect x="484.30" y="409.03" width="6.70" height="6.03" fill="#fff" stroke="#b8b8b8" stroke-width="0.55"/>
<circle cx="487.65" cy="412.04" r="0.75" fill="#222"/>
<rect x="484.30" y="415.06" width="6.70" height="6.03" fill="#fff" stroke="#b8b8b8" stroke-width="0.55"/>
<rect x="484.30" y="421.09" width="6.70" height="6.03" fill="#fff" stroke="#b8b8b8" stroke-width="0.55"/>
<rect x="484.30" y="427.12" width="6.70" height="6.03" fill="#fff" stroke="#b8b8b8" stroke-width="0.55"/>
<rect x="484.30" y="433.15" width="6.70" height="6.03" fill="#fff" stroke="#b8b8b8" stroke-width="0.55"/>
<rect x="484.30" y="439.18" width="6.70" height="6.03" fill="#fff" stroke="#b8b8b8" stroke-width="0.55"/>
<rect x="484.30" y="445.21" width="6.70" height="6.03" fill="#fff" stroke="#b8b8b8" stroke-width="0.55"/>
<rect x="484.30" y="451.24" width="6.70" height="6.03" fill="#fff" stroke="#b8b8b8" stroke-width="0.55"/>
<rect x="484.30" y="457.27" width="6.70" height="6.03" fill="#fff" stroke="#b8b8b8" stroke-width="0.55"/>
<rect x="484.30" y="463.30" width="6.70" height="6.03" fill="#fff" stroke="#b8b8b8" stroke-width="0.55"/>
<rect x="484.30" y="469.33" width="6.70" height="6.03" fill="#fff" stroke="#b8b8b8" stroke-width="0.55"/>
<rect x="484.30" y="475.36" width="6.70" height="6.03" fill="#fff" stroke="#b8b8b8" stroke-width="0.55"/>
<rect x="484.30" y="481.39" width="6.70" height="6.03" fill="#fff" stroke="#b8b8b8" stroke-width="0.55"/>
<rect x="484.30" y="487.42" width="6.70" height="6.03" fill="#fff" stroke="#b8b8b8" stroke-width="0.55"/>
<rect x="484.30" y="493.45" width="6.70" height="6.03" fill="#fff" stroke="#b8b8b8" stroke-width="0.55"/>
<rect x="484.30" y="499.48" width="6.70" height="6.03" fill="#fff" stroke="#b8b8b8" stroke-width="0.55"/>
<rect x="484.30" y="505.51" width="6.70" height="6.03" fill="#fff" stroke="#b8b8b8" stroke-width="0.55"/>
<rect x="504.60" y="403.00" width="7.30" height="6.03" fill="#6567b0" stroke="rgba(190,190,200,0.55)" stroke-width="0.5"/>
<rect x="504.60" y="409.03" width="7.30" height="6.03" fill="#6567b0" stroke="rgba(190,190,200,0.55)" stroke-width="0.5"/>
<rect x="504.60" y="415.06" width="7.30" height="6.03" fill="#6567b0" stroke="rgba(190,190,200,0.55)" stroke-width="0.5"/>
<rect x="504.60" y="421.09" width="7.30" height="6.03" fill="#6567b0" stroke="rgba(190,190,200,0.55)" stroke-width="0.5"/>
<rect x="504.60" y="427.12" width="7.30" height="6.03" fill="#6567b0" stroke="rgba(190,190,200,0.55)" stroke-width="0.5"/>
<rect x="504.60" y="433.15" width="7.30" height="6.03" fill="#6567b0" stroke="rgba(190,190,200,0.55)" stroke-width="0.5"/>
<rect x="504.60" y="439.18" width="7.30" height="6.03" fill="#6567b0" stroke="rgba(190,190,200,0.55)" stroke-width="0.5"/>
<rect x="504.60" y="445.21" width="7.30" height="6.03" fill="#6567b0" stroke="rgba(190,190,200,0.55)" stroke-width="0.5"/>
<rect x="504.60" y="451.24" width="7.30" height="6.03" fill="#6567b0" stroke="rgba(190,190,200,0.55)" stroke-width="0.5"/>
<rect x="504.60" y="457.27" width="7.30" height="6.03" fill="#6567b0" stroke="rgba(190,190,200,0.55)" stroke-width="0.5"/>
<rect x="504.60" y="463.30" width="7.30" height="6.03" fill="#6567b0" stroke="rgba(190,190,200,0.55)" stroke-width="0.5"/>
<rect x="504.60" y="469.33" width="7.30" height="6.03" fill="#6567b0" stroke="rgba(190,190,200,0.55)" stroke-width="0.5"/>
<rect x="504.60" y="475.36" width="7.30" height="6.03" fill="#6567b0" stroke="rgba(190,190,200,0.55)" stroke-width="0.5"/>
<rect x="504.60" y="481.39" width="7.30" height="6.03" fill="#6567b0" stroke="rgba(190,190,200,0.55)" stroke-width="0.5"/>
<rect x="504.60" y="487.42" width="7.30" height="6.03" fill="#6567b0" stroke="rgba(190,190,200,0.55)" stroke-width="0.5"/>
<rect x="504.60" y="493.45" width="7.30" height="6.03" fill="#6567b0" stroke="rgba(190,190,200,0.55)" stroke-width="0.5"/>
<rect x="504.60" y="499.48" width="7.30" height="6.03" fill="#6567b0" stroke="rgba(190,190,200,0.55)" stroke-width="0.5"/>
<rect x="504.60" y="505.51" width="7.30" height="6.03" fill="#6567b0" stroke="rgba(190,190,200,0.55)" stroke-width="0.5"/>
<rect x="517.00" y="403.00" width="7.30" height="6.03" fill="#6567b0" stroke="rgba(190,190,200,0.55)" stroke-width="0.5"/>
<rect x="517.00" y="409.03" width="7.30" height="6.03" fill="#6567b0" stroke="rgba(190,190,200,0.55)" stroke-width="0.5"/>
<rect x="517.00" y="415.06" width="7.30" height="6.03" fill="#6567b0" stroke="rgba(190,190,200,0.55)" stroke-width="0.5"/>
<rect x="517.00" y="421.09" width="7.30" height="6.03" fill="#6567b0" stroke="rgba(190,190,200,0.55)" stroke-width="0.5"/>
<rect x="517.00" y="427.12" width="7.30" height="6.03" fill="#6567b0" stroke="rgba(190,190,200,0.55)" stroke-width="0.5"/>
<rect x="517.00" y="433.15" width="7.30" height="6.03" fill="#6567b0" stroke="rgba(190,190,200,0.55)" stroke-width="0.5"/>
<rect x="517.00" y="439.18" width="7.30" height="6.03" fill="#6567b0" stroke="rgba(190,190,200,0.55)" stroke-width="0.5"/>
<rect x="517.00" y="445.21" width="7.30" height="6.03" fill="#6567b0" stroke="rgba(190,190,200,0.55)" stroke-width="0.5"/>
<rect x="517.00" y="451.24" width="7.30" height="6.03" fill="#6567b0" stroke="rgba(190,190,200,0.55)" stroke-width="0.5"/>
<rect x="517.00" y="457.27" width="7.30" height="6.03" fill="#6567b0" stroke="rgba(190,190,200,0.55)" stroke-width="0.5"/>
<rect x="517.00" y="463.30" width="7.30" height="6.03" fill="#6567b0" stroke="rgba(190,190,200,0.55)" stroke-width="0.5"/>
<circle cx="520.65" cy="466.31" r="0.75" fill="#fff"/>
<rect x="517.00" y="469.33" width="7.30" height="6.03" fill="#6567b0" stroke="rgba(190,190,200,0.55)" stroke-width="0.5"/>
<rect x="517.00" y="475.36" width="7.30" height="6.03" fill="#6567b0" stroke="rgba(190,190,200,0.55)" stroke-width="0.5"/>
<rect x="517.00" y="481.39" width="7.30" height="6.03" fill="#6567b0" stroke="rgba(190,190,200,0.55)" stroke-width="0.5"/>
<rect x="517.00" y="487.42" width="7.30" height="6.03" fill="#6567b0" stroke="rgba(190,190,200,0.55)" stroke-width="0.5"/>
<rect x="517.00" y="493.45" width="7.30" height="6.03" fill="#6567b0" stroke="rgba(190,190,200,0.55)" stroke-width="0.5"/>
<rect x="517.00" y="499.48" width="7.30" height="6.03" fill="#6567b0" stroke="rgba(190,190,200,0.55)" stroke-width="0.5"/>
<rect x="517.00" y="505.51" width="7.30" height="6.03" fill="#6567b0" stroke="rgba(190,190,200,0.55)" stroke-width="0.5"/>
<rect x="539.60" y="403.00" width="7.20" height="6.03" fill="#fff" stroke="#b8b8b8" stroke-width="0.55"/>
<rect x="539.60" y="409.03" width="7.20" height="6.03" fill="#1b1b86" stroke="rgba(190,190,200,0.55)" stroke-width="0.5"/>
<rect x="539.60" y="415.06" width="7.20" height="6.03" fill="#1b1b86" stroke="rgba(190,190,200,0.55)" stroke-width="0.5"/>
<circle cx="543.20" cy="418.07" r="0.75" fill="#fff"/>
<rect x="539.60" y="421.09" width="7.20" height="6.03" fill="#1b1b86" stroke="rgba(190,190,200,0.55)" stroke-width="0.5"/>
<circle cx="543.20" cy="424.10" r="0.75" fill="#fff"/>
<rect x="539.60" y="427.12" width="7.20" height="6.03" fill="#1b1b86" stroke="rgba(190,190,200,0.55)" stroke-width="0.5"/>
<rect x="539.60" y="433.15" width="7.20" height="6.03" fill="#1b1b86" stroke="rgba(190,190,200,0.55)" stroke-width="0.5"/>
<rect x="539.60" y="439.18" width="7.20" height="6.03" fill="#1b1b86" stroke="rgba(190,190,200,0.55)" stroke-width="0.5"/>
<rect x="539.60" y="445.21" width="7.20" height="6.03" fill="#fff" stroke="#b8b8b8" stroke-width="0.55"/>
<rect x="539.60" y="451.24" width="7.20" height="6.03" fill="#fff" stroke="#b8b8b8" stroke-width="0.55"/>
<rect x="539.60" y="457.27" width="7.20" height="6.03" fill="#fff" stroke="#b8b8b8" stroke-width="0.55"/>
<rect x="539.60" y="463.30" width="7.20" height="6.03" fill="#fff" stroke="#b8b8b8" stroke-width="0.55"/>
<rect x="539.60" y="469.33" width="7.20" height="6.03" fill="#fff" stroke="#b8b8b8" stroke-width="0.55"/>
<rect x="539.60" y="475.36" width="7.20" height="6.03" fill="#fff" stroke="#b8b8b8" stroke-width="0.55"/>
<rect x="539.60" y="481.39" width="7.20" height="6.03" fill="#fff" stroke="#b8b8b8" stroke-width="0.55"/>
<rect x="539.60" y="487.42" width="7.20" height="6.03" fill="#fff" stroke="#b8b8b8" stroke-width="0.55"/>
<rect x="539.60" y="493.45" width="7.20" height="6.03" fill="#fff" stroke="#b8b8b8" stroke-width="0.55"/>
<rect x="539.60" y="499.48" width="7.20" height="6.03" fill="#fff" stroke="#b8b8b8" stroke-width="0.55"/>
<rect x="539.60" y="505.51" width="7.20" height="6.03" fill="#1b1b86" stroke="rgba(190,190,200,0.55)" stroke-width="0.5"/>
<rect x="551.00" y="403.00" width="7.20" height="6.03" fill="#fff" stroke="#b8b8b8" stroke-width="0.55"/>
<rect x="551.00" y="409.03" width="7.20" height="6.03" fill="#1b1b86" stroke="rgba(190,190,200,0.55)" stroke-width="0.5"/>
<rect x="551.00" y="415.06" width="7.20" height="6.03" fill="#1b1b86" stroke="rgba(190,190,200,0.55)" stroke-width="0.5"/>
<circle cx="554.60" cy="418.07" r="0.75" fill="#fff"/>
<rect x="551.00" y="421.09" width="7.20" height="6.03" fill="#1b1b86" stroke="rgba(190,190,200,0.55)" stroke-width="0.5"/>
<circle cx="554.60" cy="424.10" r="0.75" fill="#fff"/>
<rect x="551.00" y="427.12" width="7.20" height="6.03" fill="#1b1b86" stroke="rgba(190,190,200,0.55)" stroke-width="0.5"/>
<rect x="551.00" y="433.15" width="7.20" height="6.03" fill="#1b1b86" stroke="rgba(190,190,200,0.55)" stroke-width="0.5"/>
<rect x="551.00" y="439.18" width="7.20" height="6.03" fill="#1b1b86" stroke="rgba(190,190,200,0.55)" stroke-width="0.5"/>
<rect x="551.00" y="445.21" width="7.20" height="6.03" fill="#fff" stroke="#b8b8b8" stroke-width="0.55"/>
<rect x="551.00" y="451.24" width="7.20" height="6.03" fill="#fff" stroke="#b8b8b8" stroke-width="0.55"/>
<rect x="551.00" y="457.27" width="7.20" height="6.03" fill="#fff" stroke="#b8b8b8" stroke-width="0.55"/>
<rect x="551.00" y="463.30" width="7.20" height="6.03" fill="#fff" stroke="#b8b8b8" stroke-width="0.55"/>
<rect x="551.00" y="469.33" width="7.20" height="6.03" fill="#fff" stroke="#b8b8b8" stroke-width="0.55"/>
<rect x="551.00" y="475.36" width="7.20" height="6.03" fill="#fff" stroke="#b8b8b8" stroke-width="0.55"/>
<rect x="551.00" y="481.39" width="7.20" height="6.03" fill="#fff" stroke="#b8b8b8" stroke-width="0.55"/>
<rect x="551.00" y="487.42" width="7.20" height="6.03" fill="#fff" stroke="#b8b8b8" stroke-width="0.55"/>
<rect x="551.00" y="493.45" width="7.20" height="6.03" fill="#fff" stroke="#b8b8b8" stroke-width="0.55"/>
<rect x="551.00" y="499.48" width="7.20" height="6.03" fill="#fff" stroke="#b8b8b8" stroke-width="0.55"/>
<rect x="551.00" y="505.51" width="7.20" height="6.03" fill="#1b1b86" stroke="rgba(190,190,200,0.55)" stroke-width="0.5"/>
<rect x="573.20" y="403.00" width="7.30" height="6.03" fill="#fff" stroke="#b8b8b8" stroke-width="0.55"/>
<line x1="573.20" y1="409.03" x2="580.50" y2="403.00" stroke="#777" stroke-width="0.5"/>
<rect x="573.20" y="409.03" width="7.30" height="6.03" fill="#fff" stroke="#b8b8b8" stroke-width="0.55"/>
<line x1="573.20" y1="415.06" x2="580.50" y2="409.03" stroke="#777" stroke-width="0.5"/>
<rect x="573.20" y="415.06" width="7.30" height="6.03" fill="#a0628a" stroke="rgba(190,190,200,0.55)" stroke-width="0.5"/>
<rect x="573.20" y="421.09" width="7.30" height="6.03" fill="#fff" stroke="#b8b8b8" stroke-width="0.55"/>
<rect x="573.20" y="427.12" width="7.30" height="6.03" fill="#fff" stroke="#b8b8b8" stroke-width="0.55"/>
<rect x="573.20" y="433.15" width="7.30" height="6.03" fill="#fff" stroke="#b8b8b8" stroke-width="0.55"/>
<rect x="573.20" y="439.18" width="7.30" height="6.03" fill="#fff" stroke="#b8b8b8" stroke-width="0.55"/>
<rect x="573.20" y="445.21" width="7.30" height="6.03" fill="#fff" stroke="#b8b8b8" stroke-width="0.55"/>
<rect x="573.20" y="451.24" width="7.30" height="6.03" fill="#fff" stroke="#b8b8b8" stroke-width="0.55"/>
<rect x="573.20" y="457.27" width="7.30" height="6.03" fill="#fff" stroke="#b8b8b8" stroke-width="0.55"/>
<rect x="573.20" y="463.30" width="7.30" height="6.03" fill="#fff" stroke="#b8b8b8" stroke-width="0.55"/>
<rect x="573.20" y="469.33" width="7.30" height="6.03" fill="#fff" stroke="#b8b8b8" stroke-width="0.55"/>
<rect x="573.20" y="475.36" width="7.30" height="6.03" fill="#fff" stroke="#b8b8b8" stroke-width="0.55"/>
<rect x="573.20" y="481.39" width="7.30" height="6.03" fill="#fff" stroke="#b8b8b8" stroke-width="0.55"/>
<rect x="573.20" y="487.42" width="7.30" height="6.03" fill="#fff" stroke="#b8b8b8" stroke-width="0.55"/>
<rect x="573.20" y="493.45" width="7.30" height="6.03" fill="#fff" stroke="#b8b8b8" stroke-width="0.55"/>
<rect x="573.20" y="499.48" width="7.30" height="6.03" fill="#fff" stroke="#b8b8b8" stroke-width="0.55"/>
<rect x="573.20" y="505.51" width="7.30" height="6.03" fill="#fff" stroke="#b8b8b8" stroke-width="0.55"/>
<rect x="580.50" y="403.00" width="7.20" height="6.03" fill="#fff" stroke="#b8b8b8" stroke-width="0.55"/>
<rect x="580.50" y="409.03" width="7.20" height="6.03" fill="#fff" stroke="#b8b8b8" stroke-width="0.55"/>
<rect x="580.50" y="415.06" width="7.20" height="6.03" fill="#5e1a4a" stroke="rgba(190,190,200,0.55)" stroke-width="0.5"/>
<circle cx="584.10" cy="418.07" r="0.75" fill="#fff"/>
<rect x="580.50" y="421.09" width="7.20" height="6.03" fill="#fff" stroke="#b8b8b8" stroke-width="0.55"/>
<rect x="580.50" y="427.12" width="7.20" height="6.03" fill="#fff" stroke="#b8b8b8" stroke-width="0.55"/>
<rect x="580.50" y="433.15" width="7.20" height="6.03" fill="#fff" stroke="#b8b8b8" stroke-width="0.55"/>
<rect x="580.50" y="439.18" width="7.20" height="6.03" fill="#fff" stroke="#b8b8b8" stroke-width="0.55"/>
<rect x="580.50" y="445.21" width="7.20" height="6.03" fill="#fff" stroke="#b8b8b8" stroke-width="0.55"/>
<rect x="580.50" y="451.24" width="7.20" height="6.03" fill="#fff" stroke="#b8b8b8" stroke-width="0.55"/>
<rect x="580.50" y="457.27" width="7.20" height="6.03" fill="#fff" stroke="#b8b8b8" stroke-width="0.55"/>
<rect x="580.50" y="463.30" width="7.20" height="6.03" fill="#fff" stroke="#b8b8b8" stroke-width="0.55"/>
<rect x="580.50" y="469.33" width="7.20" height="6.03" fill="#fff" stroke="#b8b8b8" stroke-width="0.55"/>
<rect x="580.50" y="475.36" width="7.20" height="6.03" fill="#fff" stroke="#b8b8b8" stroke-width="0.55"/>
<rect x="580.50" y="481.39" width="7.20" height="6.03" fill="#fff" stroke="#b8b8b8" stroke-width="0.55"/>
<rect x="580.50" y="487.42" width="7.20" height="6.03" fill="#fff" stroke="#b8b8b8" stroke-width="0.55"/>
<rect x="580.50" y="493.45" width="7.20" height="6.03" fill="#fff" stroke="#b8b8b8" stroke-width="0.55"/>
<rect x="580.50" y="499.48" width="7.20" height="6.03" fill="#fff" stroke="#b8b8b8" stroke-width="0.55"/>
<rect x="580.50" y="505.51" width="7.20" height="6.03" fill="#fff" stroke="#b8b8b8" stroke-width="0.55"/>
<rect x="587.70" y="403.00" width="7.30" height="6.03" fill="#fff" stroke="#b8b8b8" stroke-width="0.55"/>
<rect x="587.70" y="409.03" width="7.30" height="6.03" fill="#fff" stroke="#b8b8b8" stroke-width="0.55"/>
<rect x="587.70" y="415.06" width="7.30" height="6.03" fill="#5e1a4a" stroke="rgba(190,190,200,0.55)" stroke-width="0.5"/>
<circle cx="591.35" cy="418.07" r="0.75" fill="#fff"/>
<rect x="587.70" y="421.09" width="7.30" height="6.03" fill="#fff" stroke="#b8b8b8" stroke-width="0.55"/>
<rect x="587.70" y="427.12" width="7.30" height="6.03" fill="#fff" stroke="#b8b8b8" stroke-width="0.55"/>
<rect x="587.70" y="433.15" width="7.30" height="6.03" fill="#fff" stroke="#b8b8b8" stroke-width="0.55"/>
<rect x="587.70" y="439.18" width="7.30" height="6.03" fill="#fff" stroke="#b8b8b8" stroke-width="0.55"/>
<rect x="587.70" y="445.21" width="7.30" height="6.03" fill="#fff" stroke="#b8b8b8" stroke-width="0.55"/>
<rect x="587.70" y="451.24" width="7.30" height="6.03" fill="#fff" stroke="#b8b8b8" stroke-width="0.55"/>
<rect x="587.70" y="457.27" width="7.30" height="6.03" fill="#fff" stroke="#b8b8b8" stroke-width="0.55"/>
<rect x="587.70" y="463.30" width="7.30" height="6.03" fill="#fff" stroke="#b8b8b8" stroke-width="0.55"/>
<rect x="587.70" y="469.33" width="7.30" height="6.03" fill="#fff" stroke="#b8b8b8" stroke-width="0.55"/>
<rect x="587.70" y="475.36" width="7.30" height="6.03" fill="#fff" stroke="#b8b8b8" stroke-width="0.55"/>
<rect x="587.70" y="481.39" width="7.30" height="6.03" fill="#fff" stroke="#b8b8b8" stroke-width="0.55"/>
<rect x="587.70" y="487.42" width="7.30" height="6.03" fill="#fff" stroke="#b8b8b8" stroke-width="0.55"/>
<rect x="587.70" y="493.45" width="7.30" height="6.03" fill="#fff" stroke="#b8b8b8" stroke-width="0.55"/>
<rect x="587.70" y="499.48" width="7.30" height="6.03" fill="#fff" stroke="#b8b8b8" stroke-width="0.55"/>
<rect x="587.70" y="505.51" width="7.30" height="6.03" fill="#fff" stroke="#b8b8b8" stroke-width="0.55"/>
<rect x="595.00" y="403.00" width="7.40" height="6.03" fill="#fff" stroke="#b8b8b8" stroke-width="0.55"/>
<rect x="595.00" y="409.03" width="7.40" height="6.03" fill="#fff" stroke="#b8b8b8" stroke-width="0.55"/>
<rect x="595.00" y="415.06" width="7.40" height="6.03" fill="#5e1a4a" stroke="rgba(190,190,200,0.55)" stroke-width="0.5"/>
<circle cx="598.70" cy="418.07" r="0.75" fill="#fff"/>
<rect x="595.00" y="421.09" width="7.40" height="6.03" fill="#fff" stroke="#b8b8b8" stroke-width="0.55"/>
<rect x="595.00" y="427.12" width="7.40" height="6.03" fill="#fff" stroke="#b8b8b8" stroke-width="0.55"/>
<rect x="595.00" y="433.15" width="7.40" height="6.03" fill="#fff" stroke="#b8b8b8" stroke-width="0.55"/>
<rect x="595.00" y="439.18" width="7.40" height="6.03" fill="#fff" stroke="#b8b8b8" stroke-width="0.55"/>
<rect x="595.00" y="445.21" width="7.40" height="6.03" fill="#fff" stroke="#b8b8b8" stroke-width="0.55"/>
<rect x="595.00" y="451.24" width="7.40" height="6.03" fill="#fff" stroke="#b8b8b8" stroke-width="0.55"/>
<rect x="595.00" y="457.27" width="7.40" height="6.03" fill="#fff" stroke="#b8b8b8" stroke-width="0.55"/>
<rect x="595.00" y="463.30" width="7.40" height="6.03" fill="#fff" stroke="#b8b8b8" stroke-width="0.55"/>
<rect x="595.00" y="469.33" width="7.40" height="6.03" fill="#fff" stroke="#b8b8b8" stroke-width="0.55"/>
<rect x="595.00" y="475.36" width="7.40" height="6.03" fill="#fff" stroke="#b8b8b8" stroke-width="0.55"/>
<rect x="595.00" y="481.39" width="7.40" height="6.03" fill="#fff" stroke="#b8b8b8" stroke-width="0.55"/>
<rect x="595.00" y="487.42" width="7.40" height="6.03" fill="#fff" stroke="#b8b8b8" stroke-width="0.55"/>
<rect x="595.00" y="493.45" width="7.40" height="6.03" fill="#fff" stroke="#b8b8b8" stroke-width="0.55"/>
<rect x="595.00" y="499.48" width="7.40" height="6.03" fill="#fff" stroke="#b8b8b8" stroke-width="0.55"/>
<rect x="595.00" y="505.51" width="7.40" height="6.03" fill="#fff" stroke="#b8b8b8" stroke-width="0.55"/>
<rect x="619.60" y="403.00" width="7.40" height="6.03" fill="#d3ead9" stroke="rgba(190,190,200,0.55)" stroke-width="0.5"/>
<rect x="619.60" y="409.03" width="7.40" height="6.03" fill="#3f8a77" stroke="rgba(190,190,200,0.55)" stroke-width="0.5"/>
<rect x="619.60" y="415.06" width="7.40" height="6.03" fill="#3f8a77" stroke="rgba(190,190,200,0.55)" stroke-width="0.5"/>
<rect x="619.60" y="421.09" width="7.40" height="6.03" fill="#3f8a77" stroke="rgba(190,190,200,0.55)" stroke-width="0.5"/>
<rect x="619.60" y="427.12" width="7.40" height="6.03" fill="#3f8a77" stroke="rgba(190,190,200,0.55)" stroke-width="0.5"/>
<rect x="619.60" y="433.15" width="7.40" height="6.03" fill="#3f8a77" stroke="rgba(190,190,200,0.55)" stroke-width="0.5"/>
<rect x="619.60" y="439.18" width="7.40" height="6.03" fill="#3f8a77" stroke="rgba(190,190,200,0.55)" stroke-width="0.5"/>
<rect x="619.60" y="445.21" width="7.40" height="6.03" fill="#3f8a77" stroke="rgba(190,190,200,0.55)" stroke-width="0.5"/>
<rect x="619.60" y="451.24" width="7.40" height="6.03" fill="#d3ead9" stroke="rgba(190,190,200,0.55)" stroke-width="0.5"/>
<rect x="619.60" y="457.27" width="7.40" height="6.03" fill="#3f8a77" stroke="rgba(190,190,200,0.55)" stroke-width="0.5"/>
<rect x="619.60" y="463.30" width="7.40" height="6.03" fill="#3f8a77" stroke="rgba(190,190,200,0.55)" stroke-width="0.5"/>
<rect x="619.60" y="469.33" width="7.40" height="6.03" fill="#d3ead9" stroke="rgba(190,190,200,0.55)" stroke-width="0.5"/>
<rect x="619.60" y="475.36" width="7.40" height="6.03" fill="#d3ead9" stroke="rgba(190,190,200,0.55)" stroke-width="0.5"/>
<rect x="619.60" y="481.39" width="7.40" height="6.03" fill="#d3ead9" stroke="rgba(190,190,200,0.55)" stroke-width="0.5"/>
<rect x="619.60" y="487.42" width="7.40" height="6.03" fill="#d3ead9" stroke="rgba(190,190,200,0.55)" stroke-width="0.5"/>
<rect x="619.60" y="493.45" width="7.40" height="6.03" fill="#3f8a77" stroke="rgba(190,190,200,0.55)" stroke-width="0.5"/>
<rect x="619.60" y="499.48" width="7.40" height="6.03" fill="#d3ead9" stroke="rgba(190,190,200,0.55)" stroke-width="0.5"/>
<rect x="619.60" y="505.51" width="7.40" height="6.03" fill="#3f8a77" stroke="rgba(190,190,200,0.55)" stroke-width="0.5"/>
<text x="481.6" y="407.60" font-size="5.5" text-anchor="end" fill="#0a0a0a" font-style="italic">H. pylori ‘primate’</text>
<text x="481.6" y="413.63" font-size="5.5" text-anchor="end" fill="#0a0a0a"><tspan font-style="italic">H. acinonychis</tspan> (big cat)</text>
<text x="481.6" y="419.66" font-size="5.5" text-anchor="end" fill="#0a0a0a"><tspan font-style="italic">H. cetorum</tspan> (dolphin and whale)</text>
<text x="481.6" y="425.69" font-size="5.5" text-anchor="end" fill="#0a0a0a"><tspan font-style="italic">H. salomonis</tspan> (dog)</text>
<text x="481.6" y="431.72" font-size="5.5" text-anchor="end" fill="#0a0a0a"><tspan font-style="italic">H. cynogastricus</tspan> (dog)</text>
<text x="481.6" y="437.75" font-size="5.5" text-anchor="end" fill="#0a0a0a"><tspan font-style="italic">H. bacculiformis</tspan> (cat)</text>
<text x="481.6" y="443.78" font-size="5.5" text-anchor="end" fill="#0a0a0a"><tspan font-style="italic">H. felis</tspan> (cat and dog)</text>
<text x="481.6" y="449.81" font-size="5.5" text-anchor="end" fill="#0a0a0a"><tspan font-style="italic">H. bizzozeronii</tspan> (cat and dog)</text>
<text x="481.6" y="455.84" font-size="5.5" text-anchor="end" fill="#0a0a0a"><tspan font-style="italic">H. suis</tspan> (pig)</text>
<text x="481.6" y="461.87" font-size="5.5" text-anchor="end" fill="#0a0a0a"><tspan font-style="italic">H. heilmannii</tspan> (cat and dog)</text>
<text x="481.6" y="467.90" font-size="5.5" text-anchor="end" fill="#0a0a0a"><tspan font-style="italic">H. ailurogastricus</tspan> (cat)</text>
<text x="481.6" y="473.93" font-size="5.5" text-anchor="end" fill="#0a0a0a"><tspan font-style="italic">H. aurati</tspan> (hamster)</text>
<text x="481.6" y="479.96" font-size="5.5" text-anchor="end" fill="#0a0a0a"><tspan font-style="italic">H. vulpis</tspan> (fox)</text>
<text x="481.6" y="485.99" font-size="5.5" text-anchor="end" fill="#0a0a0a"><tspan font-style="italic">H. mehlei</tspan> (fox)</text>
<text x="481.6" y="492.02" font-size="5.5" text-anchor="end" fill="#0a0a0a"><tspan font-style="italic">H. labacensis</tspan> (fox)</text>
<text x="481.6" y="498.05" font-size="5.5" text-anchor="end" fill="#0a0a0a"><tspan font-style="italic">Helicobacter</tspan> sp. (sea lion)</text>
<text x="481.6" y="504.08" font-size="5.5" text-anchor="end" fill="#0a0a0a"><tspan font-style="italic">H. anseris</tspan> (geese)</text>
<text x="481.6" y="510.11" font-size="5.5" text-anchor="end" fill="#0a0a0a"><tspan font-style="italic">H. mustelae</tspan> (ferret)</text>
<line x1="382" y1="403.8" x2="382" y2="508.4" stroke="#999" stroke-width="1.3" />
<line x1="399.4" y1="422" x2="399.4" y2="466.8" stroke="#222" stroke-width="0.9" />
<text x="0" y="0" font-size="7.2" fill="#0a0a0a" text-anchor="middle" transform="translate(394.9,441.1) rotate(-90)">NHPH</text>
<text x="376.2" y="439.8" font-size="8.1" text-anchor="end" font-style="normal" font-weight="normal" fill="#0a0a0a" >“Animal”</text>
<text x="376.2" y="449.5" font-size="8.1" text-anchor="end" font-style="italic" font-weight="normal" fill="#0a0a0a" >Helicobacter</text>
<text x="376.2" y="459.2" font-size="8.1" text-anchor="end" font-style="normal" font-weight="normal" fill="#0a0a0a" >(gastric)</text>
<text x="376.2" y="469" font-size="8.1" text-anchor="end" font-style="normal" font-weight="normal" fill="#0a0a0a" >species</text>
<line x1="631.5" y1="404" x2="631.5" y2="509.7" stroke="#222" stroke-width="0.9" />
<text x="637" y="446.9" font-size="8.4" text-anchor="start" font-style="normal" font-weight="normal" fill="#0a0a0a" >Common</text>
<text x="637" y="456.3" font-size="8.4" text-anchor="start" font-style="normal" font-weight="normal" fill="#0a0a0a" >host diet</text>
<rect x="640.30" y="492.50" width="7.50" height="5.30" fill="#3f8a77" />
<text x="650" y="497.6" font-size="8.1" text-anchor="start" font-style="normal" font-weight="normal" fill="#0a0a0a" >Carnivore</text>
<rect x="640.30" y="500.50" width="7.50" height="5.30" fill="#d3ead9" />
<text x="650" y="505.6" font-size="8.1" text-anchor="start" font-style="normal" font-weight="normal" fill="#0a0a0a" >Omnivore</text>
<text x="-0.5" y="530.4" font-size="12" text-anchor="start" font-style="normal" font-weight="bold" fill="#000" >c</text>
<path d="M43.90 540.30H57.40V535.90Q59.48 540.70 60.00 543.90Q59.48 547.10 57.40 551.90V547.50H43.90Z" fill="#fff" stroke="#222" stroke-width="0.7" stroke-linejoin="miter"/>
<path d="M67.00 540.30H89.50V535.90Q91.58 540.70 92.10 543.90Q91.58 547.10 89.50 551.90V547.50H67.00Z" fill="#6567b0" stroke="#222" stroke-width="0.7" stroke-linejoin="miter"/>
<path d="M94.30 540.30H138.70V535.90L143.70 543.90L138.70 551.90V547.50H94.30Z" fill="#6567b0" stroke="#222" stroke-width="0.7" stroke-linejoin="miter"/>
<path d="M143.90 540.30H161.50V535.90Q163.58 540.70 164.10 543.90Q163.58 547.10 161.50 551.90V547.50H143.90Z" fill="#6567b0" stroke="#222" stroke-width="0.7" stroke-linejoin="miter"/>
<path d="M166.60 540.30H184.30V535.90Q186.38 540.70 186.90 543.90Q186.38 547.10 184.30 551.90V547.50H166.60Z" fill="#6567b0" stroke="#222" stroke-width="0.7" stroke-linejoin="miter"/>
<path d="M187.90 540.30H210.60V535.90Q212.68 540.70 213.20 543.90Q212.68 547.10 210.60 551.90V547.50H187.90Z" fill="#6567b0" stroke="#222" stroke-width="0.7" stroke-linejoin="miter"/>
<path d="M214.50 540.30H233.60V535.90Q235.68 540.70 236.20 543.90Q235.68 547.10 233.60 551.90V547.50H214.50Z" fill="#6567b0" stroke="#222" stroke-width="0.7" stroke-linejoin="miter"/>
<path d="M238.50 540.30H257.20V535.90Q259.28 540.70 259.80 543.90Q259.28 547.10 257.20 551.90V547.50H238.50Z" fill="#6567b0" stroke="#222" stroke-width="0.7" stroke-linejoin="miter"/>
<path d="M290.70 540.30H262.89V535.90Q260.42 540.70 259.80 543.90Q260.42 547.10 262.89 551.90V547.50H290.70Z" fill="#fff" stroke="#222" stroke-width="0.7" stroke-linejoin="miter"/>
<text x="29.8" y="533.7" font-size="8.1" text-anchor="start" font-style="normal" font-weight="normal" fill="#0a0a0a" >tRNA-Val</text>
<text x="69.5" y="533.7" font-size="8.1" text-anchor="start" font-style="italic" font-weight="normal" fill="#0a0a0a" >ureA1</text>
<text x="106.7" y="533.7" font-size="8.1" text-anchor="start" font-style="italic" font-weight="normal" fill="#0a0a0a" >ureB1</text>
<text x="145.5" y="533.7" font-size="8.1" text-anchor="start" font-style="italic" font-weight="normal" fill="#0a0a0a" >ureI</text>
<text x="166.8" y="533.7" font-size="8.1" text-anchor="start" font-style="italic" font-weight="normal" fill="#0a0a0a" >ureE</text>
<text x="193.4" y="533.7" font-size="8.1" text-anchor="start" font-style="italic" font-weight="normal" fill="#0a0a0a" >ureF</text>
<text x="215.2" y="533.7" font-size="8.1" text-anchor="start" font-style="italic" font-weight="normal" fill="#0a0a0a" >ureG</text>
<text x="240" y="533.7" font-size="8.1" text-anchor="start" font-style="italic" font-weight="normal" fill="#0a0a0a" >ureH</text>
<text x="260.9" y="533.7" font-size="8.1" text-anchor="start" font-style="normal" font-weight="normal" fill="#0a0a0a" >HP0066</text>
<path d="M64 554.7V558.5H148.2V554.7" stroke="#333" stroke-width="0.8" fill="none"/>
<text x="76.5" y="569.8" font-size="8.2" fill="#0a0a0a">Ni<tspan font-size="6" dy="-3.2">2+</tspan><tspan dy="3.2"> cofactored</tspan></text>
<path d="M58.60 595.30H45.50V590.90Q43.42 595.70 42.90 598.90Q43.42 602.10 45.50 606.90V602.50H58.60Z" fill="#fff" stroke="#222" stroke-width="0.7" stroke-linejoin="miter"/>
<path d="M68.10 595.30H90.20V590.90Q92.28 595.70 92.80 598.90Q92.28 602.10 90.20 606.90V602.50H68.10Z" fill="#1b1b86" stroke="#222" stroke-width="0.7" stroke-linejoin="miter"/>
<path d="M95.80 595.30H139.50V592.15L145.20 598.90L139.50 605.65V602.50H95.80Z" fill="#1b1b86" stroke="#222" stroke-width="0.7" stroke-linejoin="miter"/>
<path d="M163.60 595.30H150.40V590.90Q148.32 595.70 147.80 598.90Q148.32 602.10 150.40 606.90V602.50H163.60Z" fill="#fff" stroke="#222" stroke-width="0.7" stroke-linejoin="miter"/>
<text x="36.9" y="589.4" font-size="8.1" text-anchor="start" font-style="normal" font-weight="normal" fill="#0a0a0a" >HP1288</text>
<text x="69.6" y="589.4" font-size="8.1" text-anchor="start" font-style="italic" font-weight="normal" fill="#0a0a0a" >ureA2</text>
<text x="106.4" y="589.4" font-size="8.1" text-anchor="start" font-style="italic" font-weight="normal" fill="#0a0a0a" >ureB2</text>
<path d="M64.7 607.7V611.4H149V607.7" stroke="#333" stroke-width="0.8" fill="none"/>
<text x="79" y="623.5" font-size="8.2" fill="#0a0a0a">Fe<tspan font-size="6" dy="-3.2">2+</tspan><tspan dy="3.2"> cofactored</tspan></text>
<text x="84" y="632.4" font-size="8.1" text-anchor="start" font-style="normal" font-weight="normal" fill="#0a0a0a" >oxygen labile</text>
<rect x="185.5" y="564.5" width="160.3" height="81.9" fill="none" stroke="#999" stroke-width="0.6" stroke-dasharray="1,1"/>
<path d="M197.30 582.75H215.40V579.40Q217.48 583.60 218.00 586.40Q217.48 589.20 215.40 593.40V590.05H197.30Z" fill="#fff" stroke="#222" stroke-width="0.7" stroke-linejoin="miter"/>
<path d="M219.20 582.75H261.40V579.65L265.20 586.40L261.40 593.15V590.05H219.20Z" fill="#a0628a" stroke="#222" stroke-width="0.7" stroke-linejoin="miter"/>
<path d="M287.50 582.75H269.70V579.40Q267.62 583.60 267.10 586.40Q267.62 589.20 269.70 593.40V590.05H287.50Z" fill="#fff" stroke="#222" stroke-width="0.7" stroke-linejoin="miter"/>
<text x="230.9" y="578.5" font-size="8.1" text-anchor="start" font-style="italic" font-weight="normal" fill="#0a0a0a" >vacA1</text>
<text x="197.9" y="600.7" font-size="8.1" text-anchor="start" font-style="italic" font-weight="normal" fill="#0a0a0a" >cysS</text>
<text x="269.8" y="600.7" font-size="8.1" text-anchor="start" font-style="italic" font-weight="normal" fill="#0a0a0a" >fecE</text>
<path d="M219.70 618.25H201.20V614.90Q199.12 619.10 198.60 621.90Q199.12 624.70 201.20 628.90V625.55H219.70Z" fill="#fff" stroke="#222" stroke-width="0.7" stroke-linejoin="miter"/>
<path d="M221.00 618.25H263.10V615.15L266.90 621.90L263.10 628.65V625.55H221.00Z" fill="#5e1a4a" stroke="#222" stroke-width="0.7" stroke-linejoin="miter"/>
<path d="M268.10 618.25H310.20V615.15L314.00 621.90L310.20 628.65V625.55H268.10Z" fill="#5e1a4a" stroke="#222" stroke-width="0.7" stroke-linejoin="miter"/>
<path d="M335.90 618.25H316.60V614.90Q314.52 619.10 314.00 621.90Q314.52 624.70 316.60 628.90V625.55H335.90Z" fill="#fff" stroke="#222" stroke-width="0.7" stroke-linejoin="miter"/>
<text x="230.9" y="612.6" font-size="8.1" text-anchor="start" font-style="italic" font-weight="normal" fill="#0a0a0a" >vacA2</text>
<text x="275" y="612.6" font-size="8.1" text-anchor="start" font-style="italic" font-weight="normal" fill="#0a0a0a" >vacA3</text>
<text x="197.4" y="638.9" font-size="8.1" text-anchor="start" font-style="normal" font-weight="normal" fill="#0a0a0a" >HP0367</text>
<text x="312.8" y="638.9" font-size="8.1" text-anchor="start" font-style="normal" font-weight="normal" fill="#0a0a0a" >HP0159</text>
<text x="364.6" y="530.9" font-size="12" text-anchor="start" font-style="normal" font-weight="bold" fill="#000" >d</text>
<line x1="502.8" y1="535.7" x2="502.8" y2="635.2" stroke="#222" stroke-width="0.8" />
<line x1="496" y1="634.8" x2="660.8" y2="634.8" stroke="#222" stroke-width="0.8" />
<rect x="503.30" y="539.10" width="150.37" height="13.70" fill="#555555" />
<line x1="499.3" y1="546.0" x2="502.8" y2="546.0" stroke="#222" stroke-width="0.8" />
<text x="495.2" y="545.4" font-size="6.9" text-anchor="end" font-style="normal" font-weight="normal" fill="#0a0a0a" >KW-0998 (<tspan font-style="italic">n</tspan> = 5)</text>
<text x="495.2" y="552.2" font-size="6.9" text-anchor="end" font-style="normal" font-weight="normal" fill="#0a0a0a" >Cell outer membrane</text>
<rect x="503.30" y="555.03" width="132.43" height="13.70" fill="#555555" />
<line x1="499.3" y1="561.93" x2="502.8" y2="561.93" stroke="#222" stroke-width="0.8" />
<text x="495.2" y="561.3299999999999" font-size="6.9" text-anchor="end" font-style="normal" font-weight="normal" fill="#0a0a0a" >IPR002718 (<tspan font-style="italic">n</tspan> = 15)</text>
<text x="495.2" y="568.13" font-size="6.9" text-anchor="end" font-style="normal" font-weight="normal" fill="#0a0a0a" >Outer membrane protein <tspan font-style="italic">Helicobacter</tspan></text>
<rect x="503.30" y="570.96" width="77.78" height="13.70" fill="#555555" />
<line x1="499.3" y1="577.86" x2="502.8" y2="577.86" stroke="#222" stroke-width="0.8" />
<text x="495.2" y="577.26" font-size="6.9" text-anchor="end" font-style="normal" font-weight="normal" fill="#0a0a0a" >COMPBIAS (<tspan font-style="italic">n</tspan> = 10)</text>
<text x="495.2" y="584.0600000000001" font-size="6.9" text-anchor="end" font-style="normal" font-weight="normal" fill="#0a0a0a" >Polar residues</text>
<rect x="503.30" y="586.89" width="50.98" height="13.70" fill="#555555" />
<line x1="499.3" y1="593.79" x2="502.8" y2="593.79" stroke="#222" stroke-width="0.8" />
<text x="495.2" y="593.1899999999999" font-size="6.9" text-anchor="end" font-style="normal" font-weight="normal" fill="#0a0a0a" >KW-0732 (<tspan font-style="italic">n</tspan> = 33)</text>
<text x="495.2" y="599.99" font-size="6.9" text-anchor="end" font-style="normal" font-weight="normal" fill="#0a0a0a" >Signal</text>
<rect x="503.30" y="602.82" width="49.51" height="13.70" fill="#555555" />
<line x1="499.3" y1="609.72" x2="502.8" y2="609.72" stroke="#222" stroke-width="0.8" />
<text x="495.2" y="609.12" font-size="6.9" text-anchor="end" font-style="normal" font-weight="normal" fill="#0a0a0a" >REGION (<tspan font-style="italic">n</tspan> = 20)</text>
<text x="495.2" y="615.9200000000001" font-size="6.9" text-anchor="end" font-style="normal" font-weight="normal" fill="#0a0a0a" >Disordered</text>
<rect x="503.30" y="618.75" width="29.46" height="13.70" fill="#555555" />
<line x1="499.3" y1="625.65" x2="502.8" y2="625.65" stroke="#222" stroke-width="0.8" />
<text x="495.2" y="625.05" font-size="6.9" text-anchor="end" font-style="normal" font-weight="normal" fill="#0a0a0a" >KW-0472 (<tspan font-style="italic">n</tspan> = 28)</text>
<text x="495.2" y="631.85" font-size="6.9" text-anchor="end" font-style="normal" font-weight="normal" fill="#0a0a0a" >Membrane</text>
<line x1="523.9" y1="535.7" x2="523.9" y2="634.8" stroke="#000" stroke-width="1.4" stroke-dasharray="2,1.4"/>
<line x1="502.8" y1="634.8" x2="502.8" y2="637.6" stroke="#222" stroke-width="0.8" />
<text x="502.8" y="646.7" font-size="7.6" text-anchor="middle" font-style="normal" font-weight="normal" fill="#0a0a0a" >0</text>
<line x1="545.0" y1="634.8" x2="545.0" y2="637.6" stroke="#222" stroke-width="0.8" />
<text x="545.0" y="646.7" font-size="7.6" text-anchor="middle" font-style="normal" font-weight="normal" fill="#0a0a0a" >2</text>
<line x1="587.2" y1="634.8" x2="587.2" y2="637.6" stroke="#222" stroke-width="0.8" />
<text x="587.2" y="646.7" font-size="7.6" text-anchor="middle" font-style="normal" font-weight="normal" fill="#0a0a0a" >4</text>
<line x1="629.4" y1="634.8" x2="629.4" y2="637.6" stroke="#222" stroke-width="0.8" />
<text x="629.4" y="646.7" font-size="7.6" text-anchor="middle" font-style="normal" font-weight="normal" fill="#0a0a0a" >6</text>
<text x="581.8" y="659.5" font-size="8.1" text-anchor="middle" font-style="normal" font-weight="normal" fill="#0a0a0a" >Fold enrichment</text>
</svg>
</body></html>
